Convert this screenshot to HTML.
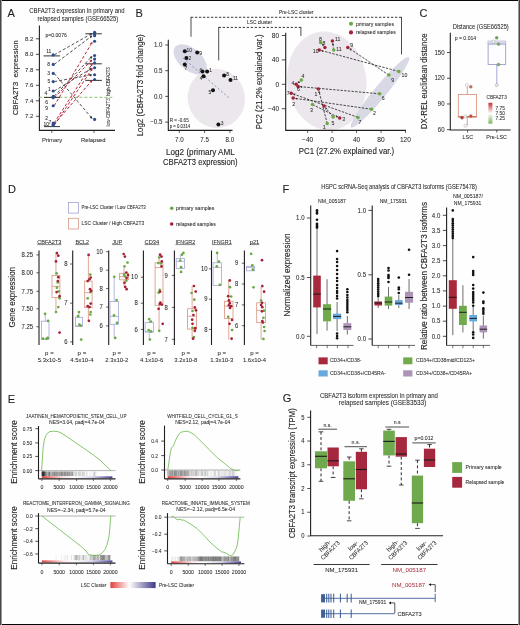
<!DOCTYPE html>
<html><head><meta charset="utf-8"><style>
html,body{margin:0;padding:0;background:#fff;}
svg{display:block;will-change:transform;}
text{font-family:"Liberation Sans", sans-serif;}
</style></head><body>
<svg width="520" height="625" viewBox="0 0 520 625">
<rect x="0" y="0" width="520" height="625" fill="#fefefe"/>
<text x="7.4" y="17" font-size="11" fill="#231f20" stroke="#231f20" stroke-width="0.12">A</text>
<text x="29.2" y="13.2" font-size="6.6" fill="#231f20" stroke="#231f20" stroke-width="0.05" textLength="95.4" lengthAdjust="spacingAndGlyphs">CBFA2T3 expression in primary and</text>
<text x="37.5" y="20.7" font-size="6.6" fill="#231f20" stroke="#231f20" stroke-width="0.05" textLength="80.8" lengthAdjust="spacingAndGlyphs">relapsed samples (GSE66525)</text>
<line x1="39.4" y1="25.4" x2="39.4" y2="130.4" stroke="#231f20" stroke-width="1.1"/>
<line x1="39" y1="130.4" x2="115" y2="130.4" stroke="#231f20" stroke-width="1.1"/>
<line x1="35.9" y1="38.8" x2="39.4" y2="38.8" stroke="#231f20" stroke-width="0.8"/>
<text x="33.3" y="40.9" font-size="6" fill="#231f20" stroke="#231f20" stroke-width="0.05" text-anchor="end">8.2</text>
<line x1="35.9" y1="54.3" x2="39.4" y2="54.3" stroke="#231f20" stroke-width="0.8"/>
<text x="33.3" y="56.4" font-size="6" fill="#231f20" stroke="#231f20" stroke-width="0.05" text-anchor="end">8.0</text>
<line x1="35.9" y1="69.8" x2="39.4" y2="69.8" stroke="#231f20" stroke-width="0.8"/>
<text x="33.3" y="71.9" font-size="6" fill="#231f20" stroke="#231f20" stroke-width="0.05" text-anchor="end">7.8</text>
<line x1="35.9" y1="85.3" x2="39.4" y2="85.3" stroke="#231f20" stroke-width="0.8"/>
<text x="33.3" y="87.4" font-size="6" fill="#231f20" stroke="#231f20" stroke-width="0.05" text-anchor="end">7.6</text>
<line x1="35.9" y1="100.8" x2="39.4" y2="100.8" stroke="#231f20" stroke-width="0.8"/>
<text x="33.3" y="102.9" font-size="6" fill="#231f20" stroke="#231f20" stroke-width="0.05" text-anchor="end">7.4</text>
<line x1="35.9" y1="116.3" x2="39.4" y2="116.3" stroke="#231f20" stroke-width="0.8"/>
<text x="33.3" y="118.4" font-size="6" fill="#231f20" stroke="#231f20" stroke-width="0.05" text-anchor="end">7.2</text>
<line x1="51.8" y1="130.4" x2="51.8" y2="133" stroke="#231f20" stroke-width="0.7"/>
<line x1="94" y1="130.4" x2="94" y2="133" stroke="#231f20" stroke-width="0.7"/>
<text x="52" y="141.8" font-size="6" fill="#231f20" stroke="#231f20" stroke-width="0.05" text-anchor="middle" textLength="20.2" lengthAdjust="spacingAndGlyphs">Primary</text>
<text x="93.3" y="141.8" font-size="6" fill="#231f20" stroke="#231f20" stroke-width="0.05" text-anchor="middle" textLength="24.6" lengthAdjust="spacingAndGlyphs">Relapsed</text>
<text transform="translate(17.7 77.7) rotate(-90)" font-size="7.3" fill="#231f20" stroke="#231f20" stroke-width="0.12" text-anchor="middle" textLength="75" lengthAdjust="spacingAndGlyphs">CBFA2T3  expression</text>
<text x="45.4" y="36.6" font-size="5.6" fill="#231f20" stroke="#231f20" stroke-width="0.05" textLength="21.5" lengthAdjust="spacingAndGlyphs">p=0.0076</text>
<line x1="39.4" y1="97.4" x2="114.5" y2="97.4" stroke="#a6cf8a" stroke-width="1.1" stroke-dasharray="3 2"/>
<text transform="translate(110.3 126.5) rotate(-90)" font-size="4.7" fill="#231f20" stroke="#231f20" stroke-width="0.05" textLength="28.2" lengthAdjust="spacingAndGlyphs">low-CBFA2T3</text>
<text transform="translate(110.3 95.9) rotate(-90)" font-size="4.7" fill="#231f20" stroke="#231f20" stroke-width="0.05" textLength="28.7" lengthAdjust="spacingAndGlyphs">high-CBFA2T3</text>
<line x1="43.6" y1="55.9" x2="60" y2="55.9" stroke="#231f20" stroke-width="0.9"/>
<line x1="44" y1="97.4" x2="60" y2="97.4" stroke="#231f20" stroke-width="0.9"/>
<line x1="44" y1="126.6" x2="60" y2="126.6" stroke="#231f20" stroke-width="0.9"/>
<line x1="85.3" y1="33.8" x2="101.9" y2="33.8" stroke="#231f20" stroke-width="0.9"/>
<line x1="85.3" y1="63.8" x2="101.9" y2="63.8" stroke="#231f20" stroke-width="0.9"/>
<line x1="85.3" y1="80.4" x2="101.9" y2="80.4" stroke="#231f20" stroke-width="0.9"/>
<defs><marker id="ak" viewBox="0 0 6 6" refX="5" refY="3" markerWidth="2.8" markerHeight="2.8" orient="auto"><path d="M0,0 L6,3 L0,6 z" fill="#333"/></marker><marker id="ar" viewBox="0 0 6 6" refX="5" refY="3" markerWidth="2.8" markerHeight="2.8" orient="auto"><path d="M0,0 L6,3 L0,6 z" fill="#b5283a"/></marker></defs>
<line x1="54.2" y1="54.9" x2="91.93" y2="33.49" stroke="#505050" stroke-width="1" stroke-dasharray="3 2" marker-end="url(#ak)"/>
<line x1="54.2" y1="64.4" x2="92" y2="35.8" stroke="#505050" stroke-width="1" stroke-dasharray="3 2" marker-end="url(#ak)"/>
<line x1="54.2" y1="73.4" x2="92.16" y2="118.63" stroke="#505050" stroke-width="1" stroke-dasharray="3 2" marker-end="url(#ak)"/>
<line x1="54.2" y1="81.6" x2="91.82" y2="74.88" stroke="#505050" stroke-width="1" stroke-dasharray="3 2" marker-end="url(#ak)"/>
<line x1="54.2" y1="91" x2="91.94" y2="68.22" stroke="#505050" stroke-width="1" stroke-dasharray="3 2" marker-end="url(#ak)"/>
<line x1="54.2" y1="96.2" x2="92.11" y2="56.23" stroke="#505050" stroke-width="1" stroke-dasharray="3 2" marker-end="url(#ak)"/>
<line x1="54.2" y1="97.8" x2="92.09" y2="59.81" stroke="#b5283a" stroke-width="1" stroke-dasharray="3 2" marker-end="url(#ar)"/>
<line x1="54.2" y1="105.8" x2="92.29" y2="42.16" stroke="#b5283a" stroke-width="1" stroke-dasharray="3 2" marker-end="url(#ar)"/>
<line x1="54.2" y1="123" x2="92.26" y2="63.74" stroke="#b5283a" stroke-width="1" stroke-dasharray="3 2" marker-end="url(#ar)"/>
<line x1="54.2" y1="124.2" x2="92.15" y2="80.26" stroke="#b5283a" stroke-width="1" stroke-dasharray="3 2" marker-end="url(#ar)"/>
<line x1="54.2" y1="125.4" x2="92.24" y2="68.73" stroke="#b5283a" stroke-width="1" stroke-dasharray="3 2" marker-end="url(#ar)"/>
<circle cx="53.2" cy="54.9" r="1.55" fill="#2b4c8c"/>
<circle cx="53.2" cy="64.4" r="1.55" fill="#2b4c8c"/>
<circle cx="53.2" cy="73.4" r="1.55" fill="#2b4c8c"/>
<circle cx="53.2" cy="81.6" r="1.55" fill="#2b4c8c"/>
<circle cx="53.2" cy="91" r="1.55" fill="#2b4c8c"/>
<circle cx="53.2" cy="96.2" r="1.55" fill="#2b4c8c"/>
<circle cx="53.2" cy="97.8" r="1.55" fill="#2b4c8c"/>
<circle cx="53.2" cy="105.8" r="1.55" fill="#2b4c8c"/>
<circle cx="53.2" cy="123" r="1.55" fill="#2b4c8c"/>
<circle cx="53.2" cy="124.2" r="1.55" fill="#2b4c8c"/>
<circle cx="53.2" cy="125.4" r="1.55" fill="#2b4c8c"/>
<circle cx="94.6" cy="32.2" r="1.55" fill="#2b4c8c"/>
<circle cx="94.6" cy="34.1" r="1.55" fill="#2b4c8c"/>
<circle cx="94.6" cy="35.7" r="1.55" fill="#2b4c8c"/>
<circle cx="94.6" cy="41.3" r="1.55" fill="#2b4c8c"/>
<circle cx="94.6" cy="55.5" r="1.55" fill="#2b4c8c"/>
<circle cx="94.6" cy="59.1" r="1.55" fill="#2b4c8c"/>
<circle cx="94.6" cy="62.9" r="1.55" fill="#2b4c8c"/>
<circle cx="94.6" cy="67.7" r="1.55" fill="#2b4c8c"/>
<circle cx="94.6" cy="74.7" r="1.55" fill="#2b4c8c"/>
<circle cx="94.6" cy="79.5" r="1.55" fill="#2b4c8c"/>
<circle cx="94.6" cy="119.4" r="1.55" fill="#2b4c8c"/>
<text x="46.2" y="52.7" font-size="5" fill="#231f20" stroke="#231f20" stroke-width="0.05">11</text>
<text x="47.3" y="66.3" font-size="5" fill="#231f20" stroke="#231f20" stroke-width="0.05">8</text>
<text x="47.3" y="75.3" font-size="5" fill="#231f20" stroke="#231f20" stroke-width="0.05">3</text>
<text x="47.5" y="83.4" font-size="5" fill="#231f20" stroke="#231f20" stroke-width="0.05">5</text>
<text x="48" y="91.4" font-size="5" fill="#231f20" stroke="#231f20" stroke-width="0.05">1</text>
<text x="44.4" y="95.4" font-size="5" fill="#231f20" stroke="#231f20" stroke-width="0.05">4</text>
<text x="45.2" y="103.8" font-size="5" fill="#231f20" stroke="#231f20" stroke-width="0.05">6</text>
<text x="45.2" y="110.4" font-size="5" fill="#231f20" stroke="#231f20" stroke-width="0.05">9</text>
<text x="45.2" y="120.2" font-size="5" fill="#231f20" stroke="#231f20" stroke-width="0.05">2</text>
<text x="43.4" y="125.6" font-size="5" fill="#231f20" stroke="#231f20" stroke-width="0.05">10</text>
<text x="48.6" y="124.2" font-size="5" fill="#231f20" stroke="#231f20" stroke-width="0.05">7</text>
<text x="135.5" y="16.7" font-size="11" fill="#231f20" stroke="#231f20" stroke-width="0.12">B</text>
<ellipse cx="190.2" cy="59.4" rx="19.6" ry="11" fill="#d9d9e5" transform="rotate(40 190.2 59.4)"/>
<ellipse cx="216.3" cy="98.3" rx="28.5" ry="29.8" fill="#ebe7ec" transform="rotate(-20 216.3 98.3)"/>
<line x1="168.3" y1="39.8" x2="168.3" y2="130.4" stroke="#231f20" stroke-width="1.1"/>
<line x1="167.9" y1="130.4" x2="232.5" y2="130.4" stroke="#231f20" stroke-width="1.1"/>
<line x1="165.3" y1="45" x2="168.3" y2="45" stroke="#231f20" stroke-width="0.8"/>
<text x="162.5" y="47.2" font-size="6.5" fill="#231f20" stroke="#231f20" stroke-width="0.05" text-anchor="end" textLength="8.62" lengthAdjust="spacingAndGlyphs">1.0</text>
<line x1="165.3" y1="70.7" x2="168.3" y2="70.7" stroke="#231f20" stroke-width="0.8"/>
<text x="162.5" y="72.9" font-size="6.5" fill="#231f20" stroke="#231f20" stroke-width="0.05" text-anchor="end" textLength="8.62" lengthAdjust="spacingAndGlyphs">0.5</text>
<line x1="165.3" y1="96.4" x2="168.3" y2="96.4" stroke="#231f20" stroke-width="0.8"/>
<text x="162.5" y="98.6" font-size="6.5" fill="#231f20" stroke="#231f20" stroke-width="0.05" text-anchor="end" textLength="8.62" lengthAdjust="spacingAndGlyphs">0.0</text>
<line x1="165.3" y1="122.1" x2="168.3" y2="122.1" stroke="#231f20" stroke-width="0.8"/>
<text x="162.5" y="124.3" font-size="6.5" fill="#231f20" stroke="#231f20" stroke-width="0.05" text-anchor="end" textLength="12.24" lengthAdjust="spacingAndGlyphs">−0.5</text>
<line x1="179.3" y1="130.4" x2="179.3" y2="133" stroke="#231f20" stroke-width="0.7"/>
<text x="179.3" y="141.8" font-size="6.5" fill="#231f20" stroke="#231f20" stroke-width="0.05" text-anchor="middle" textLength="8.62" lengthAdjust="spacingAndGlyphs">7.0</text>
<line x1="204.6" y1="130.4" x2="204.6" y2="133" stroke="#231f20" stroke-width="0.7"/>
<text x="204.6" y="141.8" font-size="6.5" fill="#231f20" stroke="#231f20" stroke-width="0.05" text-anchor="middle" textLength="8.62" lengthAdjust="spacingAndGlyphs">7.5</text>
<line x1="229.9" y1="130.4" x2="229.9" y2="133" stroke="#231f20" stroke-width="0.7"/>
<text x="229.9" y="141.8" font-size="6.5" fill="#231f20" stroke="#231f20" stroke-width="0.05" text-anchor="middle" textLength="8.62" lengthAdjust="spacingAndGlyphs">8.0</text>
<text x="200.4" y="154.9" font-size="8.3" fill="#231f20" stroke="#231f20" stroke-width="0.12" text-anchor="middle" textLength="68.7" lengthAdjust="spacingAndGlyphs">Log2 (primary AML</text>
<text x="200.3" y="164.7" font-size="8.3" fill="#231f20" stroke="#231f20" stroke-width="0.12" text-anchor="middle" textLength="74.4" lengthAdjust="spacingAndGlyphs">CBFA2T3 expression)</text>
<text transform="translate(143.4 85.3) rotate(-90)" font-size="8.3" fill="#231f20" stroke="#231f20" stroke-width="0.12" text-anchor="middle" textLength="102" lengthAdjust="spacingAndGlyphs">Log2 (CBFA2T3 fold change)</text>
<line x1="182.9" y1="57.9" x2="229.5" y2="98.3" stroke="#6a78b8" stroke-width="0.7" stroke-dasharray="2.2 2"/>
<circle cx="184.8" cy="51.2" r="2" fill="#111"/>
<text x="186.6" y="52" font-size="4.9" fill="#231f20" stroke="#231f20" stroke-width="0.05">10</text>
<circle cx="197.2" cy="52.5" r="2" fill="#111"/>
<text x="199.3" y="55.1" font-size="4.9" fill="#231f20" stroke="#231f20" stroke-width="0.05">9</text>
<circle cx="186.4" cy="57.9" r="2" fill="#111"/>
<text x="188.5" y="59.5" font-size="4.9" fill="#231f20" stroke="#231f20" stroke-width="0.05">2</text>
<circle cx="184.8" cy="64.6" r="2" fill="#111"/>
<text x="184.6" y="70.4" font-size="4.9" fill="#231f20" stroke="#231f20" stroke-width="0.05">7</text>
<circle cx="202.5" cy="71.4" r="2" fill="#111"/>
<text x="199.4" y="71.9" font-size="4.9" fill="#231f20" stroke="#231f20" stroke-width="0.05">6</text>
<circle cx="207.1" cy="71.4" r="2" fill="#111"/>
<text x="209.3" y="71.8" font-size="4.9" fill="#231f20" stroke="#231f20" stroke-width="0.05">1</text>
<circle cx="203.6" cy="76.2" r="2" fill="#111"/>
<text x="199.7" y="80.4" font-size="4.9" fill="#231f20" stroke="#231f20" stroke-width="0.05">4</text>
<circle cx="224.1" cy="75.4" r="2" fill="#111"/>
<text x="226.3" y="75.8" font-size="4.9" fill="#231f20" stroke="#231f20" stroke-width="0.05">8</text>
<circle cx="230.5" cy="80" r="2" fill="#111"/>
<text x="232.9" y="80.2" font-size="4.9" fill="#231f20" stroke="#231f20" stroke-width="0.05">11</text>
<circle cx="213" cy="90.2" r="2" fill="#111"/>
<text x="208.4" y="93.6" font-size="4.9" fill="#231f20" stroke="#231f20" stroke-width="0.05">5</text>
<circle cx="218.4" cy="124.6" r="2" fill="#111"/>
<text x="220.8" y="124.8" font-size="4.9" fill="#231f20" stroke="#231f20" stroke-width="0.05">3</text>
<text x="169.7" y="121.7" font-size="4.6" fill="#231f20" stroke="#231f20" stroke-width="0.05" textLength="19" lengthAdjust="spacingAndGlyphs">R = -0.65</text>
<text x="169.7" y="127.7" font-size="4.6" fill="#231f20" stroke="#231f20" stroke-width="0.05" textLength="20.5" lengthAdjust="spacingAndGlyphs">p = 0.0314</text>
<line x1="191" y1="17.3" x2="401.5" y2="17.3" stroke="#222" stroke-width="0.9" stroke-dasharray="2.3 1.7"/>
<line x1="191" y1="16.85" x2="191" y2="36.7" stroke="#231f20" stroke-width="0.8"/>
<line x1="401.5" y1="16.85" x2="401.5" y2="54.5" stroke="#231f20" stroke-width="0.8"/>
<text x="296.3" y="14.3" font-size="4.9" fill="#231f20" stroke="#231f20" stroke-width="0.05" text-anchor="middle" textLength="34.4" lengthAdjust="spacingAndGlyphs">Pre-LSC cluster</text>
<line x1="218.7" y1="27.4" x2="300.9" y2="27.4" stroke="#222" stroke-width="0.9" stroke-dasharray="2.3 1.7"/>
<line x1="218.7" y1="26.95" x2="218.7" y2="60.4" stroke="#231f20" stroke-width="0.8"/>
<line x1="300.9" y1="26.95" x2="300.9" y2="36" stroke="#231f20" stroke-width="0.8"/>
<text x="259.5" y="24.2" font-size="4.9" fill="#231f20" stroke="#231f20" stroke-width="0.05" text-anchor="middle" textLength="25" lengthAdjust="spacingAndGlyphs">LSC cluster</text>
<ellipse cx="326.8" cy="81" rx="39.5" ry="49.5" fill="#ebe7ec" transform="rotate(-8 325.5 81)"/>
<ellipse cx="380" cy="92.3" rx="45.5" ry="6.3" fill="#d9d9e5" transform="rotate(-50.5 380 92.3)"/>
<line x1="285.7" y1="32.7" x2="285.7" y2="130.4" stroke="#231f20" stroke-width="1.1"/>
<line x1="285.3" y1="130.4" x2="406" y2="130.4" stroke="#231f20" stroke-width="1.1"/>
<line x1="281.8" y1="35.5" x2="285.7" y2="35.5" stroke="#231f20" stroke-width="0.8"/>
<text x="279.2" y="37.8" font-size="6.8" fill="#231f20" stroke="#231f20" stroke-width="0.05" text-anchor="end" textLength="7.34" lengthAdjust="spacingAndGlyphs">80</text>
<line x1="281.8" y1="59.9" x2="285.7" y2="59.9" stroke="#231f20" stroke-width="0.8"/>
<text x="279.2" y="62.2" font-size="6.8" fill="#231f20" stroke="#231f20" stroke-width="0.05" text-anchor="end" textLength="7.34" lengthAdjust="spacingAndGlyphs">40</text>
<line x1="281.8" y1="84.3" x2="285.7" y2="84.3" stroke="#231f20" stroke-width="0.8"/>
<text x="279.2" y="86.6" font-size="6.8" fill="#231f20" stroke="#231f20" stroke-width="0.05" text-anchor="end" textLength="3.67" lengthAdjust="spacingAndGlyphs">0</text>
<line x1="281.8" y1="108.7" x2="285.7" y2="108.7" stroke="#231f20" stroke-width="0.8"/>
<text x="279.2" y="111" font-size="6.8" fill="#231f20" stroke="#231f20" stroke-width="0.05" text-anchor="end" textLength="11.2" lengthAdjust="spacingAndGlyphs">−40</text>
<line x1="307.65" y1="130.4" x2="307.65" y2="133" stroke="#231f20" stroke-width="0.7"/>
<text x="307.65" y="141.8" font-size="6.8" fill="#231f20" stroke="#231f20" stroke-width="0.05" text-anchor="middle" textLength="11.2" lengthAdjust="spacingAndGlyphs">−40</text>
<line x1="332.1" y1="130.4" x2="332.1" y2="133" stroke="#231f20" stroke-width="0.7"/>
<text x="332.1" y="141.8" font-size="6.8" fill="#231f20" stroke="#231f20" stroke-width="0.05" text-anchor="middle" textLength="3.67" lengthAdjust="spacingAndGlyphs">0</text>
<line x1="356.55" y1="130.4" x2="356.55" y2="133" stroke="#231f20" stroke-width="0.7"/>
<text x="356.55" y="141.8" font-size="6.8" fill="#231f20" stroke="#231f20" stroke-width="0.05" text-anchor="middle" textLength="7.34" lengthAdjust="spacingAndGlyphs">40</text>
<line x1="381" y1="130.4" x2="381" y2="133" stroke="#231f20" stroke-width="0.7"/>
<text x="381" y="141.8" font-size="6.8" fill="#231f20" stroke="#231f20" stroke-width="0.05" text-anchor="middle" textLength="7.34" lengthAdjust="spacingAndGlyphs">80</text>
<line x1="405.45" y1="130.4" x2="405.45" y2="133" stroke="#231f20" stroke-width="0.7"/>
<text x="405.45" y="141.8" font-size="6.8" fill="#231f20" stroke="#231f20" stroke-width="0.05" text-anchor="middle" textLength="11.01" lengthAdjust="spacingAndGlyphs">120</text>
<text x="346.5" y="154.1" font-size="8.3" fill="#231f20" stroke="#231f20" stroke-width="0.12" text-anchor="middle" textLength="95.5" lengthAdjust="spacingAndGlyphs">PC1 (27.2% explained var.)</text>
<text transform="translate(262.1 81.8) rotate(-90)" font-size="8.3" fill="#231f20" stroke="#231f20" stroke-width="0.12" text-anchor="middle" textLength="95" lengthAdjust="spacingAndGlyphs">PC2 (21.2% explained var.)</text>
<circle cx="351" cy="23.8" r="2.05" fill="#6aaa45"/>
<text x="356" y="25.8" font-size="5.8" fill="#231f20" stroke="#231f20" stroke-width="0.05" textLength="38" lengthAdjust="spacingAndGlyphs">primary samples</text>
<circle cx="351" cy="32.4" r="2.05" fill="#a51f36"/>
<text x="356" y="33.9" font-size="5.8" fill="#231f20" stroke="#231f20" stroke-width="0.05" textLength="39.8" lengthAdjust="spacingAndGlyphs">relapsed samples</text>
<line x1="388.9" y1="75.1" x2="349.62" y2="48.63" stroke="#2a2a2a" stroke-width="0.85" stroke-dasharray="2.4 1.3" marker-end="url(#ak)"/>
<line x1="398.9" y1="71.5" x2="321.42" y2="50.57" stroke="#2a2a2a" stroke-width="0.85" stroke-dasharray="2.4 1.3" marker-end="url(#ak)"/>
<line x1="379.7" y1="93.8" x2="300.29" y2="86.7" stroke="#2a2a2a" stroke-width="0.85" stroke-dasharray="2.4 1.3" marker-end="url(#ak)"/>
<line x1="371.5" y1="109.2" x2="295.38" y2="98.41" stroke="#2a2a2a" stroke-width="0.85" stroke-dasharray="2.4 1.3" marker-end="url(#ak)"/>
<line x1="358" y1="117.4" x2="293.27" y2="93.95" stroke="#2a2a2a" stroke-width="0.85" stroke-dasharray="2.4 1.3" marker-end="url(#ak)"/>
<line x1="312.5" y1="104.6" x2="337.73" y2="117.03" stroke="#2a2a2a" stroke-width="0.85" stroke-dasharray="2.4 1.3" marker-end="url(#ak)"/>
<line x1="327.2" y1="123.6" x2="318.94" y2="91.03" stroke="#2a2a2a" stroke-width="0.85" stroke-dasharray="2.4 1.3" marker-end="url(#ak)"/>
<line x1="333.1" y1="117" x2="325.39" y2="107.6" stroke="#2a2a2a" stroke-width="0.85" stroke-dasharray="2.4 1.3" marker-end="url(#ak)"/>
<line x1="301.4" y1="80.1" x2="297.82" y2="82.93" stroke="#2a2a2a" stroke-width="0.85" stroke-dasharray="2.4 1.3" marker-end="url(#ak)"/>
<line x1="320.6" y1="42.5" x2="323.45" y2="45.75" stroke="#2a2a2a" stroke-width="0.85" stroke-dasharray="2.4 1.3" marker-end="url(#ak)"/>
<line x1="333.7" y1="50" x2="332.71" y2="43.08" stroke="#2a2a2a" stroke-width="0.85" stroke-dasharray="2.4 1.3" marker-end="url(#ak)"/>
<circle cx="320.6" cy="42.5" r="1.75" fill="#6aaa45"/>
<circle cx="333.7" cy="50" r="1.75" fill="#6aaa45"/>
<circle cx="301.4" cy="80.1" r="1.75" fill="#6aaa45"/>
<circle cx="388.9" cy="75.1" r="1.75" fill="#6aaa45"/>
<circle cx="398.9" cy="71.5" r="1.75" fill="#6aaa45"/>
<circle cx="379.7" cy="93.8" r="1.75" fill="#6aaa45"/>
<circle cx="371.5" cy="109.2" r="1.75" fill="#6aaa45"/>
<circle cx="358" cy="117.4" r="1.75" fill="#6aaa45"/>
<circle cx="312.5" cy="104.6" r="1.75" fill="#6aaa45"/>
<circle cx="333.1" cy="117" r="1.75" fill="#6aaa45"/>
<circle cx="327.2" cy="123.6" r="1.75" fill="#6aaa45"/>
<circle cx="332.4" cy="40.9" r="1.75" fill="#a51f36"/>
<circle cx="324.9" cy="47.4" r="1.75" fill="#a51f36"/>
<circle cx="319.3" cy="50" r="1.75" fill="#a51f36"/>
<circle cx="347.8" cy="47.4" r="1.75" fill="#a51f36"/>
<circle cx="296.1" cy="84.3" r="1.75" fill="#a51f36"/>
<circle cx="298.1" cy="86.5" r="1.75" fill="#a51f36"/>
<circle cx="318.4" cy="88.9" r="1.75" fill="#a51f36"/>
<circle cx="291.2" cy="93.2" r="1.75" fill="#a51f36"/>
<circle cx="293.2" cy="98.1" r="1.75" fill="#a51f36"/>
<circle cx="339.7" cy="118" r="1.75" fill="#a51f36"/>
<circle cx="324" cy="105.9" r="1.75" fill="#a51f36"/>
<text x="319.1" y="40.5" font-size="5.2" fill="#231f20" stroke="#231f20" stroke-width="0.05">8</text>
<text x="336.2" y="50.8" font-size="5.2" fill="#231f20" stroke="#231f20" stroke-width="0.05">11</text>
<text x="301.4" y="78.1" font-size="5.2" fill="#231f20" stroke="#231f20" stroke-width="0.05">4</text>
<text x="391.2" y="81.5" font-size="5.2" fill="#231f20" stroke="#231f20" stroke-width="0.05">9</text>
<text x="401.5" y="76.9" font-size="5.2" fill="#231f20" stroke="#231f20" stroke-width="0.05">10</text>
<text x="381.8" y="100" font-size="5.2" fill="#231f20" stroke="#231f20" stroke-width="0.05">6</text>
<text x="373" y="114.6" font-size="5.2" fill="#231f20" stroke="#231f20" stroke-width="0.05">2</text>
<text x="358.5" y="124.3" font-size="5.2" fill="#231f20" stroke="#231f20" stroke-width="0.05">7</text>
<text x="310" y="111.6" font-size="5.2" fill="#231f20" stroke="#231f20" stroke-width="0.05">3</text>
<text x="331.6" y="124.5" font-size="5.2" fill="#231f20" stroke="#231f20" stroke-width="0.05">5</text>
<text x="322.7" y="129.4" font-size="5.2" fill="#231f20" stroke="#231f20" stroke-width="0.05">1</text>
<text x="334.9" y="41.4" font-size="5.2" fill="#231f20" stroke="#231f20" stroke-width="0.05">11</text>
<text x="322.4" y="45.4" font-size="5.2" fill="#231f20" stroke="#231f20" stroke-width="0.05">8</text>
<text x="312.8" y="53" font-size="5.2" fill="#231f20" stroke="#231f20" stroke-width="0.05">10</text>
<text x="350.3" y="47.4" font-size="5.2" fill="#231f20" stroke="#231f20" stroke-width="0.05">9</text>
<text x="291.6" y="85.3" font-size="5.2" fill="#231f20" stroke="#231f20" stroke-width="0.05">4</text>
<text x="297.1" y="90.5" font-size="5.2" fill="#231f20" stroke="#231f20" stroke-width="0.05">6</text>
<text x="314.4" y="96.4" font-size="5.2" fill="#231f20" stroke="#231f20" stroke-width="0.05">1</text>
<text x="286.7" y="94.7" font-size="5.2" fill="#231f20" stroke="#231f20" stroke-width="0.05">7</text>
<text x="292.2" y="106.1" font-size="5.2" fill="#231f20" stroke="#231f20" stroke-width="0.05">2</text>
<text x="342.2" y="121" font-size="5.2" fill="#231f20" stroke="#231f20" stroke-width="0.05">3</text>
<text x="419.6" y="16.6" font-size="11" fill="#231f20" stroke="#231f20" stroke-width="0.12">C</text>
<text x="452.8" y="28.5" font-size="6.4" fill="#231f20" stroke="#231f20" stroke-width="0.05" textLength="56" lengthAdjust="spacingAndGlyphs">Distance (GSE66525)</text>
<line x1="450.3" y1="32.8" x2="450.3" y2="130" stroke="#231f20" stroke-width="1.1"/>
<line x1="449.8" y1="130" x2="510.6" y2="130" stroke="#231f20" stroke-width="1.1"/>
<line x1="447" y1="52.51" x2="450.3" y2="52.51" stroke="#231f20" stroke-width="0.8"/>
<text x="444.5" y="54.71" font-size="6.4" fill="#231f20" stroke="#231f20" stroke-width="0.05" text-anchor="end" textLength="10.09" lengthAdjust="spacingAndGlyphs">150</text>
<line x1="447" y1="78.24" x2="450.3" y2="78.24" stroke="#231f20" stroke-width="0.8"/>
<text x="444.5" y="80.44" font-size="6.4" fill="#231f20" stroke="#231f20" stroke-width="0.05" text-anchor="end" textLength="10.09" lengthAdjust="spacingAndGlyphs">120</text>
<line x1="447" y1="103.97" x2="450.3" y2="103.97" stroke="#231f20" stroke-width="0.8"/>
<text x="444.5" y="106.17" font-size="6.4" fill="#231f20" stroke="#231f20" stroke-width="0.05" text-anchor="end" textLength="6.73" lengthAdjust="spacingAndGlyphs">90</text>
<line x1="447" y1="129.7" x2="450.3" y2="129.7" stroke="#231f20" stroke-width="0.8"/>
<text x="444.5" y="131.9" font-size="6.4" fill="#231f20" stroke="#231f20" stroke-width="0.05" text-anchor="end" textLength="6.73" lengthAdjust="spacingAndGlyphs">60</text>
<line x1="467.6" y1="130" x2="467.6" y2="132.6" stroke="#231f20" stroke-width="0.7"/>
<line x1="496.8" y1="130" x2="496.8" y2="132.6" stroke="#231f20" stroke-width="0.7"/>
<text x="467.8" y="139.2" font-size="6.2" fill="#231f20" stroke="#231f20" stroke-width="0.05" text-anchor="middle" textLength="10.6" lengthAdjust="spacingAndGlyphs">LSC</text>
<text x="496.6" y="139.2" font-size="6.2" fill="#231f20" stroke="#231f20" stroke-width="0.05" text-anchor="middle" textLength="20.6" lengthAdjust="spacingAndGlyphs">Pre-LSC</text>
<text transform="translate(427.3 81.3) rotate(-90)" font-size="8.2" fill="#231f20" stroke="#231f20" stroke-width="0.12" text-anchor="middle" textLength="96" lengthAdjust="spacingAndGlyphs">DX-REL euclidean distance</text>
<text x="454.7" y="39.8" font-size="5.6" fill="#231f20" stroke="#231f20" stroke-width="0.05" textLength="21.5" lengthAdjust="spacingAndGlyphs">p = 0.014</text>
<line x1="496.8" y1="64.4" x2="496.8" y2="85.2" stroke="#8c92c6" stroke-width="0.8"/>
<rect x="488.1" y="41.2" width="17.6" height="23.2" fill="#fdfdff" stroke="#8c92c6" stroke-width="0.8"/>
<rect x="488.1" y="41.2" width="17.6" height="2.9" fill="#dcdcef"/>
<line x1="488.1" y1="44.1" x2="505.7" y2="44.1" stroke="#8c92c6" stroke-width="0.8"/>
<line x1="467.3" y1="86.8" x2="467.3" y2="94.5" stroke="#d98b74" stroke-width="0.8"/>
<line x1="467.3" y1="117.3" x2="467.3" y2="125.3" stroke="#d98b74" stroke-width="0.8"/>
<rect x="458.3" y="94.5" width="18.1" height="22.8" fill="none" stroke="#d98b74" stroke-width="0.8"/>
<line x1="458.3" y1="116.5" x2="476.4" y2="116.5" stroke="#c86a55" stroke-width="0.9"/>
<circle cx="496.7" cy="37.7" r="1.5" fill="#6ea84e" stroke="#777" stroke-width="0.35"/>
<circle cx="493.5" cy="41.5" r="1.5" fill="#ffffff" stroke="#777" stroke-width="0.35"/>
<circle cx="498.5" cy="44.1" r="1.5" fill="#7ab25a" stroke="#777" stroke-width="0.35"/>
<circle cx="498.5" cy="64.4" r="1.5" fill="#7ab25a" stroke="#777" stroke-width="0.35"/>
<circle cx="496.7" cy="85.2" r="1.5" fill="#eef3e6" stroke="#777" stroke-width="0.35"/>
<circle cx="466.8" cy="85.2" r="1.5" fill="#ffffff" stroke="#777" stroke-width="0.35"/>
<circle cx="470.8" cy="86.8" r="1.5" fill="#cf6e5c" stroke="#777" stroke-width="0.35"/>
<circle cx="462" cy="117.7" r="1.5" fill="#c22c2c" stroke="#777" stroke-width="0.35"/>
<circle cx="465.2" cy="116.5" r="1.5" fill="#ffffff" stroke="#777" stroke-width="0.35"/>
<circle cx="470.8" cy="116.1" r="1.5" fill="#c94a3c" stroke="#777" stroke-width="0.35"/>
<circle cx="465.5" cy="125.7" r="1.5" fill="#ffffff" stroke="#777" stroke-width="0.35"/>
<text x="486.5" y="99.2" font-size="4.6" fill="#231f20" stroke="#231f20" stroke-width="0.05" textLength="20.3" lengthAdjust="spacingAndGlyphs">CBFA2T3</text>
<defs><linearGradient id="gC" x1="0" y1="0" x2="0" y2="1"><stop offset="0" stop-color="#c62d2d"/><stop offset="0.5" stop-color="#ffffff"/><stop offset="1" stop-color="#7db35c"/></linearGradient></defs>
<rect x="488.4" y="102.8" width="4" height="20.9" fill="url(#gC)"/>
<text x="495.6" y="109.7" font-size="4.8" fill="#231f20" stroke="#231f20" stroke-width="0.05">7.75</text>
<text x="495.6" y="114.9" font-size="4.8" fill="#231f20" stroke="#231f20" stroke-width="0.05">7.50</text>
<text x="495.6" y="120.3" font-size="4.8" fill="#231f20" stroke="#231f20" stroke-width="0.05">7.25</text>
<text x="8" y="192.9" font-size="11" fill="#231f20" stroke="#231f20" stroke-width="0.12">D</text>
<rect x="68.4" y="202.4" width="10.1" height="10.7" fill="none" stroke="#9ea4d2" stroke-width="0.8"/>
<rect x="68.4" y="218.3" width="10.1" height="10.7" fill="none" stroke="#d39a86" stroke-width="0.8"/>
<text x="81.6" y="209.4" font-size="5.2" fill="#231f20" stroke="#231f20" stroke-width="0.05" textLength="64.2" lengthAdjust="spacingAndGlyphs">Pre-LSC Cluster / Low CBFA2T3</text>
<text x="81.6" y="225.3" font-size="5.2" fill="#231f20" stroke="#231f20" stroke-width="0.05" textLength="62.6" lengthAdjust="spacingAndGlyphs">LSC Cluster / High CBFA2T3</text>
<circle cx="171.7" cy="208.2" r="1.8" fill="#6aaa45"/>
<text x="176" y="210" font-size="5.2" fill="#231f20" stroke="#231f20" stroke-width="0.05" textLength="38.4" lengthAdjust="spacingAndGlyphs">primary samples</text>
<circle cx="171.7" cy="224" r="1.8" fill="#a51f36"/>
<text x="176" y="225.8" font-size="5.2" fill="#231f20" stroke="#231f20" stroke-width="0.05" textLength="39.9" lengthAdjust="spacingAndGlyphs">relapsed samples</text>
<text x="37.2" y="243.8" font-size="6.1" fill="#231f20" stroke="#231f20" stroke-width="0.05" textLength="24.1" lengthAdjust="spacingAndGlyphs">CBFA2T3</text>
<line x1="37.2" y1="244.6" x2="61.3" y2="244.6" stroke="#231f20" stroke-width="0.55"/>
<line x1="39" y1="250.5" x2="39" y2="345" stroke="#231f20" stroke-width="1.1"/>
<line x1="36.4" y1="254.9" x2="39" y2="254.9" stroke="#231f20" stroke-width="0.7"/>
<text x="33.2" y="257.1" font-size="6.3" fill="#231f20" stroke="#231f20" stroke-width="0.05" text-anchor="end" textLength="11.58" lengthAdjust="spacingAndGlyphs">8.25</text>
<line x1="36.4" y1="272.8" x2="39" y2="272.8" stroke="#231f20" stroke-width="0.7"/>
<text x="33.2" y="275" font-size="6.3" fill="#231f20" stroke="#231f20" stroke-width="0.05" text-anchor="end" textLength="11.58" lengthAdjust="spacingAndGlyphs">8.00</text>
<line x1="36.4" y1="291.3" x2="39" y2="291.3" stroke="#231f20" stroke-width="0.7"/>
<text x="33.2" y="293.5" font-size="6.3" fill="#231f20" stroke="#231f20" stroke-width="0.05" text-anchor="end" textLength="11.58" lengthAdjust="spacingAndGlyphs">7.75</text>
<line x1="36.4" y1="308.8" x2="39" y2="308.8" stroke="#231f20" stroke-width="0.7"/>
<text x="33.2" y="311" font-size="6.3" fill="#231f20" stroke="#231f20" stroke-width="0.05" text-anchor="end" textLength="11.58" lengthAdjust="spacingAndGlyphs">7.50</text>
<line x1="36.4" y1="326.8" x2="39" y2="326.8" stroke="#231f20" stroke-width="0.7"/>
<text x="33.2" y="329" font-size="6.3" fill="#231f20" stroke="#231f20" stroke-width="0.05" text-anchor="end" textLength="11.58" lengthAdjust="spacingAndGlyphs">7.25</text>
<line x1="45.25" y1="313.2" x2="45.25" y2="321.2" stroke="#a3a8d4" stroke-width="0.8"/>
<rect x="41.5" y="321.2" width="7.5" height="18.1" fill="none" stroke="#a3a8d4" stroke-width="0.8"/>
<line x1="41.5" y1="338.8" x2="49" y2="338.8" stroke="#a3a8d4" stroke-width="0.8"/>
<line x1="55.95" y1="253.1" x2="55.95" y2="275.4" stroke="#d7937e" stroke-width="0.8"/>
<line x1="55.95" y1="297.4" x2="55.95" y2="312.4" stroke="#d7937e" stroke-width="0.8"/>
<rect x="52" y="275.4" width="7.9" height="22" fill="none" stroke="#d7937e" stroke-width="0.8"/>
<line x1="52" y1="286.3" x2="59.9" y2="286.3" stroke="#d7937e" stroke-width="0.8"/>
<circle cx="45.1" cy="313.8" r="1.35" fill="#6aaa45"/>
<circle cx="48.1" cy="320.8" r="1.35" fill="#6aaa45"/>
<circle cx="42.9" cy="338.7" r="1.35" fill="#6aaa45"/>
<circle cx="46.7" cy="338.7" r="1.35" fill="#6aaa45"/>
<circle cx="47.8" cy="337.9" r="1.35" fill="#6aaa45"/>
<circle cx="56.6" cy="273.3" r="1.35" fill="#6aaa45"/>
<circle cx="57.8" cy="282.5" r="1.35" fill="#6aaa45"/>
<circle cx="56.9" cy="287.7" r="1.35" fill="#6aaa45"/>
<circle cx="58.7" cy="291.3" r="1.35" fill="#6aaa45"/>
<circle cx="59.6" cy="298.3" r="1.35" fill="#6aaa45"/>
<circle cx="58.3" cy="307.1" r="1.35" fill="#6aaa45"/>
<circle cx="56" cy="312" r="1.35" fill="#6aaa45"/>
<circle cx="56.9" cy="253.1" r="1.35" fill="#a51f36"/>
<circle cx="58.3" cy="255.7" r="1.35" fill="#a51f36"/>
<circle cx="56" cy="261.4" r="1.35" fill="#a51f36"/>
<circle cx="58.3" cy="277.2" r="1.35" fill="#a51f36"/>
<circle cx="57.8" cy="281.1" r="1.35" fill="#a51f36"/>
<circle cx="56.6" cy="292.1" r="1.35" fill="#a51f36"/>
<circle cx="59.6" cy="296.2" r="1.35" fill="#a51f36"/>
<circle cx="59.6" cy="332.6" r="1.35" fill="#a51f36"/>
<text x="75.4" y="243.8" font-size="6.1" fill="#231f20" stroke="#231f20" stroke-width="0.05" textLength="13.5" lengthAdjust="spacingAndGlyphs">BCL2</text>
<line x1="75.4" y1="244.6" x2="88.9" y2="244.6" stroke="#231f20" stroke-width="0.55"/>
<line x1="72.7" y1="250.5" x2="72.7" y2="345" stroke="#231f20" stroke-width="1.1"/>
<line x1="70.1" y1="264" x2="72.7" y2="264" stroke="#231f20" stroke-width="0.7"/>
<text x="67.5" y="266.2" font-size="6.3" fill="#231f20" stroke="#231f20" stroke-width="0.05" text-anchor="end" textLength="3.31" lengthAdjust="spacingAndGlyphs">8</text>
<line x1="70.1" y1="303.2" x2="72.7" y2="303.2" stroke="#231f20" stroke-width="0.7"/>
<text x="67.5" y="305.4" font-size="6.3" fill="#231f20" stroke="#231f20" stroke-width="0.05" text-anchor="end" textLength="3.31" lengthAdjust="spacingAndGlyphs">7</text>
<line x1="70.1" y1="341.9" x2="72.7" y2="341.9" stroke="#231f20" stroke-width="0.7"/>
<text x="67.5" y="344.1" font-size="6.3" fill="#231f20" stroke="#231f20" stroke-width="0.05" text-anchor="end" textLength="3.31" lengthAdjust="spacingAndGlyphs">6</text>
<line x1="78.9" y1="312" x2="78.9" y2="317.3" stroke="#a3a8d4" stroke-width="0.8"/>
<rect x="75.4" y="317.3" width="7" height="9.1" fill="none" stroke="#a3a8d4" stroke-width="0.8"/>
<line x1="75.4" y1="325.8" x2="82.4" y2="325.8" stroke="#a3a8d4" stroke-width="0.8"/>
<line x1="88.4" y1="254.9" x2="88.4" y2="281.1" stroke="#d7937e" stroke-width="0.8"/>
<line x1="88.4" y1="307.6" x2="88.4" y2="321.2" stroke="#d7937e" stroke-width="0.8"/>
<rect x="84.7" y="281.1" width="7.4" height="26.5" fill="none" stroke="#d7937e" stroke-width="0.8"/>
<line x1="84.7" y1="292.7" x2="92.1" y2="292.7" stroke="#d7937e" stroke-width="0.8"/>
<circle cx="78.9" cy="312" r="1.35" fill="#6aaa45"/>
<circle cx="78" cy="316.2" r="1.35" fill="#6aaa45"/>
<circle cx="79.4" cy="324.7" r="1.35" fill="#6aaa45"/>
<circle cx="80.7" cy="325.5" r="1.35" fill="#6aaa45"/>
<circle cx="81.2" cy="339.6" r="1.35" fill="#6aaa45"/>
<circle cx="90.3" cy="274.6" r="1.35" fill="#6aaa45"/>
<circle cx="90.3" cy="292.1" r="1.35" fill="#6aaa45"/>
<circle cx="87.7" cy="298.3" r="1.35" fill="#6aaa45"/>
<circle cx="90.7" cy="312" r="1.35" fill="#6aaa45"/>
<circle cx="90.3" cy="314.5" r="1.35" fill="#6aaa45"/>
<circle cx="88.6" cy="254.9" r="1.35" fill="#a51f36"/>
<circle cx="90.7" cy="277.5" r="1.35" fill="#a51f36"/>
<circle cx="89.5" cy="279.3" r="1.35" fill="#a51f36"/>
<circle cx="87.7" cy="281.1" r="1.35" fill="#a51f36"/>
<circle cx="90" cy="289.2" r="1.35" fill="#a51f36"/>
<circle cx="91.2" cy="290.9" r="1.35" fill="#a51f36"/>
<circle cx="90.7" cy="303.6" r="1.35" fill="#a51f36"/>
<circle cx="87.7" cy="306.2" r="1.35" fill="#a51f36"/>
<circle cx="89.5" cy="307.1" r="1.35" fill="#a51f36"/>
<circle cx="88.9" cy="320.8" r="1.35" fill="#a51f36"/>
<text x="112.2" y="243.8" font-size="6.1" fill="#231f20" stroke="#231f20" stroke-width="0.05" textLength="10.1" lengthAdjust="spacingAndGlyphs">JUP</text>
<line x1="112.2" y1="244.6" x2="122.3" y2="244.6" stroke="#231f20" stroke-width="0.55"/>
<line x1="108.7" y1="250.5" x2="108.7" y2="345" stroke="#231f20" stroke-width="1.1"/>
<line x1="106.1" y1="251.7" x2="108.7" y2="251.7" stroke="#231f20" stroke-width="0.7"/>
<text x="102.9" y="253.9" font-size="6.3" fill="#231f20" stroke="#231f20" stroke-width="0.05" text-anchor="end" textLength="6.62" lengthAdjust="spacingAndGlyphs">10</text>
<line x1="106.1" y1="270.2" x2="108.7" y2="270.2" stroke="#231f20" stroke-width="0.7"/>
<text x="102.9" y="272.4" font-size="6.3" fill="#231f20" stroke="#231f20" stroke-width="0.05" text-anchor="end" textLength="3.31" lengthAdjust="spacingAndGlyphs">9</text>
<line x1="106.1" y1="288.6" x2="108.7" y2="288.6" stroke="#231f20" stroke-width="0.7"/>
<text x="102.9" y="290.8" font-size="6.3" fill="#231f20" stroke="#231f20" stroke-width="0.05" text-anchor="end" textLength="3.31" lengthAdjust="spacingAndGlyphs">8</text>
<line x1="106.1" y1="307.1" x2="108.7" y2="307.1" stroke="#231f20" stroke-width="0.7"/>
<text x="102.9" y="309.3" font-size="6.3" fill="#231f20" stroke="#231f20" stroke-width="0.05" text-anchor="end" textLength="3.31" lengthAdjust="spacingAndGlyphs">7</text>
<line x1="106.1" y1="325.9" x2="108.7" y2="325.9" stroke="#231f20" stroke-width="0.7"/>
<text x="102.9" y="328.1" font-size="6.3" fill="#231f20" stroke="#231f20" stroke-width="0.05" text-anchor="end" textLength="3.31" lengthAdjust="spacingAndGlyphs">6</text>
<line x1="114.2" y1="277.2" x2="114.2" y2="301.5" stroke="#a3a8d4" stroke-width="0.8"/>
<line x1="114.2" y1="324.3" x2="114.2" y2="337.9" stroke="#a3a8d4" stroke-width="0.8"/>
<rect x="110" y="301.5" width="8.4" height="22.8" fill="none" stroke="#a3a8d4" stroke-width="0.8"/>
<line x1="110" y1="316.4" x2="118.4" y2="316.4" stroke="#a3a8d4" stroke-width="0.8"/>
<line x1="124" y1="267.5" x2="124" y2="273.3" stroke="#d7937e" stroke-width="0.8"/>
<line x1="124" y1="279.8" x2="124" y2="286" stroke="#d7937e" stroke-width="0.8"/>
<rect x="119.6" y="273.3" width="8.8" height="6.5" fill="none" stroke="#d7937e" stroke-width="0.8"/>
<line x1="119.6" y1="276.7" x2="128.4" y2="276.7" stroke="#d7937e" stroke-width="0.8"/>
<circle cx="114.3" cy="276.8" r="1.35" fill="#6aaa45"/>
<circle cx="116.6" cy="300.1" r="1.35" fill="#6aaa45"/>
<circle cx="114" cy="315.4" r="1.35" fill="#6aaa45"/>
<circle cx="117" cy="322.9" r="1.35" fill="#6aaa45"/>
<circle cx="115.2" cy="337.9" r="1.35" fill="#6aaa45"/>
<circle cx="127.5" cy="262.6" r="1.35" fill="#6aaa45"/>
<circle cx="124.5" cy="266.3" r="1.35" fill="#6aaa45"/>
<circle cx="124" cy="274.6" r="1.35" fill="#6aaa45"/>
<circle cx="124.9" cy="276.3" r="1.35" fill="#6aaa45"/>
<circle cx="126.3" cy="280.7" r="1.35" fill="#6aaa45"/>
<circle cx="123.7" cy="254" r="1.35" fill="#a51f36"/>
<circle cx="124.9" cy="256.6" r="1.35" fill="#a51f36"/>
<circle cx="126.3" cy="272.5" r="1.35" fill="#a51f36"/>
<circle cx="128" cy="275.1" r="1.35" fill="#a51f36"/>
<circle cx="126.6" cy="278.1" r="1.35" fill="#a51f36"/>
<circle cx="124.5" cy="282.8" r="1.35" fill="#a51f36"/>
<circle cx="125.2" cy="286.9" r="1.35" fill="#a51f36"/>
<circle cx="126.6" cy="289.2" r="1.35" fill="#a51f36"/>
<text x="144.6" y="243.8" font-size="6.1" fill="#231f20" stroke="#231f20" stroke-width="0.05" textLength="14.6" lengthAdjust="spacingAndGlyphs">CD34</text>
<line x1="144.6" y1="244.6" x2="159.2" y2="244.6" stroke="#231f20" stroke-width="0.55"/>
<line x1="143.4" y1="250.5" x2="143.4" y2="345" stroke="#231f20" stroke-width="1.1"/>
<line x1="140.8" y1="277.2" x2="143.4" y2="277.2" stroke="#231f20" stroke-width="0.7"/>
<text x="137.7" y="279.4" font-size="6.3" fill="#231f20" stroke="#231f20" stroke-width="0.05" text-anchor="end" textLength="6.62" lengthAdjust="spacingAndGlyphs">10</text>
<line x1="140.8" y1="303.2" x2="143.4" y2="303.2" stroke="#231f20" stroke-width="0.7"/>
<text x="137.7" y="305.4" font-size="6.3" fill="#231f20" stroke="#231f20" stroke-width="0.05" text-anchor="end" textLength="3.31" lengthAdjust="spacingAndGlyphs">8</text>
<line x1="140.8" y1="329.4" x2="143.4" y2="329.4" stroke="#231f20" stroke-width="0.7"/>
<text x="137.7" y="331.6" font-size="6.3" fill="#231f20" stroke="#231f20" stroke-width="0.05" text-anchor="end" textLength="3.31" lengthAdjust="spacingAndGlyphs">6</text>
<line x1="149.25" y1="319" x2="149.25" y2="322.6" stroke="#a3a8d4" stroke-width="0.8"/>
<line x1="149.25" y1="332.2" x2="149.25" y2="339.1" stroke="#a3a8d4" stroke-width="0.8"/>
<rect x="145.1" y="322.6" width="8.3" height="9.6" fill="none" stroke="#a3a8d4" stroke-width="0.8"/>
<line x1="145.1" y1="331.4" x2="153.4" y2="331.4" stroke="#a3a8d4" stroke-width="0.8"/>
<line x1="159.05" y1="254.3" x2="159.05" y2="262.8" stroke="#d7937e" stroke-width="0.8"/>
<line x1="159.05" y1="305.3" x2="159.05" y2="330.8" stroke="#d7937e" stroke-width="0.8"/>
<rect x="155.1" y="262.8" width="7.9" height="42.5" fill="none" stroke="#d7937e" stroke-width="0.8"/>
<line x1="155.1" y1="267.5" x2="163" y2="267.5" stroke="#d7937e" stroke-width="0.8"/>
<circle cx="149.2" cy="319" r="1.35" fill="#6aaa45"/>
<circle cx="150.9" cy="321.5" r="1.35" fill="#6aaa45"/>
<circle cx="148.6" cy="330" r="1.35" fill="#6aaa45"/>
<circle cx="150.9" cy="331.4" r="1.35" fill="#6aaa45"/>
<circle cx="149.9" cy="339.6" r="1.35" fill="#6aaa45"/>
<circle cx="159.2" cy="257.5" r="1.35" fill="#6aaa45"/>
<circle cx="158.3" cy="263.1" r="1.35" fill="#6aaa45"/>
<circle cx="160.9" cy="263.5" r="1.35" fill="#6aaa45"/>
<circle cx="159.7" cy="289.9" r="1.35" fill="#6aaa45"/>
<circle cx="158.6" cy="292.7" r="1.35" fill="#6aaa45"/>
<circle cx="159.2" cy="330.8" r="1.35" fill="#6aaa45"/>
<circle cx="160.1" cy="254.7" r="1.35" fill="#a51f36"/>
<circle cx="161.5" cy="256.6" r="1.35" fill="#a51f36"/>
<circle cx="161.8" cy="261.4" r="1.35" fill="#a51f36"/>
<circle cx="161.5" cy="266.3" r="1.35" fill="#a51f36"/>
<circle cx="160.1" cy="291.6" r="1.35" fill="#a51f36"/>
<circle cx="160.4" cy="302.7" r="1.35" fill="#a51f36"/>
<circle cx="159.7" cy="303.9" r="1.35" fill="#a51f36"/>
<circle cx="161.8" cy="304.5" r="1.35" fill="#a51f36"/>
<circle cx="158.6" cy="308.8" r="1.35" fill="#a51f36"/>
<circle cx="162.7" cy="323.8" r="1.35" fill="#a51f36"/>
<text x="175.5" y="243.8" font-size="6.1" fill="#231f20" stroke="#231f20" stroke-width="0.05" textLength="19.7" lengthAdjust="spacingAndGlyphs">IFNGR2</text>
<line x1="175.5" y1="244.6" x2="195.2" y2="244.6" stroke="#231f20" stroke-width="0.55"/>
<line x1="174.4" y1="250.5" x2="174.4" y2="345" stroke="#231f20" stroke-width="1.1"/>
<line x1="171.8" y1="275.4" x2="174.4" y2="275.4" stroke="#231f20" stroke-width="0.7"/>
<text x="167.9" y="277.6" font-size="6.3" fill="#231f20" stroke="#231f20" stroke-width="0.05" text-anchor="end" textLength="3.31" lengthAdjust="spacingAndGlyphs">9</text>
<line x1="171.8" y1="307.4" x2="174.4" y2="307.4" stroke="#231f20" stroke-width="0.7"/>
<text x="167.9" y="309.6" font-size="6.3" fill="#231f20" stroke="#231f20" stroke-width="0.05" text-anchor="end" textLength="3.31" lengthAdjust="spacingAndGlyphs">8</text>
<line x1="171.8" y1="339.3" x2="174.4" y2="339.3" stroke="#231f20" stroke-width="0.7"/>
<text x="167.9" y="341.5" font-size="6.3" fill="#231f20" stroke="#231f20" stroke-width="0.05" text-anchor="end" textLength="3.31" lengthAdjust="spacingAndGlyphs">7</text>
<line x1="180.4" y1="254.3" x2="180.4" y2="258.4" stroke="#a3a8d4" stroke-width="0.8"/>
<rect x="176.2" y="258.4" width="8.4" height="10" fill="none" stroke="#a3a8d4" stroke-width="0.8"/>
<line x1="176.2" y1="261.4" x2="184.6" y2="261.4" stroke="#a3a8d4" stroke-width="0.8"/>
<line x1="192.1" y1="286.3" x2="192.1" y2="308.8" stroke="#d7937e" stroke-width="0.8"/>
<line x1="192.1" y1="329.1" x2="192.1" y2="338.7" stroke="#d7937e" stroke-width="0.8"/>
<rect x="187.6" y="308.8" width="9" height="20.3" fill="none" stroke="#d7937e" stroke-width="0.8"/>
<line x1="187.6" y1="316.2" x2="196.6" y2="316.2" stroke="#d7937e" stroke-width="0.8"/>
<circle cx="183.4" cy="252.9" r="1.35" fill="#6aaa45"/>
<circle cx="182" cy="254.7" r="1.35" fill="#6aaa45"/>
<circle cx="180.2" cy="260.5" r="1.35" fill="#6aaa45"/>
<circle cx="181.1" cy="267.2" r="1.35" fill="#6aaa45"/>
<circle cx="181.1" cy="271.9" r="1.35" fill="#6aaa45"/>
<circle cx="191.6" cy="293" r="1.35" fill="#6aaa45"/>
<circle cx="194.3" cy="299.7" r="1.35" fill="#6aaa45"/>
<circle cx="192.5" cy="311" r="1.35" fill="#6aaa45"/>
<circle cx="192.5" cy="327.8" r="1.35" fill="#6aaa45"/>
<circle cx="193.9" cy="337" r="1.35" fill="#6aaa45"/>
<circle cx="193.9" cy="286" r="1.35" fill="#a51f36"/>
<circle cx="195.7" cy="291.6" r="1.35" fill="#a51f36"/>
<circle cx="194.8" cy="307.4" r="1.35" fill="#a51f36"/>
<circle cx="196" cy="310.3" r="1.35" fill="#a51f36"/>
<circle cx="193.4" cy="315" r="1.35" fill="#a51f36"/>
<circle cx="192.2" cy="319.7" r="1.35" fill="#a51f36"/>
<circle cx="192.5" cy="323.8" r="1.35" fill="#a51f36"/>
<circle cx="195.2" cy="328.2" r="1.35" fill="#a51f36"/>
<circle cx="194.8" cy="330.8" r="1.35" fill="#a51f36"/>
<circle cx="193.1" cy="338.7" r="1.35" fill="#a51f36"/>
<text x="211.9" y="243.8" font-size="6.1" fill="#231f20" stroke="#231f20" stroke-width="0.05" textLength="19.8" lengthAdjust="spacingAndGlyphs">IFNGR1</text>
<line x1="211.9" y1="244.6" x2="231.7" y2="244.6" stroke="#231f20" stroke-width="0.55"/>
<line x1="211.5" y1="250.5" x2="211.5" y2="345" stroke="#231f20" stroke-width="1.1"/>
<line x1="208.9" y1="268.9" x2="211.5" y2="268.9" stroke="#231f20" stroke-width="0.7"/>
<text x="207.5" y="271.1" font-size="6.3" fill="#231f20" stroke="#231f20" stroke-width="0.05" text-anchor="end" textLength="6.62" lengthAdjust="spacingAndGlyphs">10</text>
<line x1="208.9" y1="299.2" x2="211.5" y2="299.2" stroke="#231f20" stroke-width="0.7"/>
<text x="207.5" y="301.4" font-size="6.3" fill="#231f20" stroke="#231f20" stroke-width="0.05" text-anchor="end" textLength="3.31" lengthAdjust="spacingAndGlyphs">9</text>
<line x1="208.9" y1="329.4" x2="211.5" y2="329.4" stroke="#231f20" stroke-width="0.7"/>
<text x="207.5" y="331.6" font-size="6.3" fill="#231f20" stroke="#231f20" stroke-width="0.05" text-anchor="end" textLength="3.31" lengthAdjust="spacingAndGlyphs">8</text>
<line x1="217.3" y1="253.5" x2="217.3" y2="262.8" stroke="#a3a8d4" stroke-width="0.8"/>
<rect x="213.1" y="262.8" width="8.4" height="22.7" fill="none" stroke="#a3a8d4" stroke-width="0.8"/>
<line x1="213.1" y1="267.5" x2="221.5" y2="267.5" stroke="#a3a8d4" stroke-width="0.8"/>
<line x1="228.75" y1="279.8" x2="228.75" y2="301.3" stroke="#d7937e" stroke-width="0.8"/>
<line x1="228.75" y1="318.5" x2="228.75" y2="339.6" stroke="#d7937e" stroke-width="0.8"/>
<rect x="224.5" y="301.3" width="8.5" height="17.2" fill="none" stroke="#d7937e" stroke-width="0.8"/>
<line x1="224.5" y1="306.2" x2="233" y2="306.2" stroke="#d7937e" stroke-width="0.8"/>
<circle cx="217.1" cy="252.9" r="1.35" fill="#6aaa45"/>
<circle cx="218.9" cy="261.7" r="1.35" fill="#6aaa45"/>
<circle cx="216.8" cy="266.3" r="1.35" fill="#6aaa45"/>
<circle cx="219.8" cy="284.8" r="1.35" fill="#6aaa45"/>
<circle cx="230" cy="287.2" r="1.35" fill="#6aaa45"/>
<circle cx="231.2" cy="296.5" r="1.35" fill="#6aaa45"/>
<circle cx="228.2" cy="316.8" r="1.35" fill="#6aaa45"/>
<circle cx="232.1" cy="330" r="1.35" fill="#6aaa45"/>
<circle cx="229.8" cy="280.4" r="1.35" fill="#a51f36"/>
<circle cx="228.2" cy="296.2" r="1.35" fill="#a51f36"/>
<circle cx="228.9" cy="300.4" r="1.35" fill="#a51f36"/>
<circle cx="229.8" cy="303.2" r="1.35" fill="#a51f36"/>
<circle cx="228.9" cy="305.3" r="1.35" fill="#a51f36"/>
<circle cx="231.2" cy="306.2" r="1.35" fill="#a51f36"/>
<circle cx="230" cy="308" r="1.35" fill="#a51f36"/>
<circle cx="232.1" cy="319.9" r="1.35" fill="#a51f36"/>
<circle cx="229.5" cy="323.8" r="1.35" fill="#a51f36"/>
<circle cx="231.6" cy="338.7" r="1.35" fill="#a51f36"/>
<text x="249.7" y="243.8" font-size="6.1" fill="#231f20" stroke="#231f20" stroke-width="0.05" textLength="9.6" lengthAdjust="spacingAndGlyphs">p21</text>
<line x1="249.7" y1="244.6" x2="259.3" y2="244.6" stroke="#231f20" stroke-width="0.55"/>
<line x1="244.4" y1="250.5" x2="244.4" y2="345" stroke="#231f20" stroke-width="1.1"/>
<line x1="241.8" y1="263.2" x2="244.4" y2="263.2" stroke="#231f20" stroke-width="0.7"/>
<text x="238.2" y="265.4" font-size="6.3" fill="#231f20" stroke="#231f20" stroke-width="0.05" text-anchor="end" textLength="3.31" lengthAdjust="spacingAndGlyphs">9</text>
<line x1="241.8" y1="284" x2="244.4" y2="284" stroke="#231f20" stroke-width="0.7"/>
<text x="238.2" y="286.2" font-size="6.3" fill="#231f20" stroke="#231f20" stroke-width="0.05" text-anchor="end" textLength="3.31" lengthAdjust="spacingAndGlyphs">8</text>
<line x1="241.8" y1="304.9" x2="244.4" y2="304.9" stroke="#231f20" stroke-width="0.7"/>
<text x="238.2" y="307.1" font-size="6.3" fill="#231f20" stroke="#231f20" stroke-width="0.05" text-anchor="end" textLength="3.31" lengthAdjust="spacingAndGlyphs">7</text>
<line x1="241.8" y1="325.7" x2="244.4" y2="325.7" stroke="#231f20" stroke-width="0.7"/>
<text x="238.2" y="327.9" font-size="6.3" fill="#231f20" stroke="#231f20" stroke-width="0.05" text-anchor="end" textLength="3.31" lengthAdjust="spacingAndGlyphs">6</text>
<rect x="246.5" y="266.4" width="8.1" height="4.4" fill="none" stroke="#a3a8d4" stroke-width="0.8"/>
<line x1="246.5" y1="267.6" x2="254.6" y2="267.6" stroke="#a3a8d4" stroke-width="0.8"/>
<line x1="261.1" y1="287" x2="261.1" y2="302.8" stroke="#d7937e" stroke-width="0.8"/>
<line x1="261.1" y1="322.5" x2="261.1" y2="339.8" stroke="#d7937e" stroke-width="0.8"/>
<rect x="256.7" y="302.8" width="8.8" height="19.7" fill="none" stroke="#d7937e" stroke-width="0.8"/>
<line x1="256.7" y1="310.4" x2="265.5" y2="310.4" stroke="#d7937e" stroke-width="0.8"/>
<circle cx="251.1" cy="253.8" r="1.35" fill="#6aaa45"/>
<circle cx="252.3" cy="265.3" r="1.35" fill="#6aaa45"/>
<circle cx="252.8" cy="269.7" r="1.35" fill="#6aaa45"/>
<circle cx="253.5" cy="287.3" r="1.35" fill="#6aaa45"/>
<circle cx="261.1" cy="300.5" r="1.35" fill="#6aaa45"/>
<circle cx="264.1" cy="310.7" r="1.35" fill="#6aaa45"/>
<circle cx="263.4" cy="317.8" r="1.35" fill="#6aaa45"/>
<circle cx="264.1" cy="327" r="1.35" fill="#6aaa45"/>
<circle cx="264.6" cy="331" r="1.35" fill="#6aaa45"/>
<circle cx="263.4" cy="338.9" r="1.35" fill="#6aaa45"/>
<circle cx="262" cy="260.2" r="1.35" fill="#a51f36"/>
<circle cx="262.3" cy="286.1" r="1.35" fill="#a51f36"/>
<circle cx="264.1" cy="291.7" r="1.35" fill="#a51f36"/>
<circle cx="262" cy="302.8" r="1.35" fill="#a51f36"/>
<circle cx="261.1" cy="305.1" r="1.35" fill="#a51f36"/>
<circle cx="262.3" cy="307.2" r="1.35" fill="#a51f36"/>
<circle cx="262" cy="311.3" r="1.35" fill="#a51f36"/>
<circle cx="262.3" cy="321" r="1.35" fill="#a51f36"/>
<circle cx="262.9" cy="322.5" r="1.35" fill="#a51f36"/>
<text transform="translate(14.6 297.2) rotate(-90)" font-size="8.3" fill="#231f20" stroke="#231f20" stroke-width="0.12" text-anchor="middle" textLength="60.5" lengthAdjust="spacingAndGlyphs">Gene expression</text>
<text x="49.4" y="354.6" font-size="6" fill="#231f20" stroke="#231f20" stroke-width="0.05" text-anchor="middle" textLength="8.6" lengthAdjust="spacingAndGlyphs">p =</text>
<text x="49.4" y="361.5" font-size="6" fill="#231f20" stroke="#231f20" stroke-width="0.05" text-anchor="middle" textLength="23.2" lengthAdjust="spacingAndGlyphs">5.3x10-5</text>
<text x="81.9" y="354.6" font-size="6" fill="#231f20" stroke="#231f20" stroke-width="0.05" text-anchor="middle" textLength="8.6" lengthAdjust="spacingAndGlyphs">p =</text>
<text x="81.9" y="361.5" font-size="6" fill="#231f20" stroke="#231f20" stroke-width="0.05" text-anchor="middle" textLength="23.2" lengthAdjust="spacingAndGlyphs">4.5x10-4</text>
<text x="116.8" y="354.6" font-size="6" fill="#231f20" stroke="#231f20" stroke-width="0.05" text-anchor="middle" textLength="8.6" lengthAdjust="spacingAndGlyphs">p =</text>
<text x="116.8" y="361.5" font-size="6" fill="#231f20" stroke="#231f20" stroke-width="0.05" text-anchor="middle" textLength="23.2" lengthAdjust="spacingAndGlyphs">2.3x10-2</text>
<text x="151.6" y="354.6" font-size="6" fill="#231f20" stroke="#231f20" stroke-width="0.05" text-anchor="middle" textLength="8.6" lengthAdjust="spacingAndGlyphs">p =</text>
<text x="151.6" y="361.5" font-size="6" fill="#231f20" stroke="#231f20" stroke-width="0.05" text-anchor="middle" textLength="23.2" lengthAdjust="spacingAndGlyphs">4.1x10-6</text>
<text x="185.8" y="354.6" font-size="6" fill="#231f20" stroke="#231f20" stroke-width="0.05" text-anchor="middle" textLength="8.6" lengthAdjust="spacingAndGlyphs">p =</text>
<text x="185.8" y="361.5" font-size="6" fill="#231f20" stroke="#231f20" stroke-width="0.05" text-anchor="middle" textLength="23.2" lengthAdjust="spacingAndGlyphs">3.2x10-8</text>
<text x="221.8" y="354.6" font-size="6" fill="#231f20" stroke="#231f20" stroke-width="0.05" text-anchor="middle" textLength="8.6" lengthAdjust="spacingAndGlyphs">p =</text>
<text x="221.8" y="361.5" font-size="6" fill="#231f20" stroke="#231f20" stroke-width="0.05" text-anchor="middle" textLength="23.2" lengthAdjust="spacingAndGlyphs">1.3x10-3</text>
<text x="254.5" y="354.6" font-size="6" fill="#231f20" stroke="#231f20" stroke-width="0.05" text-anchor="middle" textLength="8.6" lengthAdjust="spacingAndGlyphs">p =</text>
<text x="254.5" y="361.5" font-size="6" fill="#231f20" stroke="#231f20" stroke-width="0.05" text-anchor="middle" textLength="23.2" lengthAdjust="spacingAndGlyphs">1.6x10-4</text>
<text x="282.6" y="192.9" font-size="11" fill="#231f20" stroke="#231f20" stroke-width="0.12">F</text>
<text x="321.2" y="188.5" font-size="6.3" fill="#231f20" stroke="#231f20" stroke-width="0.05" textLength="155.6" lengthAdjust="spacingAndGlyphs">HSPC scRNA-Seq analysis of CBFA2T3 isoforms (GSE75478)</text>
<text x="332" y="202.5" font-size="4.9" fill="#231f20" stroke="#231f20" stroke-width="0.05" text-anchor="middle" textLength="27.9" lengthAdjust="spacingAndGlyphs">NM_005187</text>
<text x="393.4" y="202.5" font-size="4.9" fill="#231f20" stroke="#231f20" stroke-width="0.05" text-anchor="middle" textLength="27.5" lengthAdjust="spacingAndGlyphs">NM_175931</text>
<text x="467.9" y="198.3" font-size="4.9" fill="#231f20" stroke="#231f20" stroke-width="0.05" text-anchor="middle" textLength="30" lengthAdjust="spacingAndGlyphs">NM_005187/</text>
<text x="467.5" y="205" font-size="4.9" fill="#231f20" stroke="#231f20" stroke-width="0.05" text-anchor="middle" textLength="27.5" lengthAdjust="spacingAndGlyphs">NM_175931</text>
<text transform="translate(289.6 275) rotate(-90)" font-size="8.4" fill="#231f20" stroke="#231f20" stroke-width="0.12" text-anchor="middle" textLength="83" lengthAdjust="spacingAndGlyphs">Normalized expression</text>
<text transform="translate(427 276) rotate(-90)" font-size="8.2" fill="#231f20" stroke="#231f20" stroke-width="0.12" text-anchor="middle" textLength="148" lengthAdjust="spacingAndGlyphs">Relative ratio between CBFA2T3 isoforms</text>
<line x1="310.7" y1="205.5" x2="310.7" y2="345.4" stroke="#231f20" stroke-width="1.1"/>
<line x1="310.7" y1="345.4" x2="353.5" y2="345.4" stroke="#231f20" stroke-width="0.7"/>
<line x1="316.6" y1="345.4" x2="316.6" y2="348.2" stroke="#231f20" stroke-width="0.6"/>
<line x1="327.2" y1="345.4" x2="327.2" y2="348.2" stroke="#231f20" stroke-width="0.6"/>
<line x1="337.4" y1="345.4" x2="337.4" y2="348.2" stroke="#231f20" stroke-width="0.6"/>
<line x1="348" y1="345.4" x2="348" y2="348.2" stroke="#231f20" stroke-width="0.6"/>
<line x1="306.9" y1="218" x2="310.7" y2="218" stroke="#231f20" stroke-width="0.8"/>
<text x="304.6" y="220.2" font-size="6.4" fill="#231f20" stroke="#231f20" stroke-width="0.05" text-anchor="end" textLength="8.48" lengthAdjust="spacingAndGlyphs">1.0</text>
<line x1="306.9" y1="277.5" x2="310.7" y2="277.5" stroke="#231f20" stroke-width="0.8"/>
<text x="304.6" y="279.7" font-size="6.4" fill="#231f20" stroke="#231f20" stroke-width="0.05" text-anchor="end" textLength="8.48" lengthAdjust="spacingAndGlyphs">0.5</text>
<line x1="306.9" y1="336.3" x2="310.7" y2="336.3" stroke="#231f20" stroke-width="0.8"/>
<text x="304.6" y="338.5" font-size="6.4" fill="#231f20" stroke="#231f20" stroke-width="0.05" text-anchor="end" textLength="8.48" lengthAdjust="spacingAndGlyphs">0.0</text>
<line x1="317" y1="228" x2="317" y2="334.1" stroke="#555" stroke-width="0.85"/>
<rect x="313.2" y="275.6" width="7.6" height="31.8" fill="#a8283c"/>
<line x1="313.2" y1="294.1" x2="320.8" y2="294.1" stroke="#111" stroke-width="0.9"/>
<circle cx="317" cy="210.4" r="1.3" fill="#111"/>
<circle cx="317" cy="212" r="1.3" fill="#111"/>
<circle cx="317" cy="213.4" r="1.3" fill="#111"/>
<circle cx="317" cy="219.8" r="1.3" fill="#111"/>
<circle cx="317" cy="223.8" r="1.3" fill="#111"/>
<circle cx="317" cy="225.1" r="1.3" fill="#111"/>
<circle cx="317" cy="226.4" r="1.3" fill="#111"/>
<circle cx="317" cy="227.6" r="1.3" fill="#111"/>
<line x1="327.05" y1="279.2" x2="327.05" y2="330.6" stroke="#555" stroke-width="0.85"/>
<rect x="323" y="304.2" width="8.1" height="17.1" fill="#70aa4c"/>
<line x1="323" y1="309" x2="331.1" y2="309" stroke="#111" stroke-width="0.9"/>
<line x1="337.1" y1="302" x2="337.1" y2="331" stroke="#555" stroke-width="0.85"/>
<rect x="333" y="313.7" width="8.2" height="5.4" fill="#66a9de"/>
<line x1="333" y1="316.4" x2="341.2" y2="316.4" stroke="#111" stroke-width="0.9"/>
<circle cx="337.1" cy="251.1" r="1.3" fill="#111"/>
<circle cx="337.1" cy="259" r="1.3" fill="#111"/>
<circle cx="337.1" cy="262" r="1.3" fill="#111"/>
<circle cx="337.1" cy="266" r="1.3" fill="#111"/>
<circle cx="337.1" cy="270" r="1.3" fill="#111"/>
<circle cx="337.1" cy="274" r="1.3" fill="#111"/>
<circle cx="337.1" cy="278" r="1.3" fill="#111"/>
<circle cx="337.1" cy="281" r="1.3" fill="#111"/>
<circle cx="337.1" cy="285" r="1.3" fill="#111"/>
<circle cx="337.1" cy="288" r="1.3" fill="#111"/>
<circle cx="337.1" cy="291" r="1.3" fill="#111"/>
<circle cx="337.1" cy="293" r="1.3" fill="#111"/>
<circle cx="337.1" cy="296" r="1.3" fill="#111"/>
<circle cx="337.1" cy="298.5" r="1.3" fill="#111"/>
<circle cx="337.1" cy="333.5" r="1.3" fill="#111"/>
<circle cx="337.1" cy="336" r="1.3" fill="#111"/>
<circle cx="337.1" cy="338.2" r="1.3" fill="#111"/>
<line x1="347.35" y1="316" x2="347.35" y2="334.5" stroke="#555" stroke-width="0.85"/>
<rect x="343.4" y="323.2" width="7.9" height="6.8" fill="#ab94b6"/>
<line x1="343.4" y1="326.8" x2="351.3" y2="326.8" stroke="#111" stroke-width="0.9"/>
<circle cx="347.35" cy="289.2" r="1.3" fill="#111"/>
<circle cx="347.35" cy="292" r="1.3" fill="#111"/>
<circle cx="347.35" cy="295" r="1.3" fill="#111"/>
<circle cx="347.35" cy="297.5" r="1.3" fill="#111"/>
<circle cx="347.35" cy="300" r="1.3" fill="#111"/>
<circle cx="347.35" cy="302" r="1.3" fill="#111"/>
<circle cx="347.35" cy="304" r="1.3" fill="#111"/>
<circle cx="347.35" cy="306" r="1.3" fill="#111"/>
<circle cx="347.35" cy="308" r="1.3" fill="#111"/>
<circle cx="347.35" cy="310" r="1.3" fill="#111"/>
<circle cx="347.35" cy="312.2" r="1.3" fill="#111"/>
<line x1="372.2" y1="205.5" x2="372.2" y2="345.4" stroke="#231f20" stroke-width="1.1"/>
<line x1="372.2" y1="345.4" x2="415" y2="345.4" stroke="#231f20" stroke-width="0.7"/>
<line x1="378.2" y1="345.4" x2="378.2" y2="348.2" stroke="#231f20" stroke-width="0.6"/>
<line x1="388.5" y1="345.4" x2="388.5" y2="348.2" stroke="#231f20" stroke-width="0.6"/>
<line x1="398.8" y1="345.4" x2="398.8" y2="348.2" stroke="#231f20" stroke-width="0.6"/>
<line x1="409" y1="345.4" x2="409" y2="348.2" stroke="#231f20" stroke-width="0.6"/>
<line x1="368.4" y1="210.4" x2="372.2" y2="210.4" stroke="#231f20" stroke-width="0.8"/>
<text x="366.1" y="212.6" font-size="6.4" fill="#231f20" stroke="#231f20" stroke-width="0.05" text-anchor="end" textLength="8.48" lengthAdjust="spacingAndGlyphs">1.0</text>
<line x1="368.4" y1="274.8" x2="372.2" y2="274.8" stroke="#231f20" stroke-width="0.8"/>
<text x="366.1" y="277" font-size="6.4" fill="#231f20" stroke="#231f20" stroke-width="0.05" text-anchor="end" textLength="8.48" lengthAdjust="spacingAndGlyphs">0.5</text>
<line x1="368.4" y1="339" x2="372.2" y2="339" stroke="#231f20" stroke-width="0.8"/>
<text x="366.1" y="341.2" font-size="6.4" fill="#231f20" stroke="#231f20" stroke-width="0.05" text-anchor="end" textLength="8.48" lengthAdjust="spacingAndGlyphs">0.0</text>
<line x1="378.2" y1="297" x2="378.2" y2="308" stroke="#555" stroke-width="0.85"/>
<rect x="374.4" y="301.5" width="7.6" height="4" fill="#a8283c"/>
<line x1="374.4" y1="303" x2="382" y2="303" stroke="#111" stroke-width="0.9"/>
<circle cx="378.2" cy="279" r="1.3" fill="#111"/>
<circle cx="378.2" cy="281.12" r="1.3" fill="#111"/>
<circle cx="378.2" cy="283.25" r="1.3" fill="#111"/>
<circle cx="378.2" cy="285.38" r="1.3" fill="#111"/>
<circle cx="378.2" cy="287.5" r="1.3" fill="#111"/>
<circle cx="378.2" cy="289.62" r="1.3" fill="#111"/>
<circle cx="378.2" cy="291.75" r="1.3" fill="#111"/>
<circle cx="378.2" cy="293.88" r="1.3" fill="#111"/>
<circle cx="378.2" cy="296" r="1.3" fill="#111"/>
<line x1="388.5" y1="287" x2="388.5" y2="309" stroke="#555" stroke-width="0.85"/>
<rect x="384.7" y="296.6" width="7.6" height="9" fill="#70aa4c"/>
<line x1="384.7" y1="302" x2="392.3" y2="302" stroke="#111" stroke-width="0.9"/>
<circle cx="388.5" cy="268" r="1.3" fill="#111"/>
<circle cx="388.5" cy="270.5" r="1.3" fill="#111"/>
<circle cx="388.5" cy="275" r="1.3" fill="#111"/>
<circle cx="388.5" cy="276.5" r="1.3" fill="#111"/>
<circle cx="388.5" cy="278" r="1.3" fill="#111"/>
<circle cx="388.5" cy="282" r="1.3" fill="#111"/>
<line x1="398.8" y1="295" x2="398.8" y2="308" stroke="#555" stroke-width="0.85"/>
<rect x="395" y="300.1" width="7.6" height="4.9" fill="#66a9de"/>
<line x1="395" y1="303.2" x2="402.6" y2="303.2" stroke="#111" stroke-width="0.9"/>
<circle cx="398.8" cy="277.6" r="1.3" fill="#111"/>
<circle cx="398.8" cy="287.5" r="1.3" fill="#111"/>
<circle cx="398.8" cy="289.2" r="1.3" fill="#111"/>
<circle cx="398.8" cy="293" r="1.3" fill="#111"/>
<line x1="409.05" y1="279" x2="409.05" y2="309" stroke="#555" stroke-width="0.85"/>
<rect x="405" y="291.8" width="8.1" height="10.9" fill="#ab94b6"/>
<line x1="405" y1="297.5" x2="413.1" y2="297.5" stroke="#111" stroke-width="0.9"/>
<circle cx="409.05" cy="249.8" r="1.3" fill="#111"/>
<circle cx="409.05" cy="274.8" r="1.3" fill="#111"/>
<line x1="446.6" y1="207.6" x2="446.6" y2="345.4" stroke="#231f20" stroke-width="1.1"/>
<line x1="446.6" y1="345.4" x2="490" y2="345.4" stroke="#231f20" stroke-width="0.7"/>
<line x1="452.8" y1="345.4" x2="452.8" y2="348.2" stroke="#231f20" stroke-width="0.6"/>
<line x1="462.9" y1="345.4" x2="462.9" y2="348.2" stroke="#231f20" stroke-width="0.6"/>
<line x1="473.2" y1="345.4" x2="473.2" y2="348.2" stroke="#231f20" stroke-width="0.6"/>
<line x1="483.4" y1="345.4" x2="483.4" y2="348.2" stroke="#231f20" stroke-width="0.6"/>
<line x1="442.8" y1="215.3" x2="446.6" y2="215.3" stroke="#231f20" stroke-width="0.8"/>
<text x="440.3" y="217.5" font-size="6.4" fill="#231f20" stroke="#231f20" stroke-width="0.05" text-anchor="end" textLength="8.48" lengthAdjust="spacingAndGlyphs">4.0</text>
<line x1="442.8" y1="230.4" x2="446.6" y2="230.4" stroke="#231f20" stroke-width="0.8"/>
<text x="440.3" y="232.6" font-size="6.4" fill="#231f20" stroke="#231f20" stroke-width="0.05" text-anchor="end" textLength="8.48" lengthAdjust="spacingAndGlyphs">3.5</text>
<line x1="442.8" y1="245.6" x2="446.6" y2="245.6" stroke="#231f20" stroke-width="0.8"/>
<text x="440.3" y="247.8" font-size="6.4" fill="#231f20" stroke="#231f20" stroke-width="0.05" text-anchor="end" textLength="8.48" lengthAdjust="spacingAndGlyphs">3.0</text>
<line x1="442.8" y1="260.7" x2="446.6" y2="260.7" stroke="#231f20" stroke-width="0.8"/>
<text x="440.3" y="262.9" font-size="6.4" fill="#231f20" stroke="#231f20" stroke-width="0.05" text-anchor="end" textLength="8.48" lengthAdjust="spacingAndGlyphs">2.5</text>
<line x1="442.8" y1="275.8" x2="446.6" y2="275.8" stroke="#231f20" stroke-width="0.8"/>
<text x="440.3" y="278" font-size="6.4" fill="#231f20" stroke="#231f20" stroke-width="0.05" text-anchor="end" textLength="8.48" lengthAdjust="spacingAndGlyphs">2.0</text>
<line x1="442.8" y1="290.9" x2="446.6" y2="290.9" stroke="#231f20" stroke-width="0.8"/>
<text x="440.3" y="293.1" font-size="6.4" fill="#231f20" stroke="#231f20" stroke-width="0.05" text-anchor="end" textLength="8.48" lengthAdjust="spacingAndGlyphs">1.5</text>
<line x1="442.8" y1="306.1" x2="446.6" y2="306.1" stroke="#231f20" stroke-width="0.8"/>
<text x="440.3" y="308.3" font-size="6.4" fill="#231f20" stroke="#231f20" stroke-width="0.05" text-anchor="end" textLength="8.48" lengthAdjust="spacingAndGlyphs">1.0</text>
<line x1="442.8" y1="321.2" x2="446.6" y2="321.2" stroke="#231f20" stroke-width="0.8"/>
<text x="440.3" y="323.4" font-size="6.4" fill="#231f20" stroke="#231f20" stroke-width="0.05" text-anchor="end" textLength="8.48" lengthAdjust="spacingAndGlyphs">0.5</text>
<line x1="442.8" y1="336.3" x2="446.6" y2="336.3" stroke="#231f20" stroke-width="0.8"/>
<text x="440.3" y="338.5" font-size="6.4" fill="#231f20" stroke="#231f20" stroke-width="0.05" text-anchor="end" textLength="8.48" lengthAdjust="spacingAndGlyphs">0.0</text>
<line x1="452.8" y1="238.9" x2="452.8" y2="335.2" stroke="#555" stroke-width="0.85"/>
<rect x="448.8" y="280.2" width="8" height="28.6" fill="#a8283c"/>
<line x1="448.8" y1="297.3" x2="456.8" y2="297.3" stroke="#111" stroke-width="0.9"/>
<circle cx="452.8" cy="210.4" r="1.3" fill="#111"/>
<circle cx="452.8" cy="219" r="1.3" fill="#111"/>
<circle cx="452.8" cy="221.11" r="1.3" fill="#111"/>
<circle cx="452.8" cy="223.22" r="1.3" fill="#111"/>
<circle cx="452.8" cy="225.33" r="1.3" fill="#111"/>
<circle cx="452.8" cy="227.44" r="1.3" fill="#111"/>
<circle cx="452.8" cy="229.56" r="1.3" fill="#111"/>
<circle cx="452.8" cy="231.67" r="1.3" fill="#111"/>
<circle cx="452.8" cy="233.78" r="1.3" fill="#111"/>
<circle cx="452.8" cy="235.89" r="1.3" fill="#111"/>
<circle cx="452.8" cy="238" r="1.3" fill="#111"/>
<line x1="462.9" y1="285.3" x2="462.9" y2="332.4" stroke="#555" stroke-width="0.85"/>
<rect x="459" y="305.8" width="7.8" height="19.2" fill="#70aa4c"/>
<line x1="459" y1="312.3" x2="466.8" y2="312.3" stroke="#111" stroke-width="0.9"/>
<line x1="473.2" y1="307" x2="473.2" y2="331" stroke="#555" stroke-width="0.85"/>
<rect x="469.4" y="315" width="7.6" height="6.4" fill="#66a9de"/>
<line x1="469.4" y1="318.4" x2="477" y2="318.4" stroke="#111" stroke-width="0.9"/>
<circle cx="473.2" cy="257.1" r="1.3" fill="#111"/>
<circle cx="473.2" cy="271" r="1.3" fill="#111"/>
<circle cx="473.2" cy="273" r="1.3" fill="#111"/>
<circle cx="473.2" cy="275" r="1.3" fill="#111"/>
<circle cx="473.2" cy="285" r="1.3" fill="#111"/>
<circle cx="473.2" cy="288.6" r="1.3" fill="#111"/>
<circle cx="473.2" cy="292" r="1.3" fill="#111"/>
<circle cx="473.2" cy="294" r="1.3" fill="#111"/>
<circle cx="473.2" cy="296" r="1.3" fill="#111"/>
<circle cx="473.2" cy="298" r="1.3" fill="#111"/>
<circle cx="473.2" cy="300" r="1.3" fill="#111"/>
<circle cx="473.2" cy="302.4" r="1.3" fill="#111"/>
<circle cx="473.2" cy="305.8" r="1.3" fill="#111"/>
<circle cx="473.2" cy="332.2" r="1.3" fill="#111"/>
<circle cx="473.2" cy="334.5" r="1.3" fill="#111"/>
<circle cx="473.2" cy="337.9" r="1.3" fill="#111"/>
<line x1="483.35" y1="315.6" x2="483.35" y2="338.7" stroke="#555" stroke-width="0.85"/>
<rect x="479.6" y="325.5" width="7.5" height="6.9" fill="#ab94b6"/>
<line x1="479.6" y1="329.2" x2="487.1" y2="329.2" stroke="#111" stroke-width="0.9"/>
<circle cx="483.35" cy="292.6" r="1.3" fill="#111"/>
<circle cx="483.35" cy="301.5" r="1.3" fill="#111"/>
<circle cx="483.35" cy="303" r="1.3" fill="#111"/>
<circle cx="483.35" cy="308.4" r="1.3" fill="#111"/>
<circle cx="483.35" cy="310" r="1.3" fill="#111"/>
<circle cx="483.35" cy="312" r="1.3" fill="#111"/>
<circle cx="483.35" cy="313.8" r="1.3" fill="#111"/>
<rect x="318.5" y="357.4" width="9.2" height="6.9" fill="#a8283c"/>
<rect x="318.5" y="370.3" width="9.2" height="6.2" fill="#66a9de"/>
<rect x="403.2" y="357.4" width="9.2" height="6.9" fill="#70aa4c"/>
<rect x="403.2" y="370.3" width="9.2" height="6.2" fill="#ab94b6"/>
<text x="330" y="362.2" font-size="4.6" fill="#231f20" stroke="#231f20" stroke-width="0.05" textLength="31.4" lengthAdjust="spacingAndGlyphs">CD34+/CD38-</text>
<text x="330" y="374.6" font-size="4.6" fill="#231f20" stroke="#231f20" stroke-width="0.05" textLength="55.7" lengthAdjust="spacingAndGlyphs">CD34+/CD38+/CD45RA-</text>
<text x="416" y="362.2" font-size="4.6" fill="#231f20" stroke="#231f20" stroke-width="0.05" textLength="58.9" lengthAdjust="spacingAndGlyphs">CD34+/CD38mid/CD123+</text>
<text x="416" y="374.6" font-size="4.6" fill="#231f20" stroke="#231f20" stroke-width="0.05" textLength="56.2" lengthAdjust="spacingAndGlyphs">CD34+/CD38+/CD45RA+</text>
<text x="7.8" y="402.5" font-size="11" fill="#231f20" stroke="#231f20" stroke-width="0.12">E</text>
<defs><linearGradient id="cb" x1="0" y1="0" x2="1" y2="0"><stop offset="0" stop-color="#e23a3a"/><stop offset="0.3" stop-color="#fbe3e3"/><stop offset="0.45" stop-color="#ffffff"/><stop offset="0.7" stop-color="#d9d5ea"/><stop offset="1" stop-color="#4a4698"/></linearGradient><linearGradient id="cb2" x1="0" y1="0" x2="1" y2="0"><stop offset="0" stop-color="#e0403c"/><stop offset="0.42" stop-color="#ffffff"/><stop offset="1" stop-color="#3f3a88"/></linearGradient></defs>
<line x1="38.5" y1="470.6" x2="115.5" y2="470.6" stroke="#a0a0a0" stroke-width="0.8"/>
<line x1="41.9" y1="471.5" x2="41.9" y2="476.3" stroke="#000" stroke-width="0.35" stroke-opacity="0.75"/>
<line x1="42.07" y1="471.5" x2="42.07" y2="476.3" stroke="#000" stroke-width="0.35" stroke-opacity="0.75"/>
<line x1="42.24" y1="471.5" x2="42.24" y2="476.3" stroke="#000" stroke-width="0.35" stroke-opacity="0.75"/>
<line x1="42.42" y1="471.5" x2="42.42" y2="476.3" stroke="#000" stroke-width="0.35" stroke-opacity="0.75"/>
<line x1="42.59" y1="471.5" x2="42.59" y2="476.3" stroke="#000" stroke-width="0.35" stroke-opacity="0.75"/>
<line x1="42.76" y1="471.5" x2="42.76" y2="476.3" stroke="#000" stroke-width="0.35" stroke-opacity="0.75"/>
<line x1="42.93" y1="471.5" x2="42.93" y2="476.3" stroke="#000" stroke-width="0.35" stroke-opacity="0.75"/>
<line x1="43.1" y1="471.5" x2="43.1" y2="476.3" stroke="#000" stroke-width="0.35" stroke-opacity="0.75"/>
<line x1="43.27" y1="471.5" x2="43.27" y2="476.3" stroke="#000" stroke-width="0.35" stroke-opacity="0.75"/>
<line x1="43.45" y1="471.5" x2="43.45" y2="476.3" stroke="#000" stroke-width="0.35" stroke-opacity="0.75"/>
<line x1="43.62" y1="471.5" x2="43.62" y2="476.3" stroke="#000" stroke-width="0.35" stroke-opacity="0.75"/>
<line x1="43.79" y1="471.5" x2="43.79" y2="476.3" stroke="#000" stroke-width="0.35" stroke-opacity="0.75"/>
<line x1="43.96" y1="471.5" x2="43.96" y2="476.3" stroke="#000" stroke-width="0.35" stroke-opacity="0.75"/>
<line x1="44.13" y1="471.5" x2="44.13" y2="476.3" stroke="#000" stroke-width="0.35" stroke-opacity="0.75"/>
<line x1="44.3" y1="471.5" x2="44.3" y2="476.3" stroke="#000" stroke-width="0.35" stroke-opacity="0.75"/>
<line x1="44.48" y1="471.5" x2="44.48" y2="476.3" stroke="#000" stroke-width="0.35" stroke-opacity="0.75"/>
<line x1="44.65" y1="471.5" x2="44.65" y2="476.3" stroke="#000" stroke-width="0.35" stroke-opacity="0.38"/>
<line x1="44.99" y1="471.5" x2="44.99" y2="476.3" stroke="#000" stroke-width="0.35" stroke-opacity="0.38"/>
<line x1="45.16" y1="471.5" x2="45.16" y2="476.3" stroke="#000" stroke-width="0.35" stroke-opacity="0.38"/>
<line x1="45.33" y1="471.5" x2="45.33" y2="476.3" stroke="#000" stroke-width="0.35" stroke-opacity="0.38"/>
<line x1="45.51" y1="471.5" x2="45.51" y2="476.3" stroke="#000" stroke-width="0.35" stroke-opacity="0.38"/>
<line x1="45.68" y1="471.5" x2="45.68" y2="476.3" stroke="#000" stroke-width="0.35" stroke-opacity="0.38"/>
<line x1="45.85" y1="471.5" x2="45.85" y2="476.3" stroke="#000" stroke-width="0.35" stroke-opacity="0.38"/>
<line x1="46.02" y1="471.5" x2="46.02" y2="476.3" stroke="#000" stroke-width="0.35" stroke-opacity="0.38"/>
<line x1="46.19" y1="471.5" x2="46.19" y2="476.3" stroke="#000" stroke-width="0.35" stroke-opacity="0.38"/>
<line x1="46.54" y1="471.5" x2="46.54" y2="476.3" stroke="#000" stroke-width="0.35" stroke-opacity="0.38"/>
<line x1="46.71" y1="471.5" x2="46.71" y2="476.3" stroke="#000" stroke-width="0.35" stroke-opacity="0.38"/>
<line x1="47.05" y1="471.5" x2="47.05" y2="476.3" stroke="#000" stroke-width="0.35" stroke-opacity="0.38"/>
<line x1="47.39" y1="471.5" x2="47.39" y2="476.3" stroke="#000" stroke-width="0.35" stroke-opacity="0.38"/>
<line x1="47.74" y1="471.5" x2="47.74" y2="476.3" stroke="#000" stroke-width="0.35" stroke-opacity="0.38"/>
<line x1="48.25" y1="471.5" x2="48.25" y2="476.3" stroke="#000" stroke-width="0.35" stroke-opacity="0.38"/>
<line x1="48.42" y1="471.5" x2="48.42" y2="476.3" stroke="#000" stroke-width="0.35" stroke-opacity="0.38"/>
<line x1="48.6" y1="471.5" x2="48.6" y2="476.3" stroke="#000" stroke-width="0.35" stroke-opacity="0.38"/>
<line x1="48.94" y1="471.5" x2="48.94" y2="476.3" stroke="#000" stroke-width="0.35" stroke-opacity="0.38"/>
<line x1="49.11" y1="471.5" x2="49.11" y2="476.3" stroke="#000" stroke-width="0.35" stroke-opacity="0.38"/>
<line x1="49.28" y1="471.5" x2="49.28" y2="476.3" stroke="#000" stroke-width="0.35" stroke-opacity="0.38"/>
<line x1="49.45" y1="471.5" x2="49.45" y2="476.3" stroke="#000" stroke-width="0.35" stroke-opacity="0.38"/>
<line x1="49.63" y1="471.5" x2="49.63" y2="476.3" stroke="#000" stroke-width="0.35" stroke-opacity="0.38"/>
<line x1="49.8" y1="471.5" x2="49.8" y2="476.3" stroke="#000" stroke-width="0.35" stroke-opacity="0.38"/>
<line x1="49.97" y1="471.5" x2="49.97" y2="476.3" stroke="#000" stroke-width="0.35" stroke-opacity="0.38"/>
<line x1="50.14" y1="471.5" x2="50.14" y2="476.3" stroke="#000" stroke-width="0.35" stroke-opacity="0.38"/>
<line x1="50.48" y1="471.5" x2="50.48" y2="476.3" stroke="#000" stroke-width="0.35" stroke-opacity="0.38"/>
<line x1="51.17" y1="471.5" x2="51.17" y2="476.3" stroke="#000" stroke-width="0.35" stroke-opacity="0.38"/>
<line x1="51.34" y1="471.5" x2="51.34" y2="476.3" stroke="#000" stroke-width="0.35" stroke-opacity="0.38"/>
<line x1="52.03" y1="471.5" x2="52.03" y2="476.3" stroke="#000" stroke-width="0.35" stroke-opacity="0.38"/>
<line x1="52.2" y1="471.5" x2="52.2" y2="476.3" stroke="#000" stroke-width="0.35" stroke-opacity="0.38"/>
<line x1="52.37" y1="471.5" x2="52.37" y2="476.3" stroke="#000" stroke-width="0.35" stroke-opacity="0.38"/>
<line x1="52.72" y1="471.5" x2="52.72" y2="476.3" stroke="#000" stroke-width="0.35" stroke-opacity="0.38"/>
<line x1="52.89" y1="471.5" x2="52.89" y2="476.3" stroke="#000" stroke-width="0.35" stroke-opacity="0.38"/>
<line x1="53.06" y1="471.5" x2="53.06" y2="476.3" stroke="#000" stroke-width="0.35" stroke-opacity="0.38"/>
<line x1="53.57" y1="471.5" x2="53.57" y2="476.3" stroke="#000" stroke-width="0.35" stroke-opacity="0.38"/>
<line x1="53.92" y1="471.5" x2="53.92" y2="476.3" stroke="#000" stroke-width="0.35" stroke-opacity="0.38"/>
<line x1="54.09" y1="471.5" x2="54.09" y2="476.3" stroke="#000" stroke-width="0.35" stroke-opacity="0.38"/>
<line x1="54.26" y1="471.5" x2="54.26" y2="476.3" stroke="#000" stroke-width="0.35" stroke-opacity="0.38"/>
<line x1="54.43" y1="471.5" x2="54.43" y2="476.3" stroke="#000" stroke-width="0.35" stroke-opacity="0.38"/>
<line x1="54.78" y1="471.5" x2="54.78" y2="476.3" stroke="#000" stroke-width="0.35" stroke-opacity="0.38"/>
<line x1="54.95" y1="471.5" x2="54.95" y2="476.3" stroke="#000" stroke-width="0.35" stroke-opacity="0.38"/>
<line x1="55.12" y1="471.5" x2="55.12" y2="476.3" stroke="#000" stroke-width="0.35" stroke-opacity="0.38"/>
<line x1="55.29" y1="471.5" x2="55.29" y2="476.3" stroke="#000" stroke-width="0.35" stroke-opacity="0.38"/>
<line x1="55.46" y1="471.5" x2="55.46" y2="476.3" stroke="#000" stroke-width="0.35" stroke-opacity="0.38"/>
<line x1="55.98" y1="471.5" x2="55.98" y2="476.3" stroke="#000" stroke-width="0.35" stroke-opacity="0.3"/>
<line x1="56.32" y1="471.5" x2="56.32" y2="476.3" stroke="#000" stroke-width="0.35" stroke-opacity="0.3"/>
<line x1="56.49" y1="471.5" x2="56.49" y2="476.3" stroke="#000" stroke-width="0.35" stroke-opacity="0.3"/>
<line x1="56.66" y1="471.5" x2="56.66" y2="476.3" stroke="#000" stroke-width="0.35" stroke-opacity="0.3"/>
<line x1="56.84" y1="471.5" x2="56.84" y2="476.3" stroke="#000" stroke-width="0.35" stroke-opacity="0.3"/>
<line x1="57.01" y1="471.5" x2="57.01" y2="476.3" stroke="#000" stroke-width="0.35" stroke-opacity="0.3"/>
<line x1="57.18" y1="471.5" x2="57.18" y2="476.3" stroke="#000" stroke-width="0.35" stroke-opacity="0.3"/>
<line x1="57.35" y1="471.5" x2="57.35" y2="476.3" stroke="#000" stroke-width="0.35" stroke-opacity="0.3"/>
<line x1="57.52" y1="471.5" x2="57.52" y2="476.3" stroke="#000" stroke-width="0.35" stroke-opacity="0.3"/>
<line x1="57.69" y1="471.5" x2="57.69" y2="476.3" stroke="#000" stroke-width="0.35" stroke-opacity="0.3"/>
<line x1="58.04" y1="471.5" x2="58.04" y2="476.3" stroke="#000" stroke-width="0.35" stroke-opacity="0.3"/>
<line x1="58.55" y1="471.5" x2="58.55" y2="476.3" stroke="#000" stroke-width="0.35" stroke-opacity="0.3"/>
<line x1="58.72" y1="471.5" x2="58.72" y2="476.3" stroke="#000" stroke-width="0.35" stroke-opacity="0.3"/>
<line x1="58.9" y1="471.5" x2="58.9" y2="476.3" stroke="#000" stroke-width="0.35" stroke-opacity="0.3"/>
<line x1="59.07" y1="471.5" x2="59.07" y2="476.3" stroke="#000" stroke-width="0.35" stroke-opacity="0.3"/>
<line x1="59.24" y1="471.5" x2="59.24" y2="476.3" stroke="#000" stroke-width="0.35" stroke-opacity="0.3"/>
<line x1="59.41" y1="471.5" x2="59.41" y2="476.3" stroke="#000" stroke-width="0.35" stroke-opacity="0.3"/>
<line x1="59.58" y1="471.5" x2="59.58" y2="476.3" stroke="#000" stroke-width="0.35" stroke-opacity="0.3"/>
<line x1="59.93" y1="471.5" x2="59.93" y2="476.3" stroke="#000" stroke-width="0.35" stroke-opacity="0.3"/>
<line x1="60.1" y1="471.5" x2="60.1" y2="476.3" stroke="#000" stroke-width="0.35" stroke-opacity="0.3"/>
<line x1="60.44" y1="471.5" x2="60.44" y2="476.3" stroke="#000" stroke-width="0.35" stroke-opacity="0.3"/>
<line x1="60.61" y1="471.5" x2="60.61" y2="476.3" stroke="#000" stroke-width="0.35" stroke-opacity="0.3"/>
<line x1="60.96" y1="471.5" x2="60.96" y2="476.3" stroke="#000" stroke-width="0.35" stroke-opacity="0.3"/>
<line x1="61.13" y1="471.5" x2="61.13" y2="476.3" stroke="#000" stroke-width="0.35" stroke-opacity="0.3"/>
<line x1="61.3" y1="471.5" x2="61.3" y2="476.3" stroke="#000" stroke-width="0.35" stroke-opacity="0.3"/>
<line x1="61.47" y1="471.5" x2="61.47" y2="476.3" stroke="#000" stroke-width="0.35" stroke-opacity="0.3"/>
<line x1="61.64" y1="471.5" x2="61.64" y2="476.3" stroke="#000" stroke-width="0.35" stroke-opacity="0.3"/>
<line x1="61.81" y1="471.5" x2="61.81" y2="476.3" stroke="#000" stroke-width="0.35" stroke-opacity="0.3"/>
<line x1="61.99" y1="471.5" x2="61.99" y2="476.3" stroke="#000" stroke-width="0.35" stroke-opacity="0.3"/>
<line x1="62.16" y1="471.5" x2="62.16" y2="476.3" stroke="#000" stroke-width="0.35" stroke-opacity="0.3"/>
<line x1="62.33" y1="471.5" x2="62.33" y2="476.3" stroke="#000" stroke-width="0.35" stroke-opacity="0.3"/>
<line x1="62.5" y1="471.5" x2="62.5" y2="476.3" stroke="#000" stroke-width="0.35" stroke-opacity="0.3"/>
<line x1="62.67" y1="471.5" x2="62.67" y2="476.3" stroke="#000" stroke-width="0.35" stroke-opacity="0.3"/>
<line x1="62.84" y1="471.5" x2="62.84" y2="476.3" stroke="#000" stroke-width="0.35" stroke-opacity="0.3"/>
<line x1="63.02" y1="471.5" x2="63.02" y2="476.3" stroke="#000" stroke-width="0.35" stroke-opacity="0.3"/>
<line x1="63.53" y1="471.5" x2="63.53" y2="476.3" stroke="#000" stroke-width="0.35" stroke-opacity="0.3"/>
<line x1="63.7" y1="471.5" x2="63.7" y2="476.3" stroke="#000" stroke-width="0.35" stroke-opacity="0.3"/>
<line x1="63.87" y1="471.5" x2="63.87" y2="476.3" stroke="#000" stroke-width="0.35" stroke-opacity="0.3"/>
<line x1="64.22" y1="471.5" x2="64.22" y2="476.3" stroke="#000" stroke-width="0.35" stroke-opacity="0.3"/>
<line x1="64.39" y1="471.5" x2="64.39" y2="476.3" stroke="#000" stroke-width="0.35" stroke-opacity="0.3"/>
<line x1="64.56" y1="471.5" x2="64.56" y2="476.3" stroke="#000" stroke-width="0.35" stroke-opacity="0.3"/>
<line x1="64.73" y1="471.5" x2="64.73" y2="476.3" stroke="#000" stroke-width="0.35" stroke-opacity="0.3"/>
<line x1="64.91" y1="471.5" x2="64.91" y2="476.3" stroke="#000" stroke-width="0.35" stroke-opacity="0.3"/>
<line x1="65.08" y1="471.5" x2="65.08" y2="476.3" stroke="#000" stroke-width="0.35" stroke-opacity="0.3"/>
<line x1="65.25" y1="471.5" x2="65.25" y2="476.3" stroke="#000" stroke-width="0.35" stroke-opacity="0.3"/>
<line x1="65.42" y1="471.5" x2="65.42" y2="476.3" stroke="#000" stroke-width="0.35" stroke-opacity="0.3"/>
<line x1="65.59" y1="471.5" x2="65.59" y2="476.3" stroke="#000" stroke-width="0.35" stroke-opacity="0.3"/>
<line x1="65.76" y1="471.5" x2="65.76" y2="476.3" stroke="#000" stroke-width="0.35" stroke-opacity="0.3"/>
<line x1="66.11" y1="471.5" x2="66.11" y2="476.3" stroke="#000" stroke-width="0.35" stroke-opacity="0.3"/>
<line x1="66.28" y1="471.5" x2="66.28" y2="476.3" stroke="#000" stroke-width="0.35" stroke-opacity="0.3"/>
<line x1="66.62" y1="471.5" x2="66.62" y2="476.3" stroke="#000" stroke-width="0.35" stroke-opacity="0.3"/>
<line x1="66.79" y1="471.5" x2="66.79" y2="476.3" stroke="#000" stroke-width="0.35" stroke-opacity="0.3"/>
<line x1="67.14" y1="471.5" x2="67.14" y2="476.3" stroke="#000" stroke-width="0.35" stroke-opacity="0.3"/>
<line x1="67.31" y1="471.5" x2="67.31" y2="476.3" stroke="#000" stroke-width="0.35" stroke-opacity="0.3"/>
<line x1="67.48" y1="471.5" x2="67.48" y2="476.3" stroke="#000" stroke-width="0.35" stroke-opacity="0.3"/>
<line x1="67.65" y1="471.5" x2="67.65" y2="476.3" stroke="#000" stroke-width="0.35" stroke-opacity="0.3"/>
<line x1="67.82" y1="471.5" x2="67.82" y2="476.3" stroke="#000" stroke-width="0.35" stroke-opacity="0.3"/>
<line x1="68" y1="471.5" x2="68" y2="476.3" stroke="#000" stroke-width="0.35" stroke-opacity="0.3"/>
<line x1="68.17" y1="471.5" x2="68.17" y2="476.3" stroke="#000" stroke-width="0.35" stroke-opacity="0.3"/>
<line x1="68.51" y1="471.5" x2="68.51" y2="476.3" stroke="#000" stroke-width="0.35" stroke-opacity="0.3"/>
<line x1="68.85" y1="471.5" x2="68.85" y2="476.3" stroke="#000" stroke-width="0.35" stroke-opacity="0.3"/>
<line x1="69.03" y1="471.5" x2="69.03" y2="476.3" stroke="#000" stroke-width="0.35" stroke-opacity="0.3"/>
<line x1="69.2" y1="471.5" x2="69.2" y2="476.3" stroke="#000" stroke-width="0.35" stroke-opacity="0.3"/>
<line x1="69.54" y1="471.5" x2="69.54" y2="476.3" stroke="#000" stroke-width="0.35" stroke-opacity="0.3"/>
<line x1="69.71" y1="471.5" x2="69.71" y2="476.3" stroke="#000" stroke-width="0.35" stroke-opacity="0.3"/>
<line x1="69.88" y1="471.5" x2="69.88" y2="476.3" stroke="#000" stroke-width="0.35" stroke-opacity="0.3"/>
<line x1="70.06" y1="471.5" x2="70.06" y2="476.3" stroke="#000" stroke-width="0.35" stroke-opacity="0.3"/>
<line x1="70.23" y1="471.5" x2="70.23" y2="476.3" stroke="#000" stroke-width="0.35" stroke-opacity="0.3"/>
<line x1="70.74" y1="471.5" x2="70.74" y2="476.3" stroke="#000" stroke-width="0.35" stroke-opacity="0.3"/>
<line x1="70.91" y1="471.5" x2="70.91" y2="476.3" stroke="#000" stroke-width="0.35" stroke-opacity="0.3"/>
<line x1="71.26" y1="471.5" x2="71.26" y2="476.3" stroke="#000" stroke-width="0.35" stroke-opacity="0.3"/>
<line x1="71.6" y1="471.5" x2="71.6" y2="476.3" stroke="#000" stroke-width="0.35" stroke-opacity="0.3"/>
<line x1="71.77" y1="471.5" x2="71.77" y2="476.3" stroke="#000" stroke-width="0.35" stroke-opacity="0.3"/>
<line x1="71.94" y1="471.5" x2="71.94" y2="476.3" stroke="#000" stroke-width="0.35" stroke-opacity="0.3"/>
<line x1="72.29" y1="471.5" x2="72.29" y2="476.3" stroke="#000" stroke-width="0.35" stroke-opacity="0.3"/>
<line x1="72.46" y1="471.5" x2="72.46" y2="476.3" stroke="#000" stroke-width="0.35" stroke-opacity="0.3"/>
<line x1="72.63" y1="471.5" x2="72.63" y2="476.3" stroke="#000" stroke-width="0.35" stroke-opacity="0.3"/>
<line x1="72.8" y1="471.5" x2="72.8" y2="476.3" stroke="#000" stroke-width="0.35" stroke-opacity="0.2"/>
<line x1="72.97" y1="471.5" x2="72.97" y2="476.3" stroke="#000" stroke-width="0.35" stroke-opacity="0.2"/>
<line x1="73.32" y1="471.5" x2="73.32" y2="476.3" stroke="#000" stroke-width="0.35" stroke-opacity="0.2"/>
<line x1="73.49" y1="471.5" x2="73.49" y2="476.3" stroke="#000" stroke-width="0.35" stroke-opacity="0.2"/>
<line x1="74.18" y1="471.5" x2="74.18" y2="476.3" stroke="#000" stroke-width="0.35" stroke-opacity="0.2"/>
<line x1="74.69" y1="471.5" x2="74.69" y2="476.3" stroke="#000" stroke-width="0.35" stroke-opacity="0.2"/>
<line x1="75.55" y1="471.5" x2="75.55" y2="476.3" stroke="#000" stroke-width="0.35" stroke-opacity="0.2"/>
<line x1="75.72" y1="471.5" x2="75.72" y2="476.3" stroke="#000" stroke-width="0.35" stroke-opacity="0.2"/>
<line x1="75.89" y1="471.5" x2="75.89" y2="476.3" stroke="#000" stroke-width="0.35" stroke-opacity="0.2"/>
<line x1="76.06" y1="471.5" x2="76.06" y2="476.3" stroke="#000" stroke-width="0.35" stroke-opacity="0.2"/>
<line x1="76.41" y1="471.5" x2="76.41" y2="476.3" stroke="#000" stroke-width="0.35" stroke-opacity="0.2"/>
<line x1="76.75" y1="471.5" x2="76.75" y2="476.3" stroke="#000" stroke-width="0.35" stroke-opacity="0.2"/>
<line x1="77.95" y1="471.5" x2="77.95" y2="476.3" stroke="#000" stroke-width="0.35" stroke-opacity="0.2"/>
<line x1="78.3" y1="471.5" x2="78.3" y2="476.3" stroke="#000" stroke-width="0.35" stroke-opacity="0.2"/>
<line x1="78.47" y1="471.5" x2="78.47" y2="476.3" stroke="#000" stroke-width="0.35" stroke-opacity="0.2"/>
<line x1="78.98" y1="471.5" x2="78.98" y2="476.3" stroke="#000" stroke-width="0.35" stroke-opacity="0.2"/>
<line x1="79.5" y1="471.5" x2="79.5" y2="476.3" stroke="#000" stroke-width="0.35" stroke-opacity="0.2"/>
<line x1="79.67" y1="471.5" x2="79.67" y2="476.3" stroke="#000" stroke-width="0.35" stroke-opacity="0.2"/>
<line x1="80.36" y1="471.5" x2="80.36" y2="476.3" stroke="#000" stroke-width="0.35" stroke-opacity="0.2"/>
<line x1="80.53" y1="471.5" x2="80.53" y2="476.3" stroke="#000" stroke-width="0.35" stroke-opacity="0.2"/>
<line x1="81.04" y1="471.5" x2="81.04" y2="476.3" stroke="#000" stroke-width="0.35" stroke-opacity="0.2"/>
<line x1="81.9" y1="471.5" x2="81.9" y2="476.3" stroke="#000" stroke-width="0.35" stroke-opacity="0.2"/>
<line x1="82.42" y1="471.5" x2="82.42" y2="476.3" stroke="#000" stroke-width="0.35" stroke-opacity="0.2"/>
<line x1="82.59" y1="471.5" x2="82.59" y2="476.3" stroke="#000" stroke-width="0.35" stroke-opacity="0.2"/>
<line x1="82.76" y1="471.5" x2="82.76" y2="476.3" stroke="#000" stroke-width="0.35" stroke-opacity="0.2"/>
<line x1="83.62" y1="471.5" x2="83.62" y2="476.3" stroke="#000" stroke-width="0.35" stroke-opacity="0.15"/>
<line x1="83.79" y1="471.5" x2="83.79" y2="476.3" stroke="#000" stroke-width="0.35" stroke-opacity="0.15"/>
<line x1="83.96" y1="471.5" x2="83.96" y2="476.3" stroke="#000" stroke-width="0.35" stroke-opacity="0.15"/>
<line x1="84.13" y1="471.5" x2="84.13" y2="476.3" stroke="#000" stroke-width="0.35" stroke-opacity="0.15"/>
<line x1="84.3" y1="471.5" x2="84.3" y2="476.3" stroke="#000" stroke-width="0.35" stroke-opacity="0.15"/>
<line x1="84.82" y1="471.5" x2="84.82" y2="476.3" stroke="#000" stroke-width="0.35" stroke-opacity="0.15"/>
<line x1="86.19" y1="471.5" x2="86.19" y2="476.3" stroke="#000" stroke-width="0.35" stroke-opacity="0.15"/>
<line x1="86.54" y1="471.5" x2="86.54" y2="476.3" stroke="#000" stroke-width="0.35" stroke-opacity="0.15"/>
<line x1="87.22" y1="471.5" x2="87.22" y2="476.3" stroke="#000" stroke-width="0.35" stroke-opacity="0.15"/>
<line x1="87.39" y1="471.5" x2="87.39" y2="476.3" stroke="#000" stroke-width="0.35" stroke-opacity="0.15"/>
<line x1="89.8" y1="471.5" x2="89.8" y2="476.3" stroke="#000" stroke-width="0.35" stroke-opacity="0.15"/>
<line x1="90.31" y1="471.5" x2="90.31" y2="476.3" stroke="#000" stroke-width="0.35" stroke-opacity="0.15"/>
<line x1="92.03" y1="471.5" x2="92.03" y2="476.3" stroke="#000" stroke-width="0.35" stroke-opacity="0.15"/>
<line x1="93.4" y1="471.5" x2="93.4" y2="476.3" stroke="#000" stroke-width="0.35" stroke-opacity="0.15"/>
<line x1="93.75" y1="471.5" x2="93.75" y2="476.3" stroke="#000" stroke-width="0.35" stroke-opacity="0.15"/>
<line x1="93.92" y1="471.5" x2="93.92" y2="476.3" stroke="#000" stroke-width="0.35" stroke-opacity="0.15"/>
<line x1="94.26" y1="471.5" x2="94.26" y2="476.3" stroke="#000" stroke-width="0.35" stroke-opacity="0.15"/>
<line x1="94.43" y1="471.5" x2="94.43" y2="476.3" stroke="#000" stroke-width="0.35" stroke-opacity="0.15"/>
<line x1="94.61" y1="471.5" x2="94.61" y2="476.3" stroke="#000" stroke-width="0.35" stroke-opacity="0.15"/>
<line x1="94.95" y1="471.5" x2="94.95" y2="476.3" stroke="#000" stroke-width="0.35" stroke-opacity="0.15"/>
<line x1="95.12" y1="471.5" x2="95.12" y2="476.3" stroke="#000" stroke-width="0.35" stroke-opacity="0.15"/>
<line x1="95.46" y1="471.5" x2="95.46" y2="476.3" stroke="#000" stroke-width="0.35" stroke-opacity="0.15"/>
<line x1="96.67" y1="471.5" x2="96.67" y2="476.3" stroke="#000" stroke-width="0.35" stroke-opacity="0.15"/>
<line x1="106.28" y1="471.5" x2="106.28" y2="476.3" stroke="#000" stroke-width="0.35" stroke-opacity="0.12"/>
<rect x="41.9" y="476.3" width="70.5" height="2" fill="url(#cb)"/>
<line x1="38.5" y1="426" x2="38.5" y2="478.9" stroke="#231f20" stroke-width="1.1"/>
<line x1="38.5" y1="478.9" x2="115.5" y2="478.9" stroke="#231f20" stroke-width="1.1"/>
<line x1="41.9" y1="478.9" x2="41.9" y2="481.1" stroke="#231f20" stroke-width="0.6"/>
<text x="41.9" y="489.4" font-size="5.2" fill="#231f20" stroke="#231f20" stroke-width="0.05" text-anchor="middle">0</text>
<line x1="59.2" y1="478.9" x2="59.2" y2="481.1" stroke="#231f20" stroke-width="0.6"/>
<text x="59.2" y="489.4" font-size="5.2" fill="#231f20" stroke="#231f20" stroke-width="0.05" text-anchor="middle">5000</text>
<line x1="76.5" y1="478.9" x2="76.5" y2="481.1" stroke="#231f20" stroke-width="0.6"/>
<text x="76.5" y="489.4" font-size="5.2" fill="#231f20" stroke="#231f20" stroke-width="0.05" text-anchor="middle">10000</text>
<line x1="93.4" y1="478.9" x2="93.4" y2="481.1" stroke="#231f20" stroke-width="0.6"/>
<text x="93.4" y="489.4" font-size="5.2" fill="#231f20" stroke="#231f20" stroke-width="0.05" text-anchor="middle">15000</text>
<line x1="110.4" y1="478.9" x2="110.4" y2="481.1" stroke="#231f20" stroke-width="0.6"/>
<text x="110.4" y="489.4" font-size="5.2" fill="#231f20" stroke="#231f20" stroke-width="0.05" text-anchor="middle">20000</text>
<line x1="35.3" y1="428.7" x2="38.5" y2="428.7" stroke="#231f20" stroke-width="0.8"/>
<text x="32.3" y="430.6" font-size="5.3" fill="#231f20" stroke="#231f20" stroke-width="0.05" text-anchor="end" textLength="9.54" lengthAdjust="spacingAndGlyphs">0.75</text>
<line x1="35.3" y1="442.9" x2="38.5" y2="442.9" stroke="#231f20" stroke-width="0.8"/>
<text x="32.3" y="444.8" font-size="5.3" fill="#231f20" stroke="#231f20" stroke-width="0.05" text-anchor="end" textLength="9.54" lengthAdjust="spacingAndGlyphs">0.50</text>
<line x1="35.3" y1="456.4" x2="38.5" y2="456.4" stroke="#231f20" stroke-width="0.8"/>
<text x="32.3" y="458.3" font-size="5.3" fill="#231f20" stroke="#231f20" stroke-width="0.05" text-anchor="end" textLength="9.54" lengthAdjust="spacingAndGlyphs">0.25</text>
<line x1="35.3" y1="470.6" x2="38.5" y2="470.6" stroke="#231f20" stroke-width="0.8"/>
<text x="32.3" y="472.5" font-size="5.3" fill="#231f20" stroke="#231f20" stroke-width="0.05" text-anchor="end" textLength="9.54" lengthAdjust="spacingAndGlyphs">0.00</text>
<path d="M41.6,470.6 L42.3,460 L43.1,448 L44.3,440 L45.8,435.8 L47.5,433.2 L49.7,431.6 L53.8,431.2 L57.9,431.6 L61.2,433 L67.7,437.2 L75,442.3 L84,448.4 L92,454 L100.4,460.4 L106,466 L110.7,470.4" stroke="#6ab84a" stroke-width="0.8" fill="none"/>
<text x="26.1" y="418.2" font-size="5.3" fill="#231f20" stroke="#231f20" stroke-width="0.05" textLength="100.4" lengthAdjust="spacingAndGlyphs">JAATINEN_HEMATOPOIETIC_STEM_CELL_UP</text>
<text x="49" y="424.4" font-size="5.3" fill="#231f20" stroke="#231f20" stroke-width="0.05" textLength="55.5" lengthAdjust="spacingAndGlyphs">NES=3.04, padj=4.7e-04</text>
<line x1="38.5" y1="516" x2="115.5" y2="516" stroke="#a0a0a0" stroke-width="0.8"/>
<line x1="56.15" y1="555" x2="56.15" y2="560.4" stroke="#000" stroke-width="0.35" stroke-opacity="0.2"/>
<line x1="61.64" y1="555" x2="61.64" y2="560.4" stroke="#000" stroke-width="0.35" stroke-opacity="0.2"/>
<line x1="64.22" y1="555" x2="64.22" y2="560.4" stroke="#000" stroke-width="0.35" stroke-opacity="0.2"/>
<line x1="65.59" y1="555" x2="65.59" y2="560.4" stroke="#000" stroke-width="0.35" stroke-opacity="0.2"/>
<line x1="67.31" y1="555" x2="67.31" y2="560.4" stroke="#000" stroke-width="0.35" stroke-opacity="0.2"/>
<line x1="67.82" y1="555" x2="67.82" y2="560.4" stroke="#000" stroke-width="0.35" stroke-opacity="0.2"/>
<line x1="71.26" y1="555" x2="71.26" y2="560.4" stroke="#000" stroke-width="0.35" stroke-opacity="0.2"/>
<line x1="71.43" y1="555" x2="71.43" y2="560.4" stroke="#000" stroke-width="0.35" stroke-opacity="0.2"/>
<line x1="73.49" y1="555" x2="73.49" y2="560.4" stroke="#000" stroke-width="0.35" stroke-opacity="0.22"/>
<line x1="74.69" y1="555" x2="74.69" y2="560.4" stroke="#000" stroke-width="0.35" stroke-opacity="0.22"/>
<line x1="74.86" y1="555" x2="74.86" y2="560.4" stroke="#000" stroke-width="0.35" stroke-opacity="0.22"/>
<line x1="75.03" y1="555" x2="75.03" y2="560.4" stroke="#000" stroke-width="0.35" stroke-opacity="0.22"/>
<line x1="75.38" y1="555" x2="75.38" y2="560.4" stroke="#000" stroke-width="0.35" stroke-opacity="0.22"/>
<line x1="75.72" y1="555" x2="75.72" y2="560.4" stroke="#000" stroke-width="0.35" stroke-opacity="0.22"/>
<line x1="75.89" y1="555" x2="75.89" y2="560.4" stroke="#000" stroke-width="0.35" stroke-opacity="0.22"/>
<line x1="76.06" y1="555" x2="76.06" y2="560.4" stroke="#000" stroke-width="0.35" stroke-opacity="0.22"/>
<line x1="76.41" y1="555" x2="76.41" y2="560.4" stroke="#000" stroke-width="0.35" stroke-opacity="0.22"/>
<line x1="76.58" y1="555" x2="76.58" y2="560.4" stroke="#000" stroke-width="0.35" stroke-opacity="0.22"/>
<line x1="76.75" y1="555" x2="76.75" y2="560.4" stroke="#000" stroke-width="0.35" stroke-opacity="0.22"/>
<line x1="76.92" y1="555" x2="76.92" y2="560.4" stroke="#000" stroke-width="0.35" stroke-opacity="0.22"/>
<line x1="77.27" y1="555" x2="77.27" y2="560.4" stroke="#000" stroke-width="0.35" stroke-opacity="0.22"/>
<line x1="77.44" y1="555" x2="77.44" y2="560.4" stroke="#000" stroke-width="0.35" stroke-opacity="0.22"/>
<line x1="78.12" y1="555" x2="78.12" y2="560.4" stroke="#000" stroke-width="0.35" stroke-opacity="0.22"/>
<line x1="78.64" y1="555" x2="78.64" y2="560.4" stroke="#000" stroke-width="0.35" stroke-opacity="0.22"/>
<line x1="78.98" y1="555" x2="78.98" y2="560.4" stroke="#000" stroke-width="0.35" stroke-opacity="0.22"/>
<line x1="79.15" y1="555" x2="79.15" y2="560.4" stroke="#000" stroke-width="0.35" stroke-opacity="0.22"/>
<line x1="79.5" y1="555" x2="79.5" y2="560.4" stroke="#000" stroke-width="0.35" stroke-opacity="0.22"/>
<line x1="80.01" y1="555" x2="80.01" y2="560.4" stroke="#000" stroke-width="0.35" stroke-opacity="0.22"/>
<line x1="80.18" y1="555" x2="80.18" y2="560.4" stroke="#000" stroke-width="0.35" stroke-opacity="0.22"/>
<line x1="81.39" y1="555" x2="81.39" y2="560.4" stroke="#000" stroke-width="0.35" stroke-opacity="0.22"/>
<line x1="82.24" y1="555" x2="82.24" y2="560.4" stroke="#000" stroke-width="0.35" stroke-opacity="0.22"/>
<line x1="82.93" y1="555" x2="82.93" y2="560.4" stroke="#000" stroke-width="0.35" stroke-opacity="0.22"/>
<line x1="83.1" y1="555" x2="83.1" y2="560.4" stroke="#000" stroke-width="0.35" stroke-opacity="0.22"/>
<line x1="83.27" y1="555" x2="83.27" y2="560.4" stroke="#000" stroke-width="0.35" stroke-opacity="0.22"/>
<line x1="83.45" y1="555" x2="83.45" y2="560.4" stroke="#000" stroke-width="0.35" stroke-opacity="0.22"/>
<line x1="83.62" y1="555" x2="83.62" y2="560.4" stroke="#000" stroke-width="0.35" stroke-opacity="0.22"/>
<line x1="83.79" y1="555" x2="83.79" y2="560.4" stroke="#000" stroke-width="0.35" stroke-opacity="0.22"/>
<line x1="84.3" y1="555" x2="84.3" y2="560.4" stroke="#000" stroke-width="0.35" stroke-opacity="0.22"/>
<line x1="85.33" y1="555" x2="85.33" y2="560.4" stroke="#000" stroke-width="0.35" stroke-opacity="0.22"/>
<line x1="86.02" y1="555" x2="86.02" y2="560.4" stroke="#000" stroke-width="0.35" stroke-opacity="0.22"/>
<line x1="86.54" y1="555" x2="86.54" y2="560.4" stroke="#000" stroke-width="0.35" stroke-opacity="0.22"/>
<line x1="87.39" y1="555" x2="87.39" y2="560.4" stroke="#000" stroke-width="0.35" stroke-opacity="0.22"/>
<line x1="88.77" y1="555" x2="88.77" y2="560.4" stroke="#000" stroke-width="0.35" stroke-opacity="0.22"/>
<line x1="89.46" y1="555" x2="89.46" y2="560.4" stroke="#000" stroke-width="0.35" stroke-opacity="0.22"/>
<line x1="90.14" y1="555" x2="90.14" y2="560.4" stroke="#000" stroke-width="0.35" stroke-opacity="0.3"/>
<line x1="90.49" y1="555" x2="90.49" y2="560.4" stroke="#000" stroke-width="0.35" stroke-opacity="0.3"/>
<line x1="90.83" y1="555" x2="90.83" y2="560.4" stroke="#000" stroke-width="0.35" stroke-opacity="0.3"/>
<line x1="91.52" y1="555" x2="91.52" y2="560.4" stroke="#000" stroke-width="0.35" stroke-opacity="0.3"/>
<line x1="91.69" y1="555" x2="91.69" y2="560.4" stroke="#000" stroke-width="0.35" stroke-opacity="0.3"/>
<line x1="92.55" y1="555" x2="92.55" y2="560.4" stroke="#000" stroke-width="0.35" stroke-opacity="0.3"/>
<line x1="93.06" y1="555" x2="93.06" y2="560.4" stroke="#000" stroke-width="0.35" stroke-opacity="0.3"/>
<line x1="93.23" y1="555" x2="93.23" y2="560.4" stroke="#000" stroke-width="0.35" stroke-opacity="0.3"/>
<line x1="93.4" y1="555" x2="93.4" y2="560.4" stroke="#000" stroke-width="0.35" stroke-opacity="0.3"/>
<line x1="93.58" y1="555" x2="93.58" y2="560.4" stroke="#000" stroke-width="0.35" stroke-opacity="0.3"/>
<line x1="93.92" y1="555" x2="93.92" y2="560.4" stroke="#000" stroke-width="0.35" stroke-opacity="0.3"/>
<line x1="94.26" y1="555" x2="94.26" y2="560.4" stroke="#000" stroke-width="0.35" stroke-opacity="0.3"/>
<line x1="94.43" y1="555" x2="94.43" y2="560.4" stroke="#000" stroke-width="0.35" stroke-opacity="0.3"/>
<line x1="94.78" y1="555" x2="94.78" y2="560.4" stroke="#000" stroke-width="0.35" stroke-opacity="0.3"/>
<line x1="94.95" y1="555" x2="94.95" y2="560.4" stroke="#000" stroke-width="0.35" stroke-opacity="0.3"/>
<line x1="95.12" y1="555" x2="95.12" y2="560.4" stroke="#000" stroke-width="0.35" stroke-opacity="0.3"/>
<line x1="95.64" y1="555" x2="95.64" y2="560.4" stroke="#000" stroke-width="0.35" stroke-opacity="0.3"/>
<line x1="95.81" y1="555" x2="95.81" y2="560.4" stroke="#000" stroke-width="0.35" stroke-opacity="0.3"/>
<line x1="96.15" y1="555" x2="96.15" y2="560.4" stroke="#000" stroke-width="0.35" stroke-opacity="0.3"/>
<line x1="96.49" y1="555" x2="96.49" y2="560.4" stroke="#000" stroke-width="0.35" stroke-opacity="0.3"/>
<line x1="97.35" y1="555" x2="97.35" y2="560.4" stroke="#000" stroke-width="0.35" stroke-opacity="0.3"/>
<line x1="97.52" y1="555" x2="97.52" y2="560.4" stroke="#000" stroke-width="0.35" stroke-opacity="0.3"/>
<line x1="97.7" y1="555" x2="97.7" y2="560.4" stroke="#000" stroke-width="0.35" stroke-opacity="0.3"/>
<line x1="98.04" y1="555" x2="98.04" y2="560.4" stroke="#000" stroke-width="0.35" stroke-opacity="0.3"/>
<line x1="98.21" y1="555" x2="98.21" y2="560.4" stroke="#000" stroke-width="0.35" stroke-opacity="0.3"/>
<line x1="98.55" y1="555" x2="98.55" y2="560.4" stroke="#000" stroke-width="0.35" stroke-opacity="0.3"/>
<line x1="98.9" y1="555" x2="98.9" y2="560.4" stroke="#000" stroke-width="0.35" stroke-opacity="0.3"/>
<line x1="99.24" y1="555" x2="99.24" y2="560.4" stroke="#000" stroke-width="0.35" stroke-opacity="0.3"/>
<line x1="100.27" y1="555" x2="100.27" y2="560.4" stroke="#000" stroke-width="0.35" stroke-opacity="0.36"/>
<line x1="100.44" y1="555" x2="100.44" y2="560.4" stroke="#000" stroke-width="0.35" stroke-opacity="0.36"/>
<line x1="100.61" y1="555" x2="100.61" y2="560.4" stroke="#000" stroke-width="0.35" stroke-opacity="0.36"/>
<line x1="100.79" y1="555" x2="100.79" y2="560.4" stroke="#000" stroke-width="0.35" stroke-opacity="0.36"/>
<line x1="101.13" y1="555" x2="101.13" y2="560.4" stroke="#000" stroke-width="0.35" stroke-opacity="0.36"/>
<line x1="101.47" y1="555" x2="101.47" y2="560.4" stroke="#000" stroke-width="0.35" stroke-opacity="0.36"/>
<line x1="101.64" y1="555" x2="101.64" y2="560.4" stroke="#000" stroke-width="0.35" stroke-opacity="0.36"/>
<line x1="101.82" y1="555" x2="101.82" y2="560.4" stroke="#000" stroke-width="0.35" stroke-opacity="0.36"/>
<line x1="102.16" y1="555" x2="102.16" y2="560.4" stroke="#000" stroke-width="0.35" stroke-opacity="0.36"/>
<line x1="102.33" y1="555" x2="102.33" y2="560.4" stroke="#000" stroke-width="0.35" stroke-opacity="0.36"/>
<line x1="102.5" y1="555" x2="102.5" y2="560.4" stroke="#000" stroke-width="0.35" stroke-opacity="0.36"/>
<line x1="102.67" y1="555" x2="102.67" y2="560.4" stroke="#000" stroke-width="0.35" stroke-opacity="0.36"/>
<line x1="102.85" y1="555" x2="102.85" y2="560.4" stroke="#000" stroke-width="0.35" stroke-opacity="0.36"/>
<line x1="103.19" y1="555" x2="103.19" y2="560.4" stroke="#000" stroke-width="0.35" stroke-opacity="0.36"/>
<line x1="103.36" y1="555" x2="103.36" y2="560.4" stroke="#000" stroke-width="0.35" stroke-opacity="0.36"/>
<line x1="103.53" y1="555" x2="103.53" y2="560.4" stroke="#000" stroke-width="0.35" stroke-opacity="0.36"/>
<line x1="103.7" y1="555" x2="103.7" y2="560.4" stroke="#000" stroke-width="0.35" stroke-opacity="0.36"/>
<line x1="103.88" y1="555" x2="103.88" y2="560.4" stroke="#000" stroke-width="0.35" stroke-opacity="0.36"/>
<line x1="104.22" y1="555" x2="104.22" y2="560.4" stroke="#000" stroke-width="0.35" stroke-opacity="0.36"/>
<line x1="104.39" y1="555" x2="104.39" y2="560.4" stroke="#000" stroke-width="0.35" stroke-opacity="0.36"/>
<line x1="104.56" y1="555" x2="104.56" y2="560.4" stroke="#000" stroke-width="0.35" stroke-opacity="0.36"/>
<line x1="104.73" y1="555" x2="104.73" y2="560.4" stroke="#000" stroke-width="0.35" stroke-opacity="0.36"/>
<line x1="104.91" y1="555" x2="104.91" y2="560.4" stroke="#000" stroke-width="0.35" stroke-opacity="0.36"/>
<line x1="105.76" y1="555" x2="105.76" y2="560.4" stroke="#000" stroke-width="0.35" stroke-opacity="0.36"/>
<line x1="106.11" y1="555" x2="106.11" y2="560.4" stroke="#000" stroke-width="0.35" stroke-opacity="0.36"/>
<line x1="106.28" y1="555" x2="106.28" y2="560.4" stroke="#000" stroke-width="0.35" stroke-opacity="0.36"/>
<line x1="106.97" y1="555" x2="106.97" y2="560.4" stroke="#000" stroke-width="0.35" stroke-opacity="0.36"/>
<line x1="107.31" y1="555" x2="107.31" y2="560.4" stroke="#000" stroke-width="0.35" stroke-opacity="0.36"/>
<line x1="107.82" y1="555" x2="107.82" y2="560.4" stroke="#000" stroke-width="0.35" stroke-opacity="0.36"/>
<line x1="108.17" y1="555" x2="108.17" y2="560.4" stroke="#000" stroke-width="0.35" stroke-opacity="0.36"/>
<line x1="108.34" y1="555" x2="108.34" y2="560.4" stroke="#000" stroke-width="0.35" stroke-opacity="0.36"/>
<line x1="108.68" y1="555" x2="108.68" y2="560.4" stroke="#000" stroke-width="0.35" stroke-opacity="0.36"/>
<line x1="108.85" y1="555" x2="108.85" y2="560.4" stroke="#000" stroke-width="0.35" stroke-opacity="0.36"/>
<line x1="109.03" y1="555" x2="109.03" y2="560.4" stroke="#000" stroke-width="0.35" stroke-opacity="0.36"/>
<line x1="109.2" y1="555" x2="109.2" y2="560.4" stroke="#000" stroke-width="0.35" stroke-opacity="0.36"/>
<line x1="109.54" y1="555" x2="109.54" y2="560.4" stroke="#000" stroke-width="0.35" stroke-opacity="0.36"/>
<line x1="109.71" y1="555" x2="109.71" y2="560.4" stroke="#000" stroke-width="0.35" stroke-opacity="0.36"/>
<line x1="109.88" y1="555" x2="109.88" y2="560.4" stroke="#000" stroke-width="0.35" stroke-opacity="0.36"/>
<line x1="110.4" y1="555" x2="110.4" y2="560.4" stroke="#000" stroke-width="0.35" stroke-opacity="0.36"/>
<rect x="41.9" y="560.4" width="70.5" height="2.1" fill="url(#cb)"/>
<line x1="38.5" y1="513.1" x2="38.5" y2="563.1" stroke="#231f20" stroke-width="1.1"/>
<line x1="38.5" y1="563.1" x2="115.5" y2="563.1" stroke="#231f20" stroke-width="1.1"/>
<line x1="41.9" y1="563.1" x2="41.9" y2="565.3" stroke="#231f20" stroke-width="0.6"/>
<text x="41.9" y="573.9" font-size="5.2" fill="#231f20" stroke="#231f20" stroke-width="0.05" text-anchor="middle">0</text>
<line x1="59.2" y1="563.1" x2="59.2" y2="565.3" stroke="#231f20" stroke-width="0.6"/>
<text x="59.2" y="573.9" font-size="5.2" fill="#231f20" stroke="#231f20" stroke-width="0.05" text-anchor="middle">5000</text>
<line x1="76.5" y1="563.1" x2="76.5" y2="565.3" stroke="#231f20" stroke-width="0.6"/>
<text x="76.5" y="573.9" font-size="5.2" fill="#231f20" stroke="#231f20" stroke-width="0.05" text-anchor="middle">10000</text>
<line x1="93.4" y1="563.1" x2="93.4" y2="565.3" stroke="#231f20" stroke-width="0.6"/>
<text x="93.4" y="573.9" font-size="5.2" fill="#231f20" stroke="#231f20" stroke-width="0.05" text-anchor="middle">15000</text>
<line x1="110.4" y1="563.1" x2="110.4" y2="565.3" stroke="#231f20" stroke-width="0.6"/>
<text x="110.4" y="573.9" font-size="5.2" fill="#231f20" stroke="#231f20" stroke-width="0.05" text-anchor="middle">20000</text>
<line x1="35.3" y1="516" x2="38.5" y2="516" stroke="#231f20" stroke-width="0.8"/>
<text x="32.8" y="517.9" font-size="5.3" fill="#231f20" stroke="#231f20" stroke-width="0.05" text-anchor="end" textLength="6.81" lengthAdjust="spacingAndGlyphs">0.0</text>
<line x1="35.3" y1="528.7" x2="38.5" y2="528.7" stroke="#231f20" stroke-width="0.8"/>
<text x="32.8" y="530.6" font-size="5.3" fill="#231f20" stroke="#231f20" stroke-width="0.05" text-anchor="end" textLength="9.67" lengthAdjust="spacingAndGlyphs">−0.2</text>
<line x1="35.3" y1="541.3" x2="38.5" y2="541.3" stroke="#231f20" stroke-width="0.8"/>
<text x="32.8" y="543.2" font-size="5.3" fill="#231f20" stroke="#231f20" stroke-width="0.05" text-anchor="end" textLength="9.67" lengthAdjust="spacingAndGlyphs">−0.4</text>
<line x1="35.3" y1="554" x2="38.5" y2="554" stroke="#231f20" stroke-width="0.8"/>
<text x="32.8" y="555.9" font-size="5.3" fill="#231f20" stroke="#231f20" stroke-width="0.05" text-anchor="end" textLength="9.67" lengthAdjust="spacingAndGlyphs">−0.6</text>
<path d="M41.9,516 L50,522.3 L60,530 L70,537.8 L80,545.6 L86,550.8 L88.5,554.6 L93,555.3 L98.5,555.2 L101,554 L103,552 L105,549.5 L106.7,545.5 L108.3,540 L109.2,535 L110,526 L110.8,516" stroke="#6ab84a" stroke-width="0.8" fill="none"/>
<text x="22.9" y="505" font-size="5.3" fill="#231f20" stroke="#231f20" stroke-width="0.05" textLength="106.9" lengthAdjust="spacingAndGlyphs">REACTOME_INTERFERON_GAMMA_SIGNALING</text>
<text x="47.1" y="511.7" font-size="5.3" fill="#231f20" stroke="#231f20" stroke-width="0.05" textLength="58.4" lengthAdjust="spacingAndGlyphs">NES=−2.34, padj=5.7e-04</text>
<line x1="164.5" y1="470" x2="240.4" y2="470" stroke="#a0a0a0" stroke-width="0.8"/>
<line x1="167.7" y1="470.6" x2="167.7" y2="476.2" stroke="#000" stroke-width="0.35" stroke-opacity="0.32"/>
<line x1="167.87" y1="470.6" x2="167.87" y2="476.2" stroke="#000" stroke-width="0.35" stroke-opacity="0.32"/>
<line x1="168.04" y1="470.6" x2="168.04" y2="476.2" stroke="#000" stroke-width="0.35" stroke-opacity="0.32"/>
<line x1="168.22" y1="470.6" x2="168.22" y2="476.2" stroke="#000" stroke-width="0.35" stroke-opacity="0.32"/>
<line x1="168.39" y1="470.6" x2="168.39" y2="476.2" stroke="#000" stroke-width="0.35" stroke-opacity="0.32"/>
<line x1="169.42" y1="470.6" x2="169.42" y2="476.2" stroke="#000" stroke-width="0.35" stroke-opacity="0.32"/>
<line x1="169.59" y1="470.6" x2="169.59" y2="476.2" stroke="#000" stroke-width="0.35" stroke-opacity="0.32"/>
<line x1="169.77" y1="470.6" x2="169.77" y2="476.2" stroke="#000" stroke-width="0.35" stroke-opacity="0.32"/>
<line x1="169.94" y1="470.6" x2="169.94" y2="476.2" stroke="#000" stroke-width="0.35" stroke-opacity="0.32"/>
<line x1="170.11" y1="470.6" x2="170.11" y2="476.2" stroke="#000" stroke-width="0.35" stroke-opacity="0.32"/>
<line x1="170.28" y1="470.6" x2="170.28" y2="476.2" stroke="#000" stroke-width="0.35" stroke-opacity="0.32"/>
<line x1="170.45" y1="470.6" x2="170.45" y2="476.2" stroke="#000" stroke-width="0.35" stroke-opacity="0.32"/>
<line x1="170.8" y1="470.6" x2="170.8" y2="476.2" stroke="#000" stroke-width="0.35" stroke-opacity="0.32"/>
<line x1="170.97" y1="470.6" x2="170.97" y2="476.2" stroke="#000" stroke-width="0.35" stroke-opacity="0.32"/>
<line x1="171.49" y1="470.6" x2="171.49" y2="476.2" stroke="#000" stroke-width="0.35" stroke-opacity="0.32"/>
<line x1="171.66" y1="470.6" x2="171.66" y2="476.2" stroke="#000" stroke-width="0.35" stroke-opacity="0.32"/>
<line x1="172" y1="470.6" x2="172" y2="476.2" stroke="#000" stroke-width="0.35" stroke-opacity="0.32"/>
<line x1="172.18" y1="470.6" x2="172.18" y2="476.2" stroke="#000" stroke-width="0.35" stroke-opacity="0.32"/>
<line x1="172.35" y1="470.6" x2="172.35" y2="476.2" stroke="#000" stroke-width="0.35" stroke-opacity="0.32"/>
<line x1="172.52" y1="470.6" x2="172.52" y2="476.2" stroke="#000" stroke-width="0.35" stroke-opacity="0.32"/>
<line x1="172.69" y1="470.6" x2="172.69" y2="476.2" stroke="#000" stroke-width="0.35" stroke-opacity="0.32"/>
<line x1="172.87" y1="470.6" x2="172.87" y2="476.2" stroke="#000" stroke-width="0.35" stroke-opacity="0.32"/>
<line x1="173.04" y1="470.6" x2="173.04" y2="476.2" stroke="#000" stroke-width="0.35" stroke-opacity="0.32"/>
<line x1="173.38" y1="470.6" x2="173.38" y2="476.2" stroke="#000" stroke-width="0.35" stroke-opacity="0.32"/>
<line x1="174.07" y1="470.6" x2="174.07" y2="476.2" stroke="#000" stroke-width="0.35" stroke-opacity="0.32"/>
<line x1="174.24" y1="470.6" x2="174.24" y2="476.2" stroke="#000" stroke-width="0.35" stroke-opacity="0.32"/>
<line x1="174.42" y1="470.6" x2="174.42" y2="476.2" stroke="#000" stroke-width="0.35" stroke-opacity="0.32"/>
<line x1="174.59" y1="470.6" x2="174.59" y2="476.2" stroke="#000" stroke-width="0.35" stroke-opacity="0.32"/>
<line x1="174.76" y1="470.6" x2="174.76" y2="476.2" stroke="#000" stroke-width="0.35" stroke-opacity="0.32"/>
<line x1="174.93" y1="470.6" x2="174.93" y2="476.2" stroke="#000" stroke-width="0.35" stroke-opacity="0.32"/>
<line x1="175.1" y1="470.6" x2="175.1" y2="476.2" stroke="#000" stroke-width="0.35" stroke-opacity="0.32"/>
<line x1="175.28" y1="470.6" x2="175.28" y2="476.2" stroke="#000" stroke-width="0.35" stroke-opacity="0.32"/>
<line x1="175.45" y1="470.6" x2="175.45" y2="476.2" stroke="#000" stroke-width="0.35" stroke-opacity="0.32"/>
<line x1="175.62" y1="470.6" x2="175.62" y2="476.2" stroke="#000" stroke-width="0.35" stroke-opacity="0.32"/>
<line x1="175.96" y1="470.6" x2="175.96" y2="476.2" stroke="#000" stroke-width="0.35" stroke-opacity="0.32"/>
<line x1="176.14" y1="470.6" x2="176.14" y2="476.2" stroke="#000" stroke-width="0.35" stroke-opacity="0.32"/>
<line x1="176.31" y1="470.6" x2="176.31" y2="476.2" stroke="#000" stroke-width="0.35" stroke-opacity="0.32"/>
<line x1="176.48" y1="470.6" x2="176.48" y2="476.2" stroke="#000" stroke-width="0.35" stroke-opacity="0.32"/>
<line x1="176.65" y1="470.6" x2="176.65" y2="476.2" stroke="#000" stroke-width="0.35" stroke-opacity="0.32"/>
<line x1="176.83" y1="470.6" x2="176.83" y2="476.2" stroke="#000" stroke-width="0.35" stroke-opacity="0.32"/>
<line x1="177.34" y1="470.6" x2="177.34" y2="476.2" stroke="#000" stroke-width="0.35" stroke-opacity="0.32"/>
<line x1="177.51" y1="470.6" x2="177.51" y2="476.2" stroke="#000" stroke-width="0.35" stroke-opacity="0.32"/>
<line x1="178.03" y1="470.6" x2="178.03" y2="476.2" stroke="#000" stroke-width="0.35" stroke-opacity="0.32"/>
<line x1="178.38" y1="470.6" x2="178.38" y2="476.2" stroke="#000" stroke-width="0.35" stroke-opacity="0.32"/>
<line x1="178.55" y1="470.6" x2="178.55" y2="476.2" stroke="#000" stroke-width="0.35" stroke-opacity="0.32"/>
<line x1="178.72" y1="470.6" x2="178.72" y2="476.2" stroke="#000" stroke-width="0.35" stroke-opacity="0.32"/>
<line x1="178.89" y1="470.6" x2="178.89" y2="476.2" stroke="#000" stroke-width="0.35" stroke-opacity="0.32"/>
<line x1="179.06" y1="470.6" x2="179.06" y2="476.2" stroke="#000" stroke-width="0.35" stroke-opacity="0.32"/>
<line x1="179.58" y1="470.6" x2="179.58" y2="476.2" stroke="#000" stroke-width="0.35" stroke-opacity="0.32"/>
<line x1="179.75" y1="470.6" x2="179.75" y2="476.2" stroke="#000" stroke-width="0.35" stroke-opacity="0.32"/>
<line x1="180.27" y1="470.6" x2="180.27" y2="476.2" stroke="#000" stroke-width="0.35" stroke-opacity="0.32"/>
<line x1="180.44" y1="470.6" x2="180.44" y2="476.2" stroke="#000" stroke-width="0.35" stroke-opacity="0.32"/>
<line x1="180.61" y1="470.6" x2="180.61" y2="476.2" stroke="#000" stroke-width="0.35" stroke-opacity="0.32"/>
<line x1="180.79" y1="470.6" x2="180.79" y2="476.2" stroke="#000" stroke-width="0.35" stroke-opacity="0.32"/>
<line x1="180.96" y1="470.6" x2="180.96" y2="476.2" stroke="#000" stroke-width="0.35" stroke-opacity="0.32"/>
<line x1="181.13" y1="470.6" x2="181.13" y2="476.2" stroke="#000" stroke-width="0.35" stroke-opacity="0.32"/>
<line x1="181.47" y1="470.6" x2="181.47" y2="476.2" stroke="#000" stroke-width="0.35" stroke-opacity="0.32"/>
<line x1="181.65" y1="470.6" x2="181.65" y2="476.2" stroke="#000" stroke-width="0.35" stroke-opacity="0.32"/>
<line x1="181.82" y1="470.6" x2="181.82" y2="476.2" stroke="#000" stroke-width="0.35" stroke-opacity="0.32"/>
<line x1="181.99" y1="470.6" x2="181.99" y2="476.2" stroke="#000" stroke-width="0.35" stroke-opacity="0.32"/>
<line x1="182.34" y1="470.6" x2="182.34" y2="476.2" stroke="#000" stroke-width="0.35" stroke-opacity="0.32"/>
<line x1="182.68" y1="470.6" x2="182.68" y2="476.2" stroke="#000" stroke-width="0.35" stroke-opacity="0.32"/>
<line x1="182.85" y1="470.6" x2="182.85" y2="476.2" stroke="#000" stroke-width="0.35" stroke-opacity="0.32"/>
<line x1="183.02" y1="470.6" x2="183.02" y2="476.2" stroke="#000" stroke-width="0.35" stroke-opacity="0.32"/>
<line x1="183.2" y1="470.6" x2="183.2" y2="476.2" stroke="#000" stroke-width="0.35" stroke-opacity="0.32"/>
<line x1="183.88" y1="470.6" x2="183.88" y2="476.2" stroke="#000" stroke-width="0.35" stroke-opacity="0.32"/>
<line x1="184.06" y1="470.6" x2="184.06" y2="476.2" stroke="#000" stroke-width="0.35" stroke-opacity="0.32"/>
<line x1="184.23" y1="470.6" x2="184.23" y2="476.2" stroke="#000" stroke-width="0.35" stroke-opacity="0.32"/>
<line x1="184.4" y1="470.6" x2="184.4" y2="476.2" stroke="#000" stroke-width="0.35" stroke-opacity="0.32"/>
<line x1="184.57" y1="470.6" x2="184.57" y2="476.2" stroke="#000" stroke-width="0.35" stroke-opacity="0.32"/>
<line x1="184.75" y1="470.6" x2="184.75" y2="476.2" stroke="#000" stroke-width="0.35" stroke-opacity="0.32"/>
<line x1="185.26" y1="470.6" x2="185.26" y2="476.2" stroke="#000" stroke-width="0.35" stroke-opacity="0.32"/>
<line x1="185.43" y1="470.6" x2="185.43" y2="476.2" stroke="#000" stroke-width="0.35" stroke-opacity="0.32"/>
<line x1="185.61" y1="470.6" x2="185.61" y2="476.2" stroke="#000" stroke-width="0.35" stroke-opacity="0.32"/>
<line x1="185.78" y1="470.6" x2="185.78" y2="476.2" stroke="#000" stroke-width="0.35" stroke-opacity="0.32"/>
<line x1="186.3" y1="470.6" x2="186.3" y2="476.2" stroke="#000" stroke-width="0.35" stroke-opacity="0.32"/>
<line x1="186.47" y1="470.6" x2="186.47" y2="476.2" stroke="#000" stroke-width="0.35" stroke-opacity="0.32"/>
<line x1="186.81" y1="470.6" x2="186.81" y2="476.2" stroke="#000" stroke-width="0.35" stroke-opacity="0.32"/>
<line x1="186.98" y1="470.6" x2="186.98" y2="476.2" stroke="#000" stroke-width="0.35" stroke-opacity="0.32"/>
<line x1="187.33" y1="470.6" x2="187.33" y2="476.2" stroke="#000" stroke-width="0.35" stroke-opacity="0.32"/>
<line x1="187.5" y1="470.6" x2="187.5" y2="476.2" stroke="#000" stroke-width="0.35" stroke-opacity="0.32"/>
<line x1="188.02" y1="470.6" x2="188.02" y2="476.2" stroke="#000" stroke-width="0.35" stroke-opacity="0.32"/>
<line x1="188.19" y1="470.6" x2="188.19" y2="476.2" stroke="#000" stroke-width="0.35" stroke-opacity="0.32"/>
<line x1="188.36" y1="470.6" x2="188.36" y2="476.2" stroke="#000" stroke-width="0.35" stroke-opacity="0.2"/>
<line x1="188.53" y1="470.6" x2="188.53" y2="476.2" stroke="#000" stroke-width="0.35" stroke-opacity="0.2"/>
<line x1="188.71" y1="470.6" x2="188.71" y2="476.2" stroke="#000" stroke-width="0.35" stroke-opacity="0.2"/>
<line x1="189.05" y1="470.6" x2="189.05" y2="476.2" stroke="#000" stroke-width="0.35" stroke-opacity="0.2"/>
<line x1="189.22" y1="470.6" x2="189.22" y2="476.2" stroke="#000" stroke-width="0.35" stroke-opacity="0.2"/>
<line x1="189.39" y1="470.6" x2="189.39" y2="476.2" stroke="#000" stroke-width="0.35" stroke-opacity="0.2"/>
<line x1="189.57" y1="470.6" x2="189.57" y2="476.2" stroke="#000" stroke-width="0.35" stroke-opacity="0.2"/>
<line x1="190.6" y1="470.6" x2="190.6" y2="476.2" stroke="#000" stroke-width="0.35" stroke-opacity="0.2"/>
<line x1="190.77" y1="470.6" x2="190.77" y2="476.2" stroke="#000" stroke-width="0.35" stroke-opacity="0.2"/>
<line x1="191.12" y1="470.6" x2="191.12" y2="476.2" stroke="#000" stroke-width="0.35" stroke-opacity="0.2"/>
<line x1="191.29" y1="470.6" x2="191.29" y2="476.2" stroke="#000" stroke-width="0.35" stroke-opacity="0.2"/>
<line x1="191.63" y1="470.6" x2="191.63" y2="476.2" stroke="#000" stroke-width="0.35" stroke-opacity="0.2"/>
<line x1="191.98" y1="470.6" x2="191.98" y2="476.2" stroke="#000" stroke-width="0.35" stroke-opacity="0.2"/>
<line x1="192.15" y1="470.6" x2="192.15" y2="476.2" stroke="#000" stroke-width="0.35" stroke-opacity="0.2"/>
<line x1="192.49" y1="470.6" x2="192.49" y2="476.2" stroke="#000" stroke-width="0.35" stroke-opacity="0.2"/>
<line x1="192.84" y1="470.6" x2="192.84" y2="476.2" stroke="#000" stroke-width="0.35" stroke-opacity="0.2"/>
<line x1="193.53" y1="470.6" x2="193.53" y2="476.2" stroke="#000" stroke-width="0.35" stroke-opacity="0.2"/>
<line x1="193.7" y1="470.6" x2="193.7" y2="476.2" stroke="#000" stroke-width="0.35" stroke-opacity="0.2"/>
<line x1="194.04" y1="470.6" x2="194.04" y2="476.2" stroke="#000" stroke-width="0.35" stroke-opacity="0.2"/>
<line x1="194.22" y1="470.6" x2="194.22" y2="476.2" stroke="#000" stroke-width="0.35" stroke-opacity="0.2"/>
<line x1="194.73" y1="470.6" x2="194.73" y2="476.2" stroke="#000" stroke-width="0.35" stroke-opacity="0.2"/>
<line x1="195.25" y1="470.6" x2="195.25" y2="476.2" stroke="#000" stroke-width="0.35" stroke-opacity="0.2"/>
<line x1="195.42" y1="470.6" x2="195.42" y2="476.2" stroke="#000" stroke-width="0.35" stroke-opacity="0.2"/>
<line x1="195.59" y1="470.6" x2="195.59" y2="476.2" stroke="#000" stroke-width="0.35" stroke-opacity="0.2"/>
<line x1="195.94" y1="470.6" x2="195.94" y2="476.2" stroke="#000" stroke-width="0.35" stroke-opacity="0.2"/>
<line x1="196.11" y1="470.6" x2="196.11" y2="476.2" stroke="#000" stroke-width="0.35" stroke-opacity="0.2"/>
<line x1="196.28" y1="470.6" x2="196.28" y2="476.2" stroke="#000" stroke-width="0.35" stroke-opacity="0.2"/>
<line x1="196.45" y1="470.6" x2="196.45" y2="476.2" stroke="#000" stroke-width="0.35" stroke-opacity="0.2"/>
<line x1="196.63" y1="470.6" x2="196.63" y2="476.2" stroke="#000" stroke-width="0.35" stroke-opacity="0.2"/>
<line x1="196.97" y1="470.6" x2="196.97" y2="476.2" stroke="#000" stroke-width="0.35" stroke-opacity="0.2"/>
<line x1="197.14" y1="470.6" x2="197.14" y2="476.2" stroke="#000" stroke-width="0.35" stroke-opacity="0.2"/>
<line x1="197.83" y1="470.6" x2="197.83" y2="476.2" stroke="#000" stroke-width="0.35" stroke-opacity="0.2"/>
<line x1="198" y1="470.6" x2="198" y2="476.2" stroke="#000" stroke-width="0.35" stroke-opacity="0.2"/>
<line x1="198.69" y1="470.6" x2="198.69" y2="476.2" stroke="#000" stroke-width="0.35" stroke-opacity="0.2"/>
<line x1="198.86" y1="470.6" x2="198.86" y2="476.2" stroke="#000" stroke-width="0.35" stroke-opacity="0.2"/>
<line x1="199.04" y1="470.6" x2="199.04" y2="476.2" stroke="#000" stroke-width="0.35" stroke-opacity="0.2"/>
<line x1="200.07" y1="470.6" x2="200.07" y2="476.2" stroke="#000" stroke-width="0.35" stroke-opacity="0.2"/>
<line x1="200.59" y1="470.6" x2="200.59" y2="476.2" stroke="#000" stroke-width="0.35" stroke-opacity="0.2"/>
<line x1="201.28" y1="470.6" x2="201.28" y2="476.2" stroke="#000" stroke-width="0.35" stroke-opacity="0.2"/>
<line x1="201.79" y1="470.6" x2="201.79" y2="476.2" stroke="#000" stroke-width="0.35" stroke-opacity="0.2"/>
<line x1="201.96" y1="470.6" x2="201.96" y2="476.2" stroke="#000" stroke-width="0.35" stroke-opacity="0.2"/>
<line x1="202.14" y1="470.6" x2="202.14" y2="476.2" stroke="#000" stroke-width="0.35" stroke-opacity="0.2"/>
<line x1="202.31" y1="470.6" x2="202.31" y2="476.2" stroke="#000" stroke-width="0.35" stroke-opacity="0.2"/>
<line x1="202.65" y1="470.6" x2="202.65" y2="476.2" stroke="#000" stroke-width="0.35" stroke-opacity="0.2"/>
<line x1="203" y1="470.6" x2="203" y2="476.2" stroke="#000" stroke-width="0.35" stroke-opacity="0.2"/>
<line x1="203.17" y1="470.6" x2="203.17" y2="476.2" stroke="#000" stroke-width="0.35" stroke-opacity="0.2"/>
<line x1="204.37" y1="470.6" x2="204.37" y2="476.2" stroke="#000" stroke-width="0.35" stroke-opacity="0.2"/>
<line x1="204.72" y1="470.6" x2="204.72" y2="476.2" stroke="#000" stroke-width="0.35" stroke-opacity="0.2"/>
<line x1="204.89" y1="470.6" x2="204.89" y2="476.2" stroke="#000" stroke-width="0.35" stroke-opacity="0.2"/>
<line x1="205.24" y1="470.6" x2="205.24" y2="476.2" stroke="#000" stroke-width="0.35" stroke-opacity="0.2"/>
<line x1="205.58" y1="470.6" x2="205.58" y2="476.2" stroke="#000" stroke-width="0.35" stroke-opacity="0.2"/>
<line x1="205.75" y1="470.6" x2="205.75" y2="476.2" stroke="#000" stroke-width="0.35" stroke-opacity="0.2"/>
<line x1="205.92" y1="470.6" x2="205.92" y2="476.2" stroke="#000" stroke-width="0.35" stroke-opacity="0.2"/>
<line x1="206.96" y1="470.6" x2="206.96" y2="476.2" stroke="#000" stroke-width="0.35" stroke-opacity="0.2"/>
<line x1="207.3" y1="470.6" x2="207.3" y2="476.2" stroke="#000" stroke-width="0.35" stroke-opacity="0.2"/>
<line x1="207.47" y1="470.6" x2="207.47" y2="476.2" stroke="#000" stroke-width="0.35" stroke-opacity="0.2"/>
<line x1="207.99" y1="470.6" x2="207.99" y2="476.2" stroke="#000" stroke-width="0.35" stroke-opacity="0.2"/>
<line x1="208.33" y1="470.6" x2="208.33" y2="476.2" stroke="#000" stroke-width="0.35" stroke-opacity="0.2"/>
<line x1="210.06" y1="470.6" x2="210.06" y2="476.2" stroke="#000" stroke-width="0.35" stroke-opacity="0.16"/>
<line x1="210.75" y1="470.6" x2="210.75" y2="476.2" stroke="#000" stroke-width="0.35" stroke-opacity="0.16"/>
<line x1="211.61" y1="470.6" x2="211.61" y2="476.2" stroke="#000" stroke-width="0.35" stroke-opacity="0.16"/>
<line x1="212.81" y1="470.6" x2="212.81" y2="476.2" stroke="#000" stroke-width="0.35" stroke-opacity="0.16"/>
<line x1="214.02" y1="470.6" x2="214.02" y2="476.2" stroke="#000" stroke-width="0.35" stroke-opacity="0.16"/>
<line x1="214.19" y1="470.6" x2="214.19" y2="476.2" stroke="#000" stroke-width="0.35" stroke-opacity="0.16"/>
<line x1="214.71" y1="470.6" x2="214.71" y2="476.2" stroke="#000" stroke-width="0.35" stroke-opacity="0.16"/>
<line x1="214.88" y1="470.6" x2="214.88" y2="476.2" stroke="#000" stroke-width="0.35" stroke-opacity="0.16"/>
<line x1="215.05" y1="470.6" x2="215.05" y2="476.2" stroke="#000" stroke-width="0.35" stroke-opacity="0.16"/>
<line x1="215.22" y1="470.6" x2="215.22" y2="476.2" stroke="#000" stroke-width="0.35" stroke-opacity="0.16"/>
<line x1="215.39" y1="470.6" x2="215.39" y2="476.2" stroke="#000" stroke-width="0.35" stroke-opacity="0.16"/>
<line x1="217.12" y1="470.6" x2="217.12" y2="476.2" stroke="#000" stroke-width="0.35" stroke-opacity="0.16"/>
<line x1="217.98" y1="470.6" x2="217.98" y2="476.2" stroke="#000" stroke-width="0.35" stroke-opacity="0.16"/>
<line x1="218.15" y1="470.6" x2="218.15" y2="476.2" stroke="#000" stroke-width="0.35" stroke-opacity="0.16"/>
<line x1="218.67" y1="470.6" x2="218.67" y2="476.2" stroke="#000" stroke-width="0.35" stroke-opacity="0.16"/>
<line x1="218.84" y1="470.6" x2="218.84" y2="476.2" stroke="#000" stroke-width="0.35" stroke-opacity="0.16"/>
<line x1="219.18" y1="470.6" x2="219.18" y2="476.2" stroke="#000" stroke-width="0.35" stroke-opacity="0.16"/>
<line x1="219.53" y1="470.6" x2="219.53" y2="476.2" stroke="#000" stroke-width="0.35" stroke-opacity="0.16"/>
<line x1="219.7" y1="470.6" x2="219.7" y2="476.2" stroke="#000" stroke-width="0.35" stroke-opacity="0.16"/>
<line x1="220.9" y1="470.6" x2="220.9" y2="476.2" stroke="#000" stroke-width="0.35" stroke-opacity="0.16"/>
<line x1="221.42" y1="470.6" x2="221.42" y2="476.2" stroke="#000" stroke-width="0.35" stroke-opacity="0.16"/>
<line x1="222.11" y1="470.6" x2="222.11" y2="476.2" stroke="#000" stroke-width="0.35" stroke-opacity="0.16"/>
<line x1="222.28" y1="470.6" x2="222.28" y2="476.2" stroke="#000" stroke-width="0.35" stroke-opacity="0.16"/>
<line x1="223.14" y1="470.6" x2="223.14" y2="476.2" stroke="#000" stroke-width="0.35" stroke-opacity="0.16"/>
<line x1="223.83" y1="470.6" x2="223.83" y2="476.2" stroke="#000" stroke-width="0.35" stroke-opacity="0.16"/>
<line x1="224.18" y1="470.6" x2="224.18" y2="476.2" stroke="#000" stroke-width="0.35" stroke-opacity="0.16"/>
<line x1="224.52" y1="470.6" x2="224.52" y2="476.2" stroke="#000" stroke-width="0.35" stroke-opacity="0.16"/>
<line x1="225.21" y1="470.6" x2="225.21" y2="476.2" stroke="#000" stroke-width="0.35" stroke-opacity="0.16"/>
<line x1="225.38" y1="470.6" x2="225.38" y2="476.2" stroke="#000" stroke-width="0.35" stroke-opacity="0.16"/>
<line x1="226.07" y1="470.6" x2="226.07" y2="476.2" stroke="#000" stroke-width="0.35" stroke-opacity="0.16"/>
<line x1="226.76" y1="470.6" x2="226.76" y2="476.2" stroke="#000" stroke-width="0.35" stroke-opacity="0.16"/>
<line x1="226.93" y1="470.6" x2="226.93" y2="476.2" stroke="#000" stroke-width="0.35" stroke-opacity="0.16"/>
<line x1="227.27" y1="470.6" x2="227.27" y2="476.2" stroke="#000" stroke-width="0.35" stroke-opacity="0.16"/>
<line x1="228.65" y1="470.6" x2="228.65" y2="476.2" stroke="#000" stroke-width="0.35" stroke-opacity="0.16"/>
<line x1="228.82" y1="470.6" x2="228.82" y2="476.2" stroke="#000" stroke-width="0.35" stroke-opacity="0.16"/>
<line x1="229.17" y1="470.6" x2="229.17" y2="476.2" stroke="#000" stroke-width="0.35" stroke-opacity="0.16"/>
<line x1="229.34" y1="470.6" x2="229.34" y2="476.2" stroke="#000" stroke-width="0.35" stroke-opacity="0.16"/>
<line x1="229.68" y1="470.6" x2="229.68" y2="476.2" stroke="#000" stroke-width="0.35" stroke-opacity="0.16"/>
<line x1="230.2" y1="470.6" x2="230.2" y2="476.2" stroke="#000" stroke-width="0.35" stroke-opacity="0.16"/>
<line x1="230.72" y1="470.6" x2="230.72" y2="476.2" stroke="#000" stroke-width="0.35" stroke-opacity="0.16"/>
<line x1="230.89" y1="470.6" x2="230.89" y2="476.2" stroke="#000" stroke-width="0.35" stroke-opacity="0.16"/>
<line x1="231.06" y1="470.6" x2="231.06" y2="476.2" stroke="#000" stroke-width="0.35" stroke-opacity="0.16"/>
<line x1="231.92" y1="470.6" x2="231.92" y2="476.2" stroke="#000" stroke-width="0.35" stroke-opacity="0.16"/>
<line x1="232.44" y1="470.6" x2="232.44" y2="476.2" stroke="#000" stroke-width="0.35" stroke-opacity="0.16"/>
<line x1="232.61" y1="470.6" x2="232.61" y2="476.2" stroke="#000" stroke-width="0.35" stroke-opacity="0.16"/>
<line x1="232.78" y1="470.6" x2="232.78" y2="476.2" stroke="#000" stroke-width="0.35" stroke-opacity="0.16"/>
<line x1="233.13" y1="470.6" x2="233.13" y2="476.2" stroke="#000" stroke-width="0.35" stroke-opacity="0.16"/>
<line x1="233.3" y1="470.6" x2="233.3" y2="476.2" stroke="#000" stroke-width="0.35" stroke-opacity="0.16"/>
<line x1="233.47" y1="470.6" x2="233.47" y2="476.2" stroke="#000" stroke-width="0.35" stroke-opacity="0.16"/>
<line x1="233.99" y1="470.6" x2="233.99" y2="476.2" stroke="#000" stroke-width="0.35" stroke-opacity="0.16"/>
<line x1="234.33" y1="470.6" x2="234.33" y2="476.2" stroke="#000" stroke-width="0.35" stroke-opacity="0.16"/>
<line x1="234.85" y1="470.6" x2="234.85" y2="476.2" stroke="#000" stroke-width="0.35" stroke-opacity="0.16"/>
<line x1="236.06" y1="470.6" x2="236.06" y2="476.2" stroke="#000" stroke-width="0.35" stroke-opacity="0.16"/>
<rect x="167.7" y="476.2" width="70.7" height="2.2" fill="url(#cb)"/>
<line x1="164.5" y1="425.6" x2="164.5" y2="478.9" stroke="#231f20" stroke-width="1.1"/>
<line x1="164.5" y1="478.9" x2="240.4" y2="478.9" stroke="#231f20" stroke-width="1.1"/>
<line x1="167.7" y1="478.9" x2="167.7" y2="481.1" stroke="#231f20" stroke-width="0.6"/>
<text x="167.7" y="488.9" font-size="5.2" fill="#231f20" stroke="#231f20" stroke-width="0.05" text-anchor="middle">0</text>
<line x1="185.2" y1="478.9" x2="185.2" y2="481.1" stroke="#231f20" stroke-width="0.6"/>
<text x="185.2" y="488.9" font-size="5.2" fill="#231f20" stroke="#231f20" stroke-width="0.05" text-anchor="middle">5000</text>
<line x1="202.2" y1="478.9" x2="202.2" y2="481.1" stroke="#231f20" stroke-width="0.6"/>
<text x="202.2" y="488.9" font-size="5.2" fill="#231f20" stroke="#231f20" stroke-width="0.05" text-anchor="middle">10000</text>
<line x1="218.9" y1="478.9" x2="218.9" y2="481.1" stroke="#231f20" stroke-width="0.6"/>
<text x="218.9" y="488.9" font-size="5.2" fill="#231f20" stroke="#231f20" stroke-width="0.05" text-anchor="middle">15000</text>
<line x1="236.4" y1="478.9" x2="236.4" y2="481.1" stroke="#231f20" stroke-width="0.6"/>
<text x="236.4" y="488.9" font-size="5.2" fill="#231f20" stroke="#231f20" stroke-width="0.05" text-anchor="middle">20000</text>
<line x1="161.3" y1="441.1" x2="164.5" y2="441.1" stroke="#231f20" stroke-width="0.8"/>
<text x="158" y="443" font-size="5.3" fill="#231f20" stroke="#231f20" stroke-width="0.05" text-anchor="end" textLength="6.81" lengthAdjust="spacingAndGlyphs">0.4</text>
<line x1="161.3" y1="455.6" x2="164.5" y2="455.6" stroke="#231f20" stroke-width="0.8"/>
<text x="158" y="457.5" font-size="5.3" fill="#231f20" stroke="#231f20" stroke-width="0.05" text-anchor="end" textLength="6.81" lengthAdjust="spacingAndGlyphs">0.2</text>
<line x1="161.3" y1="470" x2="164.5" y2="470" stroke="#231f20" stroke-width="0.8"/>
<text x="158" y="471.9" font-size="5.3" fill="#231f20" stroke="#231f20" stroke-width="0.05" text-anchor="end" textLength="6.81" lengthAdjust="spacingAndGlyphs">0.0</text>
<path d="M167.8,470 L168.8,463 L169.8,456 L171.4,447.8 L173.4,446.2 L175.5,440.4 L178,435.5 L180.4,432.3 L182.9,431.8 L187,431.1 L190.2,432.3 L194.3,434.7 L200.9,441.2 L209,449.4 L217.2,457.6 L225.4,464.1 L230.3,468.2 L234.4,470.3 L237.6,470.7 L239.3,469.9" stroke="#6ab84a" stroke-width="0.8" fill="none"/>
<text x="167.2" y="417.8" font-size="5.3" fill="#231f20" stroke="#231f20" stroke-width="0.05" textLength="70.5" lengthAdjust="spacingAndGlyphs">WHITFIELD_CELL_CYCLE_G1_S</text>
<text x="175.2" y="424" font-size="5.3" fill="#231f20" stroke="#231f20" stroke-width="0.05" textLength="55" lengthAdjust="spacingAndGlyphs">NES=2.12, padj=4.7e-04</text>
<line x1="167.5" y1="517.2" x2="244.4" y2="517.2" stroke="#a0a0a0" stroke-width="0.8"/>
<line x1="171.54" y1="556.5" x2="171.54" y2="561.4" stroke="#000" stroke-width="0.35" stroke-opacity="0.16"/>
<line x1="172.05" y1="556.5" x2="172.05" y2="561.4" stroke="#000" stroke-width="0.35" stroke-opacity="0.16"/>
<line x1="173.07" y1="556.5" x2="173.07" y2="561.4" stroke="#000" stroke-width="0.35" stroke-opacity="0.16"/>
<line x1="173.92" y1="556.5" x2="173.92" y2="561.4" stroke="#000" stroke-width="0.35" stroke-opacity="0.16"/>
<line x1="175.62" y1="556.5" x2="175.62" y2="561.4" stroke="#000" stroke-width="0.35" stroke-opacity="0.16"/>
<line x1="175.79" y1="556.5" x2="175.79" y2="561.4" stroke="#000" stroke-width="0.35" stroke-opacity="0.16"/>
<line x1="177.49" y1="556.5" x2="177.49" y2="561.4" stroke="#000" stroke-width="0.35" stroke-opacity="0.16"/>
<line x1="177.66" y1="556.5" x2="177.66" y2="561.4" stroke="#000" stroke-width="0.35" stroke-opacity="0.16"/>
<line x1="178.68" y1="556.5" x2="178.68" y2="561.4" stroke="#000" stroke-width="0.35" stroke-opacity="0.16"/>
<line x1="179.36" y1="556.5" x2="179.36" y2="561.4" stroke="#000" stroke-width="0.35" stroke-opacity="0.28"/>
<line x1="179.7" y1="556.5" x2="179.7" y2="561.4" stroke="#000" stroke-width="0.35" stroke-opacity="0.28"/>
<line x1="180.04" y1="556.5" x2="180.04" y2="561.4" stroke="#000" stroke-width="0.35" stroke-opacity="0.28"/>
<line x1="180.21" y1="556.5" x2="180.21" y2="561.4" stroke="#000" stroke-width="0.35" stroke-opacity="0.28"/>
<line x1="180.38" y1="556.5" x2="180.38" y2="561.4" stroke="#000" stroke-width="0.35" stroke-opacity="0.28"/>
<line x1="180.55" y1="556.5" x2="180.55" y2="561.4" stroke="#000" stroke-width="0.35" stroke-opacity="0.28"/>
<line x1="180.89" y1="556.5" x2="180.89" y2="561.4" stroke="#000" stroke-width="0.35" stroke-opacity="0.28"/>
<line x1="181.06" y1="556.5" x2="181.06" y2="561.4" stroke="#000" stroke-width="0.35" stroke-opacity="0.28"/>
<line x1="181.23" y1="556.5" x2="181.23" y2="561.4" stroke="#000" stroke-width="0.35" stroke-opacity="0.28"/>
<line x1="181.4" y1="556.5" x2="181.4" y2="561.4" stroke="#000" stroke-width="0.35" stroke-opacity="0.28"/>
<line x1="181.57" y1="556.5" x2="181.57" y2="561.4" stroke="#000" stroke-width="0.35" stroke-opacity="0.28"/>
<line x1="181.74" y1="556.5" x2="181.74" y2="561.4" stroke="#000" stroke-width="0.35" stroke-opacity="0.28"/>
<line x1="181.91" y1="556.5" x2="181.91" y2="561.4" stroke="#000" stroke-width="0.35" stroke-opacity="0.28"/>
<line x1="182.08" y1="556.5" x2="182.08" y2="561.4" stroke="#000" stroke-width="0.35" stroke-opacity="0.28"/>
<line x1="182.58" y1="556.5" x2="182.58" y2="561.4" stroke="#000" stroke-width="0.35" stroke-opacity="0.28"/>
<line x1="182.75" y1="556.5" x2="182.75" y2="561.4" stroke="#000" stroke-width="0.35" stroke-opacity="0.28"/>
<line x1="182.92" y1="556.5" x2="182.92" y2="561.4" stroke="#000" stroke-width="0.35" stroke-opacity="0.28"/>
<line x1="183.09" y1="556.5" x2="183.09" y2="561.4" stroke="#000" stroke-width="0.35" stroke-opacity="0.28"/>
<line x1="183.26" y1="556.5" x2="183.26" y2="561.4" stroke="#000" stroke-width="0.35" stroke-opacity="0.28"/>
<line x1="183.6" y1="556.5" x2="183.6" y2="561.4" stroke="#000" stroke-width="0.35" stroke-opacity="0.28"/>
<line x1="183.94" y1="556.5" x2="183.94" y2="561.4" stroke="#000" stroke-width="0.35" stroke-opacity="0.28"/>
<line x1="184.11" y1="556.5" x2="184.11" y2="561.4" stroke="#000" stroke-width="0.35" stroke-opacity="0.28"/>
<line x1="184.28" y1="556.5" x2="184.28" y2="561.4" stroke="#000" stroke-width="0.35" stroke-opacity="0.28"/>
<line x1="184.62" y1="556.5" x2="184.62" y2="561.4" stroke="#000" stroke-width="0.35" stroke-opacity="0.28"/>
<line x1="184.96" y1="556.5" x2="184.96" y2="561.4" stroke="#000" stroke-width="0.35" stroke-opacity="0.28"/>
<line x1="185.13" y1="556.5" x2="185.13" y2="561.4" stroke="#000" stroke-width="0.35" stroke-opacity="0.28"/>
<line x1="185.3" y1="556.5" x2="185.3" y2="561.4" stroke="#000" stroke-width="0.35" stroke-opacity="0.28"/>
<line x1="186.15" y1="556.5" x2="186.15" y2="561.4" stroke="#000" stroke-width="0.35" stroke-opacity="0.28"/>
<line x1="186.66" y1="556.5" x2="186.66" y2="561.4" stroke="#000" stroke-width="0.35" stroke-opacity="0.28"/>
<line x1="186.83" y1="556.5" x2="186.83" y2="561.4" stroke="#000" stroke-width="0.35" stroke-opacity="0.28"/>
<line x1="187.17" y1="556.5" x2="187.17" y2="561.4" stroke="#000" stroke-width="0.35" stroke-opacity="0.28"/>
<line x1="187.51" y1="556.5" x2="187.51" y2="561.4" stroke="#000" stroke-width="0.35" stroke-opacity="0.28"/>
<line x1="187.85" y1="556.5" x2="187.85" y2="561.4" stroke="#000" stroke-width="0.35" stroke-opacity="0.28"/>
<line x1="188.02" y1="556.5" x2="188.02" y2="561.4" stroke="#000" stroke-width="0.35" stroke-opacity="0.28"/>
<line x1="188.19" y1="556.5" x2="188.19" y2="561.4" stroke="#000" stroke-width="0.35" stroke-opacity="0.28"/>
<line x1="188.7" y1="556.5" x2="188.7" y2="561.4" stroke="#000" stroke-width="0.35" stroke-opacity="0.28"/>
<line x1="189.04" y1="556.5" x2="189.04" y2="561.4" stroke="#000" stroke-width="0.35" stroke-opacity="0.28"/>
<line x1="189.38" y1="556.5" x2="189.38" y2="561.4" stroke="#000" stroke-width="0.35" stroke-opacity="0.28"/>
<line x1="189.55" y1="556.5" x2="189.55" y2="561.4" stroke="#000" stroke-width="0.35" stroke-opacity="0.28"/>
<line x1="189.89" y1="556.5" x2="189.89" y2="561.4" stroke="#000" stroke-width="0.35" stroke-opacity="0.28"/>
<line x1="190.06" y1="556.5" x2="190.06" y2="561.4" stroke="#000" stroke-width="0.35" stroke-opacity="0.28"/>
<line x1="190.23" y1="556.5" x2="190.23" y2="561.4" stroke="#000" stroke-width="0.35" stroke-opacity="0.28"/>
<line x1="190.57" y1="556.5" x2="190.57" y2="561.4" stroke="#000" stroke-width="0.35" stroke-opacity="0.28"/>
<line x1="190.91" y1="556.5" x2="190.91" y2="561.4" stroke="#000" stroke-width="0.35" stroke-opacity="0.28"/>
<line x1="191.59" y1="556.5" x2="191.59" y2="561.4" stroke="#000" stroke-width="0.35" stroke-opacity="0.28"/>
<line x1="191.76" y1="556.5" x2="191.76" y2="561.4" stroke="#000" stroke-width="0.35" stroke-opacity="0.28"/>
<line x1="192.44" y1="556.5" x2="192.44" y2="561.4" stroke="#000" stroke-width="0.35" stroke-opacity="0.28"/>
<line x1="192.61" y1="556.5" x2="192.61" y2="561.4" stroke="#000" stroke-width="0.35" stroke-opacity="0.28"/>
<line x1="193.12" y1="556.5" x2="193.12" y2="561.4" stroke="#000" stroke-width="0.35" stroke-opacity="0.28"/>
<line x1="193.46" y1="556.5" x2="193.46" y2="561.4" stroke="#000" stroke-width="0.35" stroke-opacity="0.28"/>
<line x1="193.63" y1="556.5" x2="193.63" y2="561.4" stroke="#000" stroke-width="0.35" stroke-opacity="0.28"/>
<line x1="194.14" y1="556.5" x2="194.14" y2="561.4" stroke="#000" stroke-width="0.35" stroke-opacity="0.28"/>
<line x1="194.31" y1="556.5" x2="194.31" y2="561.4" stroke="#000" stroke-width="0.35" stroke-opacity="0.28"/>
<line x1="194.82" y1="556.5" x2="194.82" y2="561.4" stroke="#000" stroke-width="0.35" stroke-opacity="0.28"/>
<line x1="194.99" y1="556.5" x2="194.99" y2="561.4" stroke="#000" stroke-width="0.35" stroke-opacity="0.28"/>
<line x1="195.16" y1="556.5" x2="195.16" y2="561.4" stroke="#000" stroke-width="0.35" stroke-opacity="0.28"/>
<line x1="195.5" y1="556.5" x2="195.5" y2="561.4" stroke="#000" stroke-width="0.35" stroke-opacity="0.28"/>
<line x1="195.67" y1="556.5" x2="195.67" y2="561.4" stroke="#000" stroke-width="0.35" stroke-opacity="0.28"/>
<line x1="196.18" y1="556.5" x2="196.18" y2="561.4" stroke="#000" stroke-width="0.35" stroke-opacity="0.28"/>
<line x1="196.52" y1="556.5" x2="196.52" y2="561.4" stroke="#000" stroke-width="0.35" stroke-opacity="0.28"/>
<line x1="196.69" y1="556.5" x2="196.69" y2="561.4" stroke="#000" stroke-width="0.35" stroke-opacity="0.28"/>
<line x1="197.03" y1="556.5" x2="197.03" y2="561.4" stroke="#000" stroke-width="0.35" stroke-opacity="0.28"/>
<line x1="197.2" y1="556.5" x2="197.2" y2="561.4" stroke="#000" stroke-width="0.35" stroke-opacity="0.28"/>
<line x1="197.37" y1="556.5" x2="197.37" y2="561.4" stroke="#000" stroke-width="0.35" stroke-opacity="0.28"/>
<line x1="197.54" y1="556.5" x2="197.54" y2="561.4" stroke="#000" stroke-width="0.35" stroke-opacity="0.28"/>
<line x1="197.88" y1="556.5" x2="197.88" y2="561.4" stroke="#000" stroke-width="0.35" stroke-opacity="0.28"/>
<line x1="198.22" y1="556.5" x2="198.22" y2="561.4" stroke="#000" stroke-width="0.35" stroke-opacity="0.28"/>
<line x1="198.56" y1="556.5" x2="198.56" y2="561.4" stroke="#000" stroke-width="0.35" stroke-opacity="0.36"/>
<line x1="198.73" y1="556.5" x2="198.73" y2="561.4" stroke="#000" stroke-width="0.35" stroke-opacity="0.36"/>
<line x1="198.9" y1="556.5" x2="198.9" y2="561.4" stroke="#000" stroke-width="0.35" stroke-opacity="0.36"/>
<line x1="199.07" y1="556.5" x2="199.07" y2="561.4" stroke="#000" stroke-width="0.35" stroke-opacity="0.36"/>
<line x1="199.24" y1="556.5" x2="199.24" y2="561.4" stroke="#000" stroke-width="0.35" stroke-opacity="0.36"/>
<line x1="199.58" y1="556.5" x2="199.58" y2="561.4" stroke="#000" stroke-width="0.35" stroke-opacity="0.36"/>
<line x1="199.75" y1="556.5" x2="199.75" y2="561.4" stroke="#000" stroke-width="0.35" stroke-opacity="0.36"/>
<line x1="199.92" y1="556.5" x2="199.92" y2="561.4" stroke="#000" stroke-width="0.35" stroke-opacity="0.36"/>
<line x1="200.09" y1="556.5" x2="200.09" y2="561.4" stroke="#000" stroke-width="0.35" stroke-opacity="0.36"/>
<line x1="200.26" y1="556.5" x2="200.26" y2="561.4" stroke="#000" stroke-width="0.35" stroke-opacity="0.36"/>
<line x1="200.43" y1="556.5" x2="200.43" y2="561.4" stroke="#000" stroke-width="0.35" stroke-opacity="0.36"/>
<line x1="200.6" y1="556.5" x2="200.6" y2="561.4" stroke="#000" stroke-width="0.35" stroke-opacity="0.36"/>
<line x1="200.77" y1="556.5" x2="200.77" y2="561.4" stroke="#000" stroke-width="0.35" stroke-opacity="0.36"/>
<line x1="200.94" y1="556.5" x2="200.94" y2="561.4" stroke="#000" stroke-width="0.35" stroke-opacity="0.36"/>
<line x1="201.11" y1="556.5" x2="201.11" y2="561.4" stroke="#000" stroke-width="0.35" stroke-opacity="0.36"/>
<line x1="201.28" y1="556.5" x2="201.28" y2="561.4" stroke="#000" stroke-width="0.35" stroke-opacity="0.36"/>
<line x1="201.45" y1="556.5" x2="201.45" y2="561.4" stroke="#000" stroke-width="0.35" stroke-opacity="0.36"/>
<line x1="201.62" y1="556.5" x2="201.62" y2="561.4" stroke="#000" stroke-width="0.35" stroke-opacity="0.36"/>
<line x1="201.79" y1="556.5" x2="201.79" y2="561.4" stroke="#000" stroke-width="0.35" stroke-opacity="0.36"/>
<line x1="201.96" y1="556.5" x2="201.96" y2="561.4" stroke="#000" stroke-width="0.35" stroke-opacity="0.36"/>
<line x1="202.3" y1="556.5" x2="202.3" y2="561.4" stroke="#000" stroke-width="0.35" stroke-opacity="0.36"/>
<line x1="202.47" y1="556.5" x2="202.47" y2="561.4" stroke="#000" stroke-width="0.35" stroke-opacity="0.36"/>
<line x1="202.64" y1="556.5" x2="202.64" y2="561.4" stroke="#000" stroke-width="0.35" stroke-opacity="0.36"/>
<line x1="202.81" y1="556.5" x2="202.81" y2="561.4" stroke="#000" stroke-width="0.35" stroke-opacity="0.36"/>
<line x1="202.98" y1="556.5" x2="202.98" y2="561.4" stroke="#000" stroke-width="0.35" stroke-opacity="0.36"/>
<line x1="203.15" y1="556.5" x2="203.15" y2="561.4" stroke="#000" stroke-width="0.35" stroke-opacity="0.36"/>
<line x1="203.32" y1="556.5" x2="203.32" y2="561.4" stroke="#000" stroke-width="0.35" stroke-opacity="0.36"/>
<line x1="203.66" y1="556.5" x2="203.66" y2="561.4" stroke="#000" stroke-width="0.35" stroke-opacity="0.36"/>
<line x1="203.83" y1="556.5" x2="203.83" y2="561.4" stroke="#000" stroke-width="0.35" stroke-opacity="0.36"/>
<line x1="204.17" y1="556.5" x2="204.17" y2="561.4" stroke="#000" stroke-width="0.35" stroke-opacity="0.36"/>
<line x1="204.34" y1="556.5" x2="204.34" y2="561.4" stroke="#000" stroke-width="0.35" stroke-opacity="0.36"/>
<line x1="204.51" y1="556.5" x2="204.51" y2="561.4" stroke="#000" stroke-width="0.35" stroke-opacity="0.36"/>
<line x1="204.68" y1="556.5" x2="204.68" y2="561.4" stroke="#000" stroke-width="0.35" stroke-opacity="0.36"/>
<line x1="205.02" y1="556.5" x2="205.02" y2="561.4" stroke="#000" stroke-width="0.35" stroke-opacity="0.36"/>
<line x1="205.18" y1="556.5" x2="205.18" y2="561.4" stroke="#000" stroke-width="0.35" stroke-opacity="0.36"/>
<line x1="205.52" y1="556.5" x2="205.52" y2="561.4" stroke="#000" stroke-width="0.35" stroke-opacity="0.36"/>
<line x1="205.69" y1="556.5" x2="205.69" y2="561.4" stroke="#000" stroke-width="0.35" stroke-opacity="0.36"/>
<line x1="205.86" y1="556.5" x2="205.86" y2="561.4" stroke="#000" stroke-width="0.35" stroke-opacity="0.36"/>
<line x1="206.03" y1="556.5" x2="206.03" y2="561.4" stroke="#000" stroke-width="0.35" stroke-opacity="0.36"/>
<line x1="206.37" y1="556.5" x2="206.37" y2="561.4" stroke="#000" stroke-width="0.35" stroke-opacity="0.36"/>
<line x1="206.54" y1="556.5" x2="206.54" y2="561.4" stroke="#000" stroke-width="0.35" stroke-opacity="0.36"/>
<line x1="206.71" y1="556.5" x2="206.71" y2="561.4" stroke="#000" stroke-width="0.35" stroke-opacity="0.36"/>
<line x1="206.88" y1="556.5" x2="206.88" y2="561.4" stroke="#000" stroke-width="0.35" stroke-opacity="0.36"/>
<line x1="207.05" y1="556.5" x2="207.05" y2="561.4" stroke="#000" stroke-width="0.35" stroke-opacity="0.36"/>
<line x1="207.56" y1="556.5" x2="207.56" y2="561.4" stroke="#000" stroke-width="0.35" stroke-opacity="0.36"/>
<line x1="207.73" y1="556.5" x2="207.73" y2="561.4" stroke="#000" stroke-width="0.35" stroke-opacity="0.36"/>
<line x1="207.9" y1="556.5" x2="207.9" y2="561.4" stroke="#000" stroke-width="0.35" stroke-opacity="0.36"/>
<line x1="208.07" y1="556.5" x2="208.07" y2="561.4" stroke="#000" stroke-width="0.35" stroke-opacity="0.36"/>
<line x1="208.24" y1="556.5" x2="208.24" y2="561.4" stroke="#000" stroke-width="0.35" stroke-opacity="0.36"/>
<line x1="208.41" y1="556.5" x2="208.41" y2="561.4" stroke="#000" stroke-width="0.35" stroke-opacity="0.36"/>
<line x1="208.58" y1="556.5" x2="208.58" y2="561.4" stroke="#000" stroke-width="0.35" stroke-opacity="0.36"/>
<line x1="208.75" y1="556.5" x2="208.75" y2="561.4" stroke="#000" stroke-width="0.35" stroke-opacity="0.36"/>
<line x1="208.92" y1="556.5" x2="208.92" y2="561.4" stroke="#000" stroke-width="0.35" stroke-opacity="0.36"/>
<line x1="209.26" y1="556.5" x2="209.26" y2="561.4" stroke="#000" stroke-width="0.35" stroke-opacity="0.36"/>
<line x1="209.6" y1="556.5" x2="209.6" y2="561.4" stroke="#000" stroke-width="0.35" stroke-opacity="0.36"/>
<line x1="209.77" y1="556.5" x2="209.77" y2="561.4" stroke="#000" stroke-width="0.35" stroke-opacity="0.36"/>
<line x1="209.94" y1="556.5" x2="209.94" y2="561.4" stroke="#000" stroke-width="0.35" stroke-opacity="0.36"/>
<line x1="210.11" y1="556.5" x2="210.11" y2="561.4" stroke="#000" stroke-width="0.35" stroke-opacity="0.36"/>
<line x1="210.45" y1="556.5" x2="210.45" y2="561.4" stroke="#000" stroke-width="0.35" stroke-opacity="0.36"/>
<line x1="210.62" y1="556.5" x2="210.62" y2="561.4" stroke="#000" stroke-width="0.35" stroke-opacity="0.36"/>
<line x1="210.79" y1="556.5" x2="210.79" y2="561.4" stroke="#000" stroke-width="0.35" stroke-opacity="0.36"/>
<line x1="210.96" y1="556.5" x2="210.96" y2="561.4" stroke="#000" stroke-width="0.35" stroke-opacity="0.36"/>
<line x1="211.13" y1="556.5" x2="211.13" y2="561.4" stroke="#000" stroke-width="0.35" stroke-opacity="0.36"/>
<line x1="211.47" y1="556.5" x2="211.47" y2="561.4" stroke="#000" stroke-width="0.35" stroke-opacity="0.36"/>
<line x1="211.64" y1="556.5" x2="211.64" y2="561.4" stroke="#000" stroke-width="0.35" stroke-opacity="0.36"/>
<line x1="211.81" y1="556.5" x2="211.81" y2="561.4" stroke="#000" stroke-width="0.35" stroke-opacity="0.36"/>
<line x1="212.15" y1="556.5" x2="212.15" y2="561.4" stroke="#000" stroke-width="0.35" stroke-opacity="0.36"/>
<line x1="212.32" y1="556.5" x2="212.32" y2="561.4" stroke="#000" stroke-width="0.35" stroke-opacity="0.36"/>
<line x1="212.49" y1="556.5" x2="212.49" y2="561.4" stroke="#000" stroke-width="0.35" stroke-opacity="0.36"/>
<line x1="212.66" y1="556.5" x2="212.66" y2="561.4" stroke="#000" stroke-width="0.35" stroke-opacity="0.36"/>
<line x1="212.83" y1="556.5" x2="212.83" y2="561.4" stroke="#000" stroke-width="0.35" stroke-opacity="0.36"/>
<line x1="213" y1="556.5" x2="213" y2="561.4" stroke="#000" stroke-width="0.35" stroke-opacity="0.36"/>
<line x1="213.17" y1="556.5" x2="213.17" y2="561.4" stroke="#000" stroke-width="0.35" stroke-opacity="0.36"/>
<line x1="213.34" y1="556.5" x2="213.34" y2="561.4" stroke="#000" stroke-width="0.35" stroke-opacity="0.36"/>
<line x1="213.51" y1="556.5" x2="213.51" y2="561.4" stroke="#000" stroke-width="0.35" stroke-opacity="0.36"/>
<line x1="213.68" y1="556.5" x2="213.68" y2="561.4" stroke="#000" stroke-width="0.35" stroke-opacity="0.36"/>
<line x1="213.85" y1="556.5" x2="213.85" y2="561.4" stroke="#000" stroke-width="0.35" stroke-opacity="0.36"/>
<line x1="214.02" y1="556.5" x2="214.02" y2="561.4" stroke="#000" stroke-width="0.35" stroke-opacity="0.36"/>
<line x1="214.19" y1="556.5" x2="214.19" y2="561.4" stroke="#000" stroke-width="0.35" stroke-opacity="0.36"/>
<line x1="214.36" y1="556.5" x2="214.36" y2="561.4" stroke="#000" stroke-width="0.35" stroke-opacity="0.36"/>
<line x1="214.53" y1="556.5" x2="214.53" y2="561.4" stroke="#000" stroke-width="0.35" stroke-opacity="0.36"/>
<line x1="214.87" y1="556.5" x2="214.87" y2="561.4" stroke="#000" stroke-width="0.35" stroke-opacity="0.36"/>
<line x1="215.04" y1="556.5" x2="215.04" y2="561.4" stroke="#000" stroke-width="0.35" stroke-opacity="0.36"/>
<line x1="215.21" y1="556.5" x2="215.21" y2="561.4" stroke="#000" stroke-width="0.35" stroke-opacity="0.36"/>
<line x1="215.38" y1="556.5" x2="215.38" y2="561.4" stroke="#000" stroke-width="0.35" stroke-opacity="0.36"/>
<line x1="215.55" y1="556.5" x2="215.55" y2="561.4" stroke="#000" stroke-width="0.35" stroke-opacity="0.36"/>
<line x1="215.72" y1="556.5" x2="215.72" y2="561.4" stroke="#000" stroke-width="0.35" stroke-opacity="0.36"/>
<line x1="215.89" y1="556.5" x2="215.89" y2="561.4" stroke="#000" stroke-width="0.35" stroke-opacity="0.36"/>
<line x1="216.06" y1="556.5" x2="216.06" y2="561.4" stroke="#000" stroke-width="0.35" stroke-opacity="0.36"/>
<line x1="216.23" y1="556.5" x2="216.23" y2="561.4" stroke="#000" stroke-width="0.35" stroke-opacity="0.36"/>
<line x1="216.4" y1="556.5" x2="216.4" y2="561.4" stroke="#000" stroke-width="0.35" stroke-opacity="0.36"/>
<line x1="216.57" y1="556.5" x2="216.57" y2="561.4" stroke="#000" stroke-width="0.35" stroke-opacity="0.36"/>
<line x1="216.74" y1="556.5" x2="216.74" y2="561.4" stroke="#000" stroke-width="0.35" stroke-opacity="0.36"/>
<line x1="216.91" y1="556.5" x2="216.91" y2="561.4" stroke="#000" stroke-width="0.35" stroke-opacity="0.36"/>
<line x1="217.25" y1="556.5" x2="217.25" y2="561.4" stroke="#000" stroke-width="0.35" stroke-opacity="0.36"/>
<line x1="217.42" y1="556.5" x2="217.42" y2="561.4" stroke="#000" stroke-width="0.35" stroke-opacity="0.36"/>
<line x1="217.59" y1="556.5" x2="217.59" y2="561.4" stroke="#000" stroke-width="0.35" stroke-opacity="0.36"/>
<line x1="217.76" y1="556.5" x2="217.76" y2="561.4" stroke="#000" stroke-width="0.35" stroke-opacity="0.36"/>
<line x1="217.93" y1="556.5" x2="217.93" y2="561.4" stroke="#000" stroke-width="0.35" stroke-opacity="0.36"/>
<line x1="218.27" y1="556.5" x2="218.27" y2="561.4" stroke="#000" stroke-width="0.35" stroke-opacity="0.36"/>
<line x1="218.44" y1="556.5" x2="218.44" y2="561.4" stroke="#000" stroke-width="0.35" stroke-opacity="0.36"/>
<line x1="218.61" y1="556.5" x2="218.61" y2="561.4" stroke="#000" stroke-width="0.35" stroke-opacity="0.36"/>
<line x1="218.78" y1="556.5" x2="218.78" y2="561.4" stroke="#000" stroke-width="0.35" stroke-opacity="0.36"/>
<line x1="218.95" y1="556.5" x2="218.95" y2="561.4" stroke="#000" stroke-width="0.35" stroke-opacity="0.36"/>
<line x1="219.12" y1="556.5" x2="219.12" y2="561.4" stroke="#000" stroke-width="0.35" stroke-opacity="0.36"/>
<line x1="219.29" y1="556.5" x2="219.29" y2="561.4" stroke="#000" stroke-width="0.35" stroke-opacity="0.36"/>
<line x1="219.46" y1="556.5" x2="219.46" y2="561.4" stroke="#000" stroke-width="0.35" stroke-opacity="0.36"/>
<line x1="219.63" y1="556.5" x2="219.63" y2="561.4" stroke="#000" stroke-width="0.35" stroke-opacity="0.36"/>
<line x1="219.8" y1="556.5" x2="219.8" y2="561.4" stroke="#000" stroke-width="0.35" stroke-opacity="0.36"/>
<line x1="220.14" y1="556.5" x2="220.14" y2="561.4" stroke="#000" stroke-width="0.35" stroke-opacity="0.36"/>
<line x1="220.31" y1="556.5" x2="220.31" y2="561.4" stroke="#000" stroke-width="0.35" stroke-opacity="0.36"/>
<line x1="220.48" y1="556.5" x2="220.48" y2="561.4" stroke="#000" stroke-width="0.35" stroke-opacity="0.36"/>
<line x1="220.65" y1="556.5" x2="220.65" y2="561.4" stroke="#000" stroke-width="0.35" stroke-opacity="0.36"/>
<line x1="220.82" y1="556.5" x2="220.82" y2="561.4" stroke="#000" stroke-width="0.35" stroke-opacity="0.36"/>
<line x1="220.99" y1="556.5" x2="220.99" y2="561.4" stroke="#000" stroke-width="0.35" stroke-opacity="0.36"/>
<line x1="221.16" y1="556.5" x2="221.16" y2="561.4" stroke="#000" stroke-width="0.35" stroke-opacity="0.36"/>
<line x1="221.33" y1="556.5" x2="221.33" y2="561.4" stroke="#000" stroke-width="0.35" stroke-opacity="0.36"/>
<line x1="221.67" y1="556.5" x2="221.67" y2="561.4" stroke="#000" stroke-width="0.35" stroke-opacity="0.36"/>
<line x1="222.18" y1="556.5" x2="222.18" y2="561.4" stroke="#000" stroke-width="0.35" stroke-opacity="0.36"/>
<line x1="222.52" y1="556.5" x2="222.52" y2="561.4" stroke="#000" stroke-width="0.35" stroke-opacity="0.36"/>
<line x1="223.03" y1="556.5" x2="223.03" y2="561.4" stroke="#000" stroke-width="0.35" stroke-opacity="0.36"/>
<line x1="223.2" y1="556.5" x2="223.2" y2="561.4" stroke="#000" stroke-width="0.35" stroke-opacity="0.36"/>
<line x1="223.54" y1="556.5" x2="223.54" y2="561.4" stroke="#000" stroke-width="0.35" stroke-opacity="0.36"/>
<line x1="224.05" y1="556.5" x2="224.05" y2="561.4" stroke="#000" stroke-width="0.35" stroke-opacity="0.36"/>
<line x1="224.22" y1="556.5" x2="224.22" y2="561.4" stroke="#000" stroke-width="0.35" stroke-opacity="0.36"/>
<line x1="224.39" y1="556.5" x2="224.39" y2="561.4" stroke="#000" stroke-width="0.35" stroke-opacity="0.36"/>
<line x1="224.73" y1="556.5" x2="224.73" y2="561.4" stroke="#000" stroke-width="0.35" stroke-opacity="0.36"/>
<line x1="224.9" y1="556.5" x2="224.9" y2="561.4" stroke="#000" stroke-width="0.35" stroke-opacity="0.36"/>
<line x1="225.07" y1="556.5" x2="225.07" y2="561.4" stroke="#000" stroke-width="0.35" stroke-opacity="0.36"/>
<line x1="225.41" y1="556.5" x2="225.41" y2="561.4" stroke="#000" stroke-width="0.35" stroke-opacity="0.36"/>
<line x1="225.58" y1="556.5" x2="225.58" y2="561.4" stroke="#000" stroke-width="0.35" stroke-opacity="0.36"/>
<line x1="225.92" y1="556.5" x2="225.92" y2="561.4" stroke="#000" stroke-width="0.35" stroke-opacity="0.36"/>
<line x1="226.09" y1="556.5" x2="226.09" y2="561.4" stroke="#000" stroke-width="0.35" stroke-opacity="0.36"/>
<line x1="226.43" y1="556.5" x2="226.43" y2="561.4" stroke="#000" stroke-width="0.35" stroke-opacity="0.36"/>
<line x1="226.6" y1="556.5" x2="226.6" y2="561.4" stroke="#000" stroke-width="0.35" stroke-opacity="0.36"/>
<line x1="226.94" y1="556.5" x2="226.94" y2="561.4" stroke="#000" stroke-width="0.35" stroke-opacity="0.36"/>
<line x1="227.11" y1="556.5" x2="227.11" y2="561.4" stroke="#000" stroke-width="0.35" stroke-opacity="0.36"/>
<line x1="227.45" y1="556.5" x2="227.45" y2="561.4" stroke="#000" stroke-width="0.35" stroke-opacity="0.36"/>
<line x1="227.78" y1="556.5" x2="227.78" y2="561.4" stroke="#000" stroke-width="0.35" stroke-opacity="0.36"/>
<line x1="227.95" y1="556.5" x2="227.95" y2="561.4" stroke="#000" stroke-width="0.35" stroke-opacity="0.36"/>
<line x1="228.12" y1="556.5" x2="228.12" y2="561.4" stroke="#000" stroke-width="0.35" stroke-opacity="0.36"/>
<line x1="228.29" y1="556.5" x2="228.29" y2="561.4" stroke="#000" stroke-width="0.35" stroke-opacity="0.36"/>
<line x1="228.46" y1="556.5" x2="228.46" y2="561.4" stroke="#000" stroke-width="0.35" stroke-opacity="0.36"/>
<line x1="228.63" y1="556.5" x2="228.63" y2="561.4" stroke="#000" stroke-width="0.35" stroke-opacity="0.36"/>
<line x1="228.8" y1="556.5" x2="228.8" y2="561.4" stroke="#000" stroke-width="0.35" stroke-opacity="0.36"/>
<line x1="228.97" y1="556.5" x2="228.97" y2="561.4" stroke="#000" stroke-width="0.35" stroke-opacity="0.36"/>
<line x1="229.82" y1="556.5" x2="229.82" y2="561.4" stroke="#000" stroke-width="0.35" stroke-opacity="0.36"/>
<line x1="229.99" y1="556.5" x2="229.99" y2="561.4" stroke="#000" stroke-width="0.35" stroke-opacity="0.36"/>
<line x1="230.16" y1="556.5" x2="230.16" y2="561.4" stroke="#000" stroke-width="0.35" stroke-opacity="0.36"/>
<line x1="230.33" y1="556.5" x2="230.33" y2="561.4" stroke="#000" stroke-width="0.35" stroke-opacity="0.36"/>
<line x1="231.01" y1="556.5" x2="231.01" y2="561.4" stroke="#000" stroke-width="0.35" stroke-opacity="0.36"/>
<line x1="231.18" y1="556.5" x2="231.18" y2="561.4" stroke="#000" stroke-width="0.35" stroke-opacity="0.36"/>
<line x1="231.35" y1="556.5" x2="231.35" y2="561.4" stroke="#000" stroke-width="0.35" stroke-opacity="0.36"/>
<line x1="231.52" y1="556.5" x2="231.52" y2="561.4" stroke="#000" stroke-width="0.35" stroke-opacity="0.36"/>
<line x1="231.86" y1="556.5" x2="231.86" y2="561.4" stroke="#000" stroke-width="0.35" stroke-opacity="0.36"/>
<line x1="232.03" y1="556.5" x2="232.03" y2="561.4" stroke="#000" stroke-width="0.35" stroke-opacity="0.36"/>
<line x1="232.37" y1="556.5" x2="232.37" y2="561.4" stroke="#000" stroke-width="0.35" stroke-opacity="0.36"/>
<line x1="232.71" y1="556.5" x2="232.71" y2="561.4" stroke="#000" stroke-width="0.35" stroke-opacity="0.36"/>
<line x1="232.88" y1="556.5" x2="232.88" y2="561.4" stroke="#000" stroke-width="0.35" stroke-opacity="0.36"/>
<line x1="233.05" y1="556.5" x2="233.05" y2="561.4" stroke="#000" stroke-width="0.35" stroke-opacity="0.36"/>
<line x1="233.39" y1="556.5" x2="233.39" y2="561.4" stroke="#000" stroke-width="0.35" stroke-opacity="0.36"/>
<line x1="233.56" y1="556.5" x2="233.56" y2="561.4" stroke="#000" stroke-width="0.35" stroke-opacity="0.36"/>
<line x1="233.73" y1="556.5" x2="233.73" y2="561.4" stroke="#000" stroke-width="0.35" stroke-opacity="0.36"/>
<line x1="233.9" y1="556.5" x2="233.9" y2="561.4" stroke="#000" stroke-width="0.35" stroke-opacity="0.36"/>
<line x1="234.07" y1="556.5" x2="234.07" y2="561.4" stroke="#000" stroke-width="0.35" stroke-opacity="0.36"/>
<line x1="234.24" y1="556.5" x2="234.24" y2="561.4" stroke="#000" stroke-width="0.35" stroke-opacity="0.36"/>
<line x1="234.41" y1="556.5" x2="234.41" y2="561.4" stroke="#000" stroke-width="0.35" stroke-opacity="0.36"/>
<line x1="234.58" y1="556.5" x2="234.58" y2="561.4" stroke="#000" stroke-width="0.35" stroke-opacity="0.36"/>
<line x1="234.92" y1="556.5" x2="234.92" y2="561.4" stroke="#000" stroke-width="0.35" stroke-opacity="0.36"/>
<line x1="235.09" y1="556.5" x2="235.09" y2="561.4" stroke="#000" stroke-width="0.35" stroke-opacity="0.36"/>
<line x1="235.26" y1="556.5" x2="235.26" y2="561.4" stroke="#000" stroke-width="0.35" stroke-opacity="0.36"/>
<line x1="235.43" y1="556.5" x2="235.43" y2="561.4" stroke="#000" stroke-width="0.35" stroke-opacity="0.36"/>
<line x1="235.6" y1="556.5" x2="235.6" y2="561.4" stroke="#000" stroke-width="0.35" stroke-opacity="0.36"/>
<line x1="235.77" y1="556.5" x2="235.77" y2="561.4" stroke="#000" stroke-width="0.35" stroke-opacity="0.36"/>
<line x1="235.94" y1="556.5" x2="235.94" y2="561.4" stroke="#000" stroke-width="0.35" stroke-opacity="0.36"/>
<line x1="236.11" y1="556.5" x2="236.11" y2="561.4" stroke="#000" stroke-width="0.35" stroke-opacity="0.36"/>
<line x1="236.28" y1="556.5" x2="236.28" y2="561.4" stroke="#000" stroke-width="0.35" stroke-opacity="0.36"/>
<line x1="236.45" y1="556.5" x2="236.45" y2="561.4" stroke="#000" stroke-width="0.35" stroke-opacity="0.36"/>
<line x1="236.79" y1="556.5" x2="236.79" y2="561.4" stroke="#000" stroke-width="0.35" stroke-opacity="0.36"/>
<line x1="237.13" y1="556.5" x2="237.13" y2="561.4" stroke="#000" stroke-width="0.35" stroke-opacity="0.36"/>
<line x1="237.3" y1="556.5" x2="237.3" y2="561.4" stroke="#000" stroke-width="0.35" stroke-opacity="0.36"/>
<line x1="237.47" y1="556.5" x2="237.47" y2="561.4" stroke="#000" stroke-width="0.35" stroke-opacity="0.36"/>
<line x1="237.81" y1="556.5" x2="237.81" y2="561.4" stroke="#000" stroke-width="0.35" stroke-opacity="0.36"/>
<line x1="237.98" y1="556.5" x2="237.98" y2="561.4" stroke="#000" stroke-width="0.35" stroke-opacity="0.36"/>
<line x1="238.15" y1="556.5" x2="238.15" y2="561.4" stroke="#000" stroke-width="0.35" stroke-opacity="0.36"/>
<line x1="238.49" y1="556.5" x2="238.49" y2="561.4" stroke="#000" stroke-width="0.35" stroke-opacity="0.36"/>
<line x1="238.66" y1="556.5" x2="238.66" y2="561.4" stroke="#000" stroke-width="0.35" stroke-opacity="0.36"/>
<line x1="238.83" y1="556.5" x2="238.83" y2="561.4" stroke="#000" stroke-width="0.35" stroke-opacity="0.36"/>
<line x1="239" y1="556.5" x2="239" y2="561.4" stroke="#000" stroke-width="0.35" stroke-opacity="0.36"/>
<rect x="171.2" y="561.4" width="69.8" height="2.1" fill="url(#cb)"/>
<line x1="167.5" y1="513.1" x2="167.5" y2="563.8" stroke="#231f20" stroke-width="1.1"/>
<line x1="167.5" y1="563.8" x2="244.4" y2="563.8" stroke="#231f20" stroke-width="1.1"/>
<line x1="171.2" y1="563.8" x2="171.2" y2="566" stroke="#231f20" stroke-width="0.6"/>
<text x="171.2" y="574" font-size="5.2" fill="#231f20" stroke="#231f20" stroke-width="0.05" text-anchor="middle">0</text>
<line x1="188.2" y1="563.8" x2="188.2" y2="566" stroke="#231f20" stroke-width="0.6"/>
<text x="188.2" y="574" font-size="5.2" fill="#231f20" stroke="#231f20" stroke-width="0.05" text-anchor="middle">5000</text>
<line x1="205.2" y1="563.8" x2="205.2" y2="566" stroke="#231f20" stroke-width="0.6"/>
<text x="205.2" y="574" font-size="5.2" fill="#231f20" stroke="#231f20" stroke-width="0.05" text-anchor="middle">10000</text>
<line x1="222.1" y1="563.8" x2="222.1" y2="566" stroke="#231f20" stroke-width="0.6"/>
<text x="222.1" y="574" font-size="5.2" fill="#231f20" stroke="#231f20" stroke-width="0.05" text-anchor="middle">15000</text>
<line x1="239" y1="563.8" x2="239" y2="566" stroke="#231f20" stroke-width="0.6"/>
<text x="239" y="574" font-size="5.2" fill="#231f20" stroke="#231f20" stroke-width="0.05" text-anchor="middle">20000</text>
<line x1="164.3" y1="517.2" x2="167.5" y2="517.2" stroke="#231f20" stroke-width="0.8"/>
<text x="161.5" y="519.1" font-size="5.3" fill="#231f20" stroke="#231f20" stroke-width="0.05" text-anchor="end" textLength="6.81" lengthAdjust="spacingAndGlyphs">0.0</text>
<line x1="164.3" y1="534.2" x2="167.5" y2="534.2" stroke="#231f20" stroke-width="0.8"/>
<text x="161.5" y="536.1" font-size="5.3" fill="#231f20" stroke="#231f20" stroke-width="0.05" text-anchor="end" textLength="9.67" lengthAdjust="spacingAndGlyphs">−0.2</text>
<line x1="164.3" y1="550.9" x2="167.5" y2="550.9" stroke="#231f20" stroke-width="0.8"/>
<text x="161.5" y="552.8" font-size="5.3" fill="#231f20" stroke="#231f20" stroke-width="0.05" text-anchor="end" textLength="9.67" lengthAdjust="spacingAndGlyphs">−0.4</text>
<path d="M171.2,517.2 L172.5,516.2 L174,516.8 L176,519 L178,519.8 L180,519.3 L182,520.2 L184,520 L187,522 L192,525 L197,528.5 L203,534.5 L210,542 L216,547.5 L221.5,551.8 L225,552.5 L228,554.5 L231,556 L233,554.5 L235.5,550 L237,546 L238,540 L239,530 L240.2,517.2" stroke="#6ab84a" stroke-width="0.8" fill="none"/>
<text x="161.8" y="504.8" font-size="5.3" fill="#231f20" stroke="#231f20" stroke-width="0.05" textLength="88" lengthAdjust="spacingAndGlyphs">REACTOME_INNATE_IMMUNE_SYSTEM</text>
<text x="176.3" y="511.2" font-size="5.3" fill="#231f20" stroke="#231f20" stroke-width="0.05" textLength="58.7" lengthAdjust="spacingAndGlyphs">NES=−2.12, padj=6.5e-04</text>
<text transform="translate(16.8 452) rotate(-90)" font-size="8.2" fill="#231f20" stroke="#231f20" stroke-width="0.12" text-anchor="middle" textLength="63.5" lengthAdjust="spacingAndGlyphs">Enrichment score</text>
<text transform="translate(145.1 452) rotate(-90)" font-size="8.2" fill="#231f20" stroke="#231f20" stroke-width="0.12" text-anchor="middle" textLength="63.5" lengthAdjust="spacingAndGlyphs">Enrichment score</text>
<text transform="translate(16.8 538) rotate(-90)" font-size="8.2" fill="#231f20" stroke="#231f20" stroke-width="0.12" text-anchor="middle" textLength="63.5" lengthAdjust="spacingAndGlyphs">Enrichment score</text>
<text transform="translate(145.1 538) rotate(-90)" font-size="8.2" fill="#231f20" stroke="#231f20" stroke-width="0.12" text-anchor="middle" textLength="63.5" lengthAdjust="spacingAndGlyphs">Enrichment score</text>
<rect x="110.4" y="582" width="45.2" height="6.1" fill="url(#cb2)"/>
<text x="80.8" y="586.8" font-size="5.6" fill="#231f20" stroke="#231f20" stroke-width="0.05" textLength="25.6" lengthAdjust="spacingAndGlyphs">LSC Cluster</text>
<text x="159.1" y="587.2" font-size="5.6" fill="#231f20" stroke="#231f20" stroke-width="0.05" textLength="35" lengthAdjust="spacingAndGlyphs">Pre-LSC Cluster</text>
<text x="282.8" y="402.2" font-size="11" fill="#231f20" stroke="#231f20" stroke-width="0.12">G</text>
<text x="320" y="397.8" font-size="6.3" fill="#231f20" stroke="#231f20" stroke-width="0.05" textLength="117.9" lengthAdjust="spacingAndGlyphs">CBFA2T3 isoform expression in primary and</text>
<text x="338.8" y="405.3" font-size="6.3" fill="#231f20" stroke="#231f20" stroke-width="0.05" textLength="87.5" lengthAdjust="spacingAndGlyphs">relapsed samples (GSE83533)</text>
<line x1="310.6" y1="410.5" x2="310.6" y2="535.8" stroke="#231f20" stroke-width="1.1"/>
<line x1="310.1" y1="535.8" x2="443.1" y2="535.8" stroke="#231f20" stroke-width="1.1"/>
<line x1="307.3" y1="536" x2="310.6" y2="536" stroke="#231f20" stroke-width="0.8"/>
<text x="304.6" y="538.2" font-size="6.3" fill="#231f20" stroke="#231f20" stroke-width="0.05" text-anchor="end" textLength="3.28" lengthAdjust="spacingAndGlyphs">0</text>
<line x1="307.3" y1="512.26" x2="310.6" y2="512.26" stroke="#231f20" stroke-width="0.8"/>
<text x="304.6" y="514.46" font-size="6.3" fill="#231f20" stroke="#231f20" stroke-width="0.05" text-anchor="end" textLength="3.28" lengthAdjust="spacingAndGlyphs">1</text>
<line x1="307.3" y1="488.52" x2="310.6" y2="488.52" stroke="#231f20" stroke-width="0.8"/>
<text x="304.6" y="490.72" font-size="6.3" fill="#231f20" stroke="#231f20" stroke-width="0.05" text-anchor="end" textLength="3.28" lengthAdjust="spacingAndGlyphs">2</text>
<line x1="307.3" y1="464.78" x2="310.6" y2="464.78" stroke="#231f20" stroke-width="0.8"/>
<text x="304.6" y="466.98" font-size="6.3" fill="#231f20" stroke="#231f20" stroke-width="0.05" text-anchor="end" textLength="3.28" lengthAdjust="spacingAndGlyphs">3</text>
<line x1="307.3" y1="441.04" x2="310.6" y2="441.04" stroke="#231f20" stroke-width="0.8"/>
<text x="304.6" y="443.24" font-size="6.3" fill="#231f20" stroke="#231f20" stroke-width="0.05" text-anchor="end" textLength="3.28" lengthAdjust="spacingAndGlyphs">4</text>
<line x1="307.3" y1="417.3" x2="310.6" y2="417.3" stroke="#231f20" stroke-width="0.8"/>
<text x="304.6" y="419.5" font-size="6.3" fill="#231f20" stroke="#231f20" stroke-width="0.05" text-anchor="end" textLength="3.28" lengthAdjust="spacingAndGlyphs">5</text>
<text transform="translate(294.9 473.3) rotate(-90)" font-size="8.4" fill="#231f20" stroke="#231f20" stroke-width="0.12" text-anchor="middle" textLength="130" lengthAdjust="spacingAndGlyphs">CBFA2T3 transcript expression (TPM)</text>
<line x1="321" y1="431.8" x2="321" y2="451.3" stroke="#231f20" stroke-width="0.95" stroke-dasharray="2.9 2.3"/>
<line x1="318.7" y1="431.8" x2="323.3" y2="431.8" stroke="#231f20" stroke-width="0.8"/>
<line x1="321" y1="468.3" x2="321" y2="481.3" stroke="#231f20" stroke-width="0.95" stroke-dasharray="2.9 2.3"/>
<line x1="318.7" y1="481.3" x2="323.3" y2="481.3" stroke="#231f20" stroke-width="0.8"/>
<rect x="315" y="451.3" width="12" height="17" fill="#6fa94e"/>
<line x1="315" y1="456.3" x2="327" y2="456.3" stroke="#1a1a1a" stroke-width="1.1"/>
<line x1="333.15" y1="466.3" x2="333.15" y2="477.5" stroke="#231f20" stroke-width="0.95" stroke-dasharray="2.9 2.3"/>
<line x1="330.85" y1="477.5" x2="335.45" y2="477.5" stroke="#231f20" stroke-width="0.8"/>
<rect x="327.5" y="447.5" width="11.3" height="18.8" fill="#a6283e"/>
<line x1="327.5" y1="460.8" x2="338.8" y2="460.8" stroke="#1a1a1a" stroke-width="1.1"/>
<line x1="349.15" y1="457" x2="349.15" y2="461.3" stroke="#231f20" stroke-width="0.95" stroke-dasharray="2.9 2.3"/>
<line x1="346.85" y1="457" x2="351.45" y2="457" stroke="#231f20" stroke-width="0.8"/>
<line x1="349.15" y1="500.8" x2="349.15" y2="520.8" stroke="#231f20" stroke-width="0.95" stroke-dasharray="2.9 2.3"/>
<line x1="346.85" y1="520.8" x2="351.45" y2="520.8" stroke="#231f20" stroke-width="0.8"/>
<rect x="343.3" y="461.3" width="11.7" height="39.5" fill="#6fa94e"/>
<line x1="343.3" y1="478.8" x2="355" y2="478.8" stroke="#1a1a1a" stroke-width="1.1"/>
<line x1="361.4" y1="448.8" x2="361.4" y2="451.8" stroke="#231f20" stroke-width="0.95" stroke-dasharray="2.9 2.3"/>
<line x1="359.1" y1="448.8" x2="363.7" y2="448.8" stroke="#231f20" stroke-width="0.8"/>
<line x1="361.4" y1="489.3" x2="361.4" y2="498.8" stroke="#231f20" stroke-width="0.95" stroke-dasharray="2.9 2.3"/>
<line x1="359.1" y1="498.8" x2="363.7" y2="498.8" stroke="#231f20" stroke-width="0.8"/>
<rect x="355.8" y="451.8" width="11.2" height="37.5" fill="#a6283e"/>
<line x1="355.8" y1="469.5" x2="367" y2="469.5" stroke="#1a1a1a" stroke-width="1.1"/>
<line x1="389" y1="429.3" x2="389" y2="430.6" stroke="#231f20" stroke-width="0.95" stroke-dasharray="2.9 2.3"/>
<line x1="386.7" y1="429.3" x2="391.3" y2="429.3" stroke="#231f20" stroke-width="0.8"/>
<line x1="389" y1="455.4" x2="389" y2="466.2" stroke="#231f20" stroke-width="0.95" stroke-dasharray="2.9 2.3"/>
<line x1="386.7" y1="466.2" x2="391.3" y2="466.2" stroke="#231f20" stroke-width="0.8"/>
<rect x="383.2" y="430.6" width="11.6" height="24.8" fill="#6fa94e"/>
<line x1="383.2" y1="441.4" x2="394.8" y2="441.4" stroke="#1a1a1a" stroke-width="1.1"/>
<line x1="401.25" y1="456.7" x2="401.25" y2="485" stroke="#231f20" stroke-width="0.95" stroke-dasharray="2.9 2.3"/>
<line x1="398.95" y1="485" x2="403.55" y2="485" stroke="#231f20" stroke-width="0.8"/>
<rect x="395.6" y="437.1" width="11.3" height="19.6" fill="#a6283e"/>
<line x1="395.6" y1="454" x2="406.9" y2="454" stroke="#1a1a1a" stroke-width="1.1"/>
<line x1="417.45" y1="460.2" x2="417.45" y2="475.6" stroke="#231f20" stroke-width="0.95" stroke-dasharray="2.9 2.3"/>
<line x1="415.15" y1="460.2" x2="419.75" y2="460.2" stroke="#231f20" stroke-width="0.8"/>
<line x1="417.45" y1="523.2" x2="417.45" y2="528.4" stroke="#231f20" stroke-width="0.95" stroke-dasharray="2.9 2.3"/>
<line x1="415.15" y1="528.4" x2="419.75" y2="528.4" stroke="#231f20" stroke-width="0.8"/>
<rect x="411.8" y="475.6" width="11.3" height="47.6" fill="#6fa94e"/>
<line x1="411.8" y1="503" x2="423.1" y2="503" stroke="#1a1a1a" stroke-width="1.1"/>
<line x1="429.55" y1="444.6" x2="429.55" y2="448.7" stroke="#231f20" stroke-width="0.95" stroke-dasharray="2.9 2.3"/>
<line x1="427.25" y1="444.6" x2="431.85" y2="444.6" stroke="#231f20" stroke-width="0.8"/>
<rect x="423.9" y="448.7" width="11.3" height="18.3" fill="#a6283e"/>
<line x1="423.9" y1="460" x2="435.2" y2="460" stroke="#1a1a1a" stroke-width="1.1"/>
<line x1="318.3" y1="429.2" x2="337" y2="429.2" stroke="#231f20" stroke-width="0.8"/>
<text x="327.65" y="426.6" font-size="5.2" fill="#231f20" stroke="#231f20" stroke-width="0.05" text-anchor="middle">n.s.</text>
<line x1="344.5" y1="446.7" x2="367" y2="446.7" stroke="#231f20" stroke-width="0.8"/>
<text x="355.75" y="444.2" font-size="5.2" fill="#231f20" stroke="#231f20" stroke-width="0.05" text-anchor="middle">n.s.</text>
<line x1="385.4" y1="427" x2="409.1" y2="427" stroke="#231f20" stroke-width="0.8"/>
<text x="397.25" y="423.8" font-size="5.2" fill="#231f20" stroke="#231f20" stroke-width="0.05" text-anchor="middle">n.s</text>
<line x1="412.3" y1="442.9" x2="435.7" y2="442.9" stroke="#231f20" stroke-width="0.8"/>
<text x="424" y="439.6" font-size="5.2" fill="#231f20" stroke="#231f20" stroke-width="0.05" text-anchor="middle">p=0.012</text>
<rect x="452.2" y="462.1" width="9.9" height="10.8" fill="#6fa94e"/>
<rect x="452.2" y="476.9" width="9.9" height="10.8" fill="#a6283e"/>
<text x="465.6" y="469.4" font-size="5.4" fill="#231f20" stroke="#231f20" stroke-width="0.05" textLength="36.1" lengthAdjust="spacingAndGlyphs">Primary sample</text>
<text x="465.6" y="484.2" font-size="5.4" fill="#231f20" stroke="#231f20" stroke-width="0.05" textLength="38.8" lengthAdjust="spacingAndGlyphs">Relapsed sample</text>
<g transform="translate(331.8 551.8) rotate(-45)"><text x="0" y="0" font-size="6.2" text-anchor="middle" fill="#231f20" textLength="24" lengthAdjust="spacingAndGlyphs" stroke="#231f20" stroke-width="0.05">CBFA2T3</text><text x="-0.6" y="-7" font-size="6.2" stroke="#231f20" stroke-width="0.05" text-anchor="middle" fill="#231f20">high-</text></g>
<g transform="translate(359.9 551.8) rotate(-45)"><text x="0" y="0" font-size="6.2" text-anchor="middle" fill="#231f20" textLength="24" lengthAdjust="spacingAndGlyphs" stroke="#231f20" stroke-width="0.05">CBFA2T3</text><text x="-0.6" y="-7" font-size="6.2" stroke="#231f20" stroke-width="0.05" text-anchor="middle" fill="#231f20">low-</text></g>
<g transform="translate(399.3 551.8) rotate(-45)"><text x="0" y="0" font-size="6.2" text-anchor="middle" fill="#231f20" textLength="24" lengthAdjust="spacingAndGlyphs" stroke="#231f20" stroke-width="0.05">CBFA2T3</text><text x="-0.6" y="-7" font-size="6.2" stroke="#231f20" stroke-width="0.05" text-anchor="middle" fill="#231f20">high-</text></g>
<g transform="translate(428.4 551.8) rotate(-45)"><text x="0" y="0" font-size="6.2" text-anchor="middle" fill="#231f20" textLength="24" lengthAdjust="spacingAndGlyphs" stroke="#231f20" stroke-width="0.05">CBFA2T3</text><text x="-0.6" y="-7" font-size="6.2" stroke="#231f20" stroke-width="0.05" text-anchor="middle" fill="#231f20">low-</text></g>
<line x1="313.6" y1="564.5" x2="369.6" y2="564.5" stroke="#231f20" stroke-width="0.9"/>
<line x1="381.2" y1="564.5" x2="437.5" y2="564.5" stroke="#231f20" stroke-width="0.9"/>
<text x="341.6" y="572.3" font-size="5.6" fill="#231f20" stroke="#231f20" stroke-width="0.05" text-anchor="middle" textLength="32.8" lengthAdjust="spacingAndGlyphs">NM_175931</text>
<text x="409.3" y="572.3" font-size="5.6" fill="#b03a4a" stroke="#b03a4a" stroke-width="0.05" text-anchor="middle" textLength="33.7" lengthAdjust="spacingAndGlyphs">NM_005187</text>
<text x="392.1" y="586.7" font-size="5.6" fill="#b03a4a" stroke="#b03a4a" stroke-width="0.05" textLength="33.1" lengthAdjust="spacingAndGlyphs">NM_005187</text>
<path d="M435.2,592.1 L435.2,584.6 L430,584.6" stroke="#111" stroke-width="0.7" fill="none"/>
<path d="M431,583.3 L428.6,584.6 L431,585.9 z" stroke="none" stroke-width="0" fill="#111"/>
<line x1="321.3" y1="598.3" x2="435.2" y2="598.3" stroke="#3f5f96" stroke-width="0.9"/>
<line x1="435.2" y1="593.8" x2="435.2" y2="602.2" stroke="#3f5f96" stroke-width="0.9"/>
<rect x="321.1" y="594.2" width="3.9" height="8.2" fill="#3f5f96"/>
<line x1="326.7" y1="593.8" x2="326.7" y2="602.6" stroke="#3f5f96" stroke-width="1.05"/>
<line x1="328.8" y1="593.8" x2="328.8" y2="602.6" stroke="#3f5f96" stroke-width="1.05"/>
<line x1="331" y1="593.8" x2="331" y2="602.6" stroke="#3f5f96" stroke-width="1.05"/>
<line x1="333.7" y1="593.8" x2="333.7" y2="602.6" stroke="#3f5f96" stroke-width="1.05"/>
<line x1="340.4" y1="593.8" x2="340.4" y2="602.6" stroke="#3f5f96" stroke-width="1.05"/>
<line x1="347.2" y1="593.8" x2="347.2" y2="602.6" stroke="#3f5f96" stroke-width="1.05"/>
<line x1="351.2" y1="593.8" x2="351.2" y2="602.6" stroke="#3f5f96" stroke-width="1.05"/>
<text x="359" y="604.2" font-size="4.5" fill="#231f20" stroke="#231f20" stroke-width="0.05" textLength="27.2" lengthAdjust="spacingAndGlyphs">NM_175931</text>
<path d="M394.8,613.1 L394.8,602.9 L390,602.9" stroke="#111" stroke-width="0.7" fill="none"/>
<path d="M391,601.6 L388.6,602.9 L391,604.2 z" stroke="none" stroke-width="0" fill="#111"/>
<line x1="321.3" y1="613.7" x2="394.8" y2="613.7" stroke="#3f5f96" stroke-width="0.9"/>
<rect x="321.1" y="609.6" width="3.9" height="8.2" fill="#3f5f96"/>
<line x1="326.7" y1="609.4" x2="326.7" y2="618" stroke="#3f5f96" stroke-width="1.05"/>
<line x1="328.8" y1="609.4" x2="328.8" y2="618" stroke="#3f5f96" stroke-width="1.05"/>
<line x1="331" y1="609.4" x2="331" y2="618" stroke="#3f5f96" stroke-width="1.05"/>
<line x1="333.7" y1="609.4" x2="333.7" y2="618" stroke="#3f5f96" stroke-width="1.05"/>
<line x1="340.4" y1="609.4" x2="340.4" y2="618" stroke="#3f5f96" stroke-width="1.05"/>
<line x1="351.2" y1="609.4" x2="351.2" y2="618" stroke="#3f5f96" stroke-width="1.05"/>
<text x="397.5" y="615.6" font-size="6.2" fill="#231f20" stroke="#231f20" stroke-width="0.05" textLength="24.2" lengthAdjust="spacingAndGlyphs">CBFA2T3</text>
<rect x="0" y="0" width="520" height="1" fill="#060606"/>
<rect x="0" y="624" width="520" height="1" fill="#060606"/>
<rect x="0" y="0" width="1" height="625" fill="#474747"/>
<rect x="1" y="0" width="1" height="625" fill="#9a9a9a"/>
<rect x="519" y="0" width="1" height="625" fill="#474747"/>
<rect x="518" y="0" width="1" height="625" fill="#9a9a9a"/>
</svg>
</body></html>
